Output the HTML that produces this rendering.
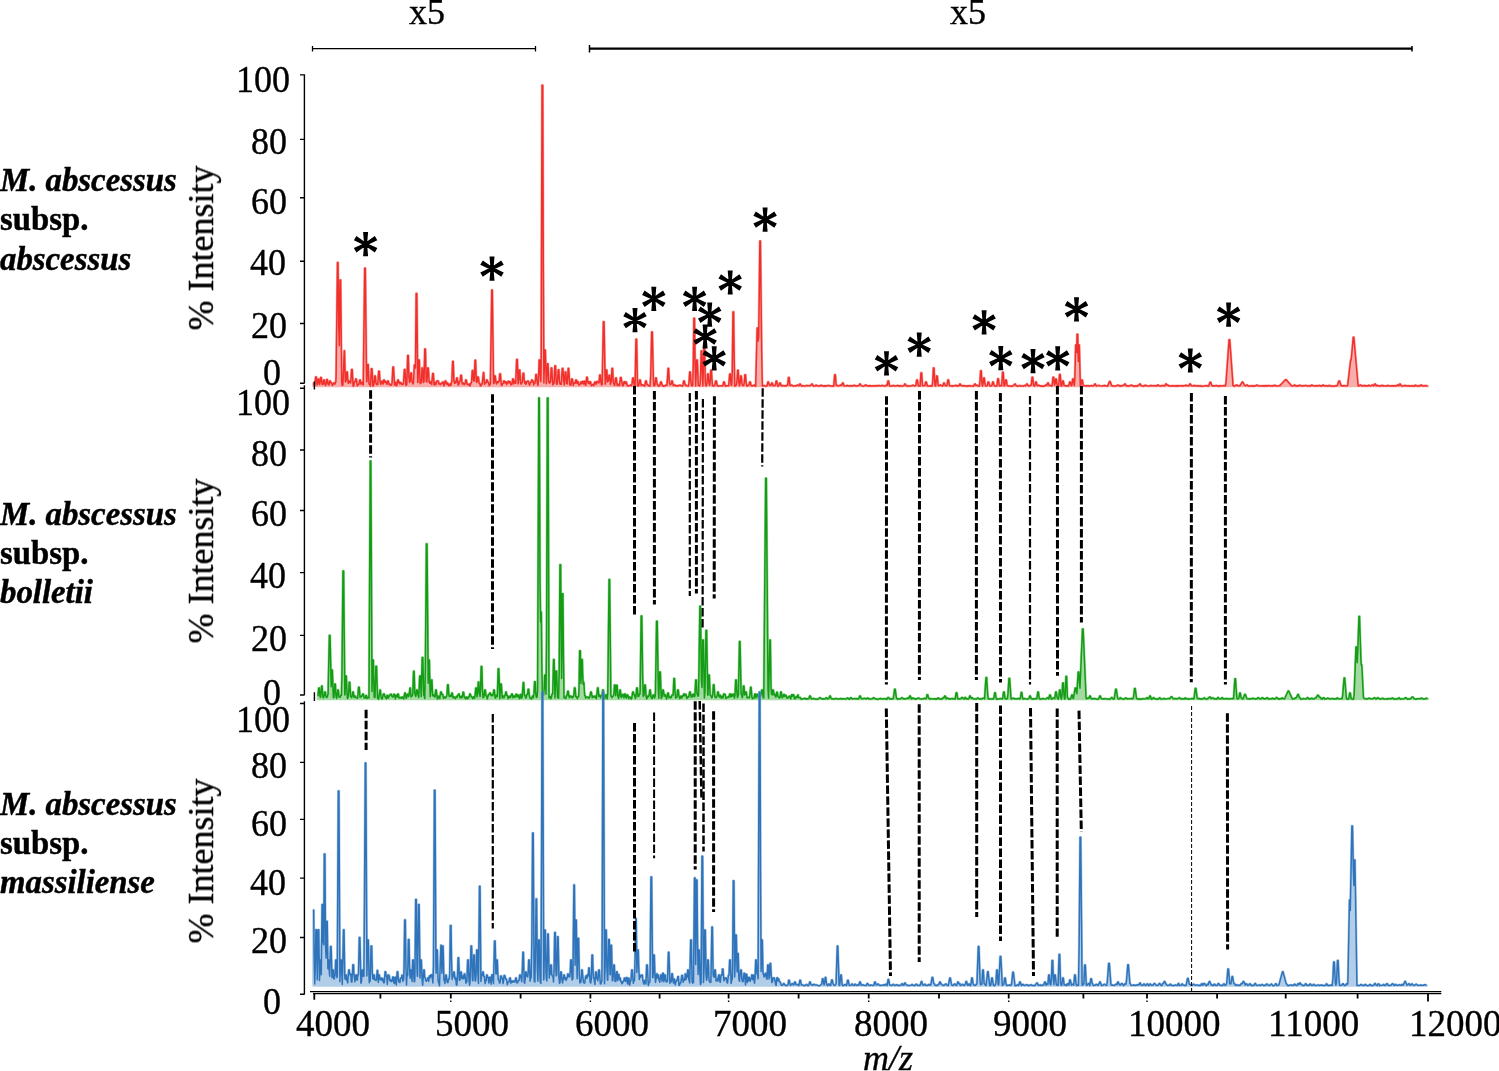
<!DOCTYPE html>
<html><head><meta charset="utf-8"><style>
html,body{margin:0;padding:0;background:#fff;width:1499px;height:1071px;overflow:hidden}
#c{position:relative;width:1499px;height:1071px;overflow:hidden}
.yl,.xl,.x5,.mz,.sp,.yt{position:absolute;will-change:transform;font-family:"Liberation Serif",serif;color:#000;white-space:nowrap;line-height:1}
.yl,.x5{font-size:36px}
.yl,.xl,.x5,.mz,.yt{-webkit-text-stroke:0.35px #000}
.yl{transform:scaleY(1.055);transform-origin:0 30px}
.xl{font-size:37px}
.mz{font-size:36px;font-style:italic}
.sp{left:0;font-size:32.8px;font-weight:bold;line-height:1;-webkit-text-stroke:0.45px #000}
.sp.bi{font-style:italic}
.yt{font-size:36px;transform:translate(-50%,-50%) rotate(-90deg);transform-origin:center}
</style></head><body><div id="c">
<svg width="1499" height="1071" viewBox="0 0 1499 1071" style="position:absolute;left:0;top:0"><g stroke="#000" fill="none"><path d="M312.5 48.7H535.5M312.5 46H312.5V51.6M535.5 46V51.6" stroke-width="1.3"/><path d="M589.5 48.7H1412.3" stroke-width="2.2"/><path d="M589.5 45V52.5M1412 46V51.5" stroke-width="1.5"/></g><path d="M313.5 383.2L313.8 383.2L314.7 385.9L315.7 377.0L316.3 377.0L317.1 385.1L317.7 383.0L318.3 379.0L318.8 379.0L319.5 384.6L320.2 381.8L320.7 377.5L321.3 377.5L321.9 383.5L322.2 384.6L322.5 384.6L323.1 384.1L323.7 380.0L324.3 380.0L324.9 384.1L325.5 385.4L326.1 384.0L326.7 379.5L327.3 379.5L327.9 383.6L328.5 384.9L329 384.9L329.7 381.0L330.3 381.1L331 383.1L331.6 383.1L332.1 385.0L332.7 385.4L333.5 382.9L334.1 382.9L334.5 384.1L335.1 384.1L335.5 382.4L335.8 382.4L336.1 377.1L337.5 262.5L338 262.5L338.7 324.7L339.3 345.7L340 280.0L340.6 280.0L341.7 383.2L342.3 385.5L342.9 385.1L344.3 350.7L344.5 350.7L345.3 382.0L345.5 381.2L346.1 381.2L346.7 372.0L347.3 372.0L347.7 378.4L348.3 383.3L348.7 381.1L349.3 381.1L349.5 382.5L350.6 382.5L350.7 382.9L351.6 369.5L352.2 369.5L353.1 386.1L353.7 386.0L354.4 382.0L354.9 382.0L355.5 380.6L355.7 379.0L356.3 379.0L357.3 385.9L358.5 384.3L359 384.3L359.7 380.0L360.3 380.0L360.9 384.2L361.5 383.9L361.8 382.4L362.4 382.4L362.7 384.5L363.3 385.0L364.7 268.2L365.3 268.2L366.4 368.2L366.7 381.8L366.9 381.8L367.6 364.6L368.2 364.6L369 384.0L369.6 384.2L370.5 386.1L371.4 368.7L372 368.7L372.9 386.2L373.5 385.9L374.1 382.9L374.7 376.0L375.3 376.0L375.9 382.9L376.5 384.6L376.8 383.7L377.4 383.7L377.7 384.7L378.7 371.2L379.3 371.2L380.1 382.6L380.3 382.6L380.7 384.4L381.3 382.8L381.6 381.2L382.2 381.2L382.5 382.8L383.1 384.1L383.7 380.0L384.3 380.0L384.9 382.5L385.2 381.4L385.8 381.4L386.8 384.2L387.1 384.2L387.7 381.0L388.3 381.0L389.1 384.7L389.5 384.2L390.1 384.2L390.9 385.4L391.5 385.0L392.1 382.6L392.9 367.1L393.5 367.1L394.5 385.1L395.1 382.2L395.6 382.2L396.3 385.8L396.9 385.5L397.7 380.0L398.3 380.0L398.7 382.8L399 382.1L399.6 382.1L399.9 384.0L400.6 382.8L401.2 382.8L401.7 384.1L402.3 384.7L402.9 383.9L403.4 383.9L403.5 384.1L404.4 369.5L405 369.5L405.9 385.4L406.2 384.8L406.8 384.8L407.7 355.6L408.3 355.6L408.9 376.6L409.5 382.5L409.8 381.4L410.1 381.4L410.7 373.0L411.3 373.0L412 382.3L412.6 382.2L413.1 384.0L413.5 382.6L414.3 365.0L414.8 365.0L414.9 367.4L415.5 367.9L416.2 293.5L416.8 293.5L417.7 382.5L417.9 382.5L418.7 360.0L419.3 360.0L420 381.8L420.3 383.7L420.9 383.2L421.4 381.4L422.1 367.9L422.6 367.9L423.3 382.5L424 382.1L424.8 349.1L425.4 349.1L426.2 381.3L426.8 381.4L426.9 382.2L427.7 368.0L428.3 368.0L429.1 381.4L429.3 382.3L429.9 383.3L430.3 381.8L430.9 381.8L431.7 384.6L432.7 373.6L433.3 373.6L434.1 385.0L434.6 382.6L435.2 382.6L435.3 383.4L435.9 384.7L436.8 381.0L438.3 381.0L438.9 384.1L439.2 383.4L439.8 383.5L440.1 384.2L440.7 384.6L441.3 383.2L441.9 383.3L442.5 382.9L442.6 382.0L443.2 382.0L443.7 385.7L444.3 385.1L445.2 381.0L445.8 381.0L446.1 382.7L446.7 384.2L447.1 383.0L447.7 383.0L448.5 385.4L449.1 385.8L449.8 384.0L450.4 384.0L450.9 385.4L451.5 382.3L451.8 382.3L452.7 361.4L453.2 361.4L453.9 381.2L454.5 383.4L454.8 381.5L455.4 381.4L455.7 383.0L456.3 381.7L456.7 378.0L457.3 378.0L458.1 385.1L458.7 384.8L459.6 381.3L460.2 381.3L460.8 375.2L461.4 375.2L462 382.6L462.3 384.0L462.9 383.0L463.4 383.0L464.1 384.7L464.7 384.2L465.4 382.2L465.7 380.0L466.3 380.0L467.1 384.3L467.6 384.3L468.3 385.0L468.7 384.2L469.3 384.1L470.1 386.0L470.9 383.0L471.5 383.0L472.3 370.5L472.9 370.5L473.4 379.6L473.7 381.1L474.3 381.0L475 360.3L475.6 360.3L476.3 380.7L476.7 382.6L477.3 381.1L477.7 377.0L478.3 377.0L479.1 383.2L479.7 383.2L480.3 385.8L480.9 385.9L481.6 384.1L482.2 384.1L483.5 372.5L483.7 372.5L484.5 384.3L485.1 382.4L485.7 382.4L486.3 382.8L486.7 380.0L487.3 380.0L487.5 381.4L487.9 382.3L488.4 382.3L489.3 385.7L489.9 384.3L490.4 384.3L491.8 290.0L492.3 290.0L493.5 381.4L493.7 383.6L494 383.6L494.7 376.0L495.3 376.0L495.9 382.5L496 382.5L496.5 384.0L497.3 381.8L497.9 381.8L498.3 382.6L498.6 381.3L499.2 381.3L499.8 373.9L500.4 373.9L501.3 385.1L501.9 385.5L502.7 383.5L503.3 383.5L503.7 381.0L504.3 381.0L504.9 383.1L505.3 381.8L505.9 381.8L506.7 384.6L507.3 382.4L507.8 382.4L507.9 382.9L508.2 381.3L508.8 381.3L509.1 382.9L509.7 381.7L510.2 381.7L510.9 384.8L511.5 384.8L512.1 383.8L512.7 379.0L513.3 379.0L513.9 383.8L514.7 381.1L515.3 381.1L515.7 383.3L516.7 359.6L517.3 359.6L518.1 383.9L518.7 379.2L519.3 370.0L519.8 370.0L520.5 382.9L521.1 384.3L521.7 382.8L522.2 382.8L523.1 373.2L523.7 373.2L524.2 380.7L524.7 383.2L524.9 381.8L525.5 381.8L525.9 384.4L526.5 382.8L526.6 381.8L527.2 381.9L527.7 381.0L528.3 381.0L529.5 385.3L530.7 382.2L531.2 382.3L531.7 380.0L532.3 380.0L532.5 381.4L533.2 381.2L533.7 384.9L534.2 382.9L534.8 382.9L534.9 383.4L535.5 379.8L535.9 374.5L536.5 374.5L537.3 383.1L537.9 385.4L538.5 380.9L539.2 360.0L539.8 360.0L540.3 374.9L540.9 381.6L541.2 355.9L542.1 85.2L542.7 85.2L543.3 265.7L543.9 383.1L544.8 350.0L545.3 350.0L546.3 383.7L546.5 383.0L547.5 363.7L548 363.7L548.7 381.6L549.3 383.2L549.6 381.8L550.2 381.8L550.5 382.5L551.2 368.0L551.8 368.0L552.3 378.3L552.9 384.9L553.7 383.3L554.1 383.3L554.9 365.7L555.5 365.7L556.3 383.9L556.9 383.9L557.1 384.3L557.7 378.4L558.3 369.8L558.8 369.8L559.5 382.8L560.1 384.2L560.4 383.1L561 383.1L561.3 384.2L562.3 368.4L562.9 368.4L563.7 381.9L563.9 381.9L564.3 385.0L565.2 372.0L565.8 372.0L566.5 383.6L567.1 383.6L567.3 384.0L568.2 368.4L568.7 368.4L569.7 384.6L569.9 384.0L570.5 384.0L570.9 385.2L571.7 379.0L572.3 379.0L573.3 385.4L573.9 382.9L574.4 382.9L574.5 383.3L575.1 383.3L575.8 380.0L576.4 380.0L576.9 383.4L577.5 381.6L578 381.6L578.7 384.8L579.3 385.2L580 384.1L580.3 384.0L580.7 382.0L581.3 382.0L581.7 383.8L582.3 382.3L582.5 381.4L583 381.4L583.5 384.1L584.2 381.3L584.8 381.3L585.3 385.1L585.9 385.3L586.7 377.2L587.3 377.2L587.7 381.2L588.3 383.4L588.5 382.1L589.1 382.1L589.5 383.7L589.9 381.7L590.5 381.7L591.3 385.8L591.9 385.3L592.7 384.5L593 384.5L593.7 385.7L594.7 382.0L595.3 382.0L596.1 384.4L597 381.4L597.5 381.4L597.9 382.6L598.9 383.0L599.1 382.6L599.7 375.0L600.3 375.0L600.9 382.3L601.5 385.0L601.6 384.6L602.2 384.6L603.4 321.7L604 321.7L605.2 384.3L605.5 383.4L606.3 370.0L606.8 370.0L607.5 381.9L607.7 381.0L608.3 381.0L608.7 378.9L609.1 375.2L609.6 375.2L610.5 384.6L611.1 381.9L611.3 381.9L612 368.4L612.6 368.4L613.2 381.5L614.1 384.9L614.7 385.4L615.7 378.0L616.3 378.0L617.1 385.4L617.7 384.3L618.3 384.4L618.9 385.6L619.5 385.6L620.5 377.5L621.1 377.5L621.9 382.9L622.1 383.0L622.5 385.3L623.1 385.8L624.1 381.8L624.7 381.8L625.3 383.8L625.7 382.0L626.3 382.0L627.3 385.8L627.9 385.7L628.5 386.0L630.7 385.1L631.5 385.7L632.1 383.5L632.7 378.0L633.3 378.0L633.9 383.5L634.5 386.0L635.1 386.0L636 339.2L636.6 339.2L637.5 385.7L638.1 386.0L638.7 385.8L639.7 380.0L640.3 380.0L641.1 385.5L641.7 385.4L642.3 384.8L642.9 384.8L643.5 385.4L644.7 386.2L645.7 381.0L646.3 381.0L646.9 384.6L647.5 384.6L648.9 386.0L650.1 386.1L650.7 377.2L651.7 332.0L652.3 332.0L653.3 377.2L653.7 385.2L654.3 385.9L654.9 385.4L655.7 378.0L656.3 378.0L656.7 381.7L657.3 384.8L657.9 384.8L658.5 386.2L659.1 385.7L659.7 385.9L660.7 382.0L661.3 382.0L662.1 385.1L662.3 385.1L662.7 385.8L663.3 386.2L663.9 385.7L664.5 385.7L665.1 386.1L666.1 384.9L666.7 384.9L666.9 385.1L667.5 378.5L668.1 368.4L668.6 368.4L669.3 382.6L669.9 384.8L671.1 384.4L671.7 381.0L672.3 381.0L672.9 384.4L673.5 385.8L674.4 384.9L675 384.9L675.9 385.9L676.5 385.8L677.1 386.0L677.7 385.8L678.3 386.0L679.5 385.2L680.1 385.2L681.3 385.9L681.9 385.7L682.5 386.1L683.1 384.4L683.7 381.0L684.3 381.0L685.1 384.9L685.7 384.9L686.7 385.9L687.3 386.1L687.9 385.9L688.5 386.1L689.1 381.7L689.7 372.0L690.3 372.0L690.9 381.7L691.5 385.8L692.7 385.7L693.3 365.0L693.9 318.3L694.5 318.3L695.1 365.0L695.7 385.9L696.7 360.0L697.3 360.0L698.3 385.4L699.3 385.9L699.9 385.8L700.5 379.2L701.2 351.1L701.8 351.1L702.3 371.2L702.9 386.0L703.9 345.6L704.5 345.6L705.3 382.7L705.9 385.8L706.5 385.8L707.1 382.3L707.7 374.0L708.3 374.0L708.9 382.3L709.5 385.3L709.8 385.1L710.1 382.9L710.8 370.2L711.4 370.2L711.9 379.3L712.5 385.8L713.1 385.8L713.7 386.1L714.3 385.6L715 384.5L715.7 381.0L716.3 381.0L717.3 385.8L717.9 386.0L722.1 385.7L722.7 385.9L723.7 382.0L724.3 382.0L725.1 385.7L725.7 386.2L726.3 385.8L728.1 385.7L728.7 385.8L729.7 374.0L730.3 374.0L731.1 385.0L731.7 385.3L732.3 371.5L733 311.9L733.6 311.9L734.1 354.5L734.7 386.2L735.3 385.8L735.9 385.0L736.5 385.0L737.1 379.3L737.7 370.2L738.2 370.2L738.9 382.9L739.5 385.9L740.1 382.9L740.7 376.0L741.3 376.0L741.9 382.9L742.5 385.4L743.3 385.2L743.7 385.5L744.3 382.5L744.9 374.7L745.5 374.7L746.1 382.5L746.7 385.8L747.3 386.1L748.1 385.3L748.7 385.3L749.1 384.8L749.7 382.0L750.3 382.0L750.9 384.8L751.5 386.0L752.1 385.7L752.7 386.0L754 385.0L754.3 385.0L755.1 386.1L755.7 386.2L757.2 328.0L757.8 328.0L758.1 341.1L758.7 337.7L759.9 241.0L760.4 241.0L761.7 355.2L762.3 386.0L762.9 386.1L763.6 385.6L764.2 385.6L765.9 386.2L767.1 385.7L767.9 382.0L768.5 382.0L768.9 383.8L769.6 385.2L770.2 385.2L770.7 385.6L771.3 384.4L771.7 383.0L772.3 383.0L773.1 385.8L774.9 385.7L775.6 384.0L776.2 381.0L776.7 381.0L777.3 384.4L777.9 386.2L779.1 385.1L779.7 383.0L780.3 383.0L780.9 385.1L781.5 385.9L783 385.6L783.9 385.9L785.1 385.8L785.7 386.0L787.1 385.1L787.7 385.1L788.5 377.5L789.1 377.5L789.9 385.3L790.5 385.5L791.7 385.1L792.9 386.0L793.5 386.1L794.1 385.9L795.3 386.0L797.5 385.1L798.9 385.8L799.7 384.0L800.3 384.0L801.3 385.9L801.9 386.2L802.5 385.8L803.7 385.8L804.3 386.1L805.5 385.9L806.9 385.4L807.3 385.8L809.7 385.8L810.5 385.4L810.9 385.5L811.7 384.0L812.3 384.0L813.3 386.1L813.9 385.9L814.5 386.0L815.1 385.9L815.9 385.3L816.5 385.3L817.5 386.0L818.1 385.8L818.7 386.1L819.9 386.0L820.7 385.3L821.3 385.3L822.3 386.0L822.9 385.8L824.1 386.2L824.7 385.8L825.3 386.2L825.9 385.7L826.5 386.0L828.7 385.4L829.5 385.8L830.7 386.1L831.9 386.0L832.5 386.2L833.1 385.8L833.7 386.1L834.7 374.7L835.3 374.7L836.1 385.1L836.8 385.2L837.9 386.1L839.7 385.6L840.4 385.1L841 385.1L841.5 385.5L842.1 384.4L842.5 383.0L843.1 383.0L843.9 385.8L845.7 386.0L847.6 385.5L848.1 385.9L850.5 385.7L851.1 386.1L852.3 385.8L852.9 385.9L854.5 385.3L855.3 385.9L855.9 385.9L856.5 386.1L857.1 385.8L858.9 385.8L859.7 384.0L860.3 384.0L860.8 385.2L861.9 385.9L863.7 386.2L865.6 385.0L867.3 385.9L867.9 385.8L868.5 386.1L869.1 385.7L869.7 386.0L870.3 385.7L870.9 386.1L875.7 385.7L876.3 386.0L878.7 385.5L879.3 385.8L881.7 385.8L882.4 385.4L884.1 386.1L885.3 385.9L886.1 385.3L886.7 385.3L887.1 385.5L888 381.0L888.6 381.0L889.5 386.0L891.3 386.1L893.4 385.5L894.9 386.1L898 385.5L899.1 386.2L899.7 386.1L900.3 385.7L900.9 385.8L901.5 386.2L903.9 385.8L904.7 384.0L905.3 384.0L906.3 386.0L906.9 385.8L908.1 386.2L908.7 385.9L909.3 386.1L911.7 385.8L912.5 385.3L913.1 385.3L914.1 385.9L914.7 386.0L915.9 385.5L916.7 380.0L917.3 380.0L918.3 385.8L918.9 386.0L919.5 385.8L920.1 386.1L921 372.9L921.6 372.9L922.5 385.8L924.9 385.5L925.7 382.0L926.3 382.0L927.3 386.0L927.9 385.9L928.5 386.1L929.1 385.8L929.7 386.1L930.3 385.8L931.5 386.2L932.1 385.8L932.7 382.5L933.4 368.1L934 368.1L934.5 378.4L935.1 386.0L935.7 386.0L936.7 376.0L937.3 376.0L938.1 385.2L938.7 385.7L939.3 385.7L940.1 385.1L940.7 385.1L941.7 385.8L942.3 386.0L942.9 385.8L943.7 383.0L944.3 383.0L945.3 385.8L946.5 385.8L947.1 385.5L947.9 379.9L948.5 379.9L949.5 385.7L950.7 385.7L951.3 386.1L951.9 386.0L952.5 386.2L953.1 385.7L954.9 385.8L955.7 385.3L956.1 385.4L956.7 386.0L957.9 385.8L958.5 386.0L959.1 385.4L959.7 384.0L960.3 384.0L960.9 385.4L961.5 385.8L963.3 385.7L963.9 386.0L964.5 385.8L965.7 386.1L966.3 385.9L967.5 386.2L968.1 385.7L971.1 385.9L971.7 386.1L972.3 386.1L972.9 385.8L973.5 386.2L974.1 385.4L974.7 384.0L975.3 384.0L975.9 385.4L977.2 385.2L978.3 386.2L978.9 385.8L979.5 385.9L980.1 379.5L980.7 370.7L981.2 370.7L981.9 383.0L982.5 386.0L983.1 383.5L983.7 378.0L984.3 378.0L984.9 383.5L985.5 385.9L987.3 385.7L988.1 382.0L988.7 382.0L989.7 385.8L990.9 386.1L991.5 385.9L992.1 384.8L992.7 382.0L993.3 382.0L993.9 384.8L994.5 385.8L995.7 386.2L996.3 385.8L996.9 386.0L997.8 378.8L998.4 378.8L999.3 386.0L1001.1 385.5L1001.7 385.7L1002.6 372.3L1003.2 372.3L1004.1 386.0L1004.7 385.7L1005.7 380.0L1006.3 380.0L1007.1 385.5L1008.3 386.0L1009.5 386.1L1010.7 386.0L1012.5 386.2L1013.1 385.8L1013.7 385.1L1014.3 384.9L1014.7 384.0L1015.3 384.0L1016.1 385.8L1017.9 386.2L1019.7 385.6L1020.3 385.9L1022.7 385.9L1023.3 386.2L1024.5 385.5L1025.1 385.5L1025.7 385.9L1026.7 384.0L1027.3 384.0L1028.1 385.8L1028.7 385.7L1029.3 386.1L1029.9 385.9L1030.8 385.2L1031.1 385.2L1031.4 384.0L1032.1 377.2L1032.7 377.2L1033.5 385.3L1034.7 386.1L1035.7 382.0L1036.3 382.0L1037.1 385.7L1037.7 385.7L1039 385.3L1039.5 385.8L1040.1 385.7L1040.7 386.2L1042.5 385.9L1043.7 386.2L1044.3 386.1L1045.7 385.1L1046.3 385.1L1046.7 385.6L1047.7 383.0L1048.3 383.0L1049.1 385.6L1050 385.4L1051.5 386.1L1052.1 385.9L1053.1 377.2L1053.7 377.2L1054.5 385.3L1055.1 383.8L1055.7 379.0L1056.3 379.0L1056.9 383.8L1057.5 386.0L1058.7 385.9L1059.6 374.5L1060.2 374.5L1061.1 386.1L1061.7 386.0L1062.7 381.0L1063.3 381.0L1064.1 385.6L1066.5 386.1L1067.1 385.7L1068.3 386.1L1068.9 385.7L1069.7 382.0L1070.3 382.0L1071.3 385.8L1071.9 385.4L1072.7 379.0L1073.3 379.0L1074.3 385.7L1074.9 377.8L1075.7 345.0L1076.3 345.0L1076.7 352.5L1077.1 334.2L1077.7 334.2L1078.3 361.4L1078.7 345.0L1079.3 345.0L1080.3 386.0L1080.9 385.5L1081.7 380.0L1082.3 380.0L1083.3 385.8L1085.1 385.7L1086.3 386.1L1086.9 385.7L1088.7 385.8L1089.3 386.2L1089.9 385.9L1090.5 385.9L1091.7 385.6L1092.9 386.1L1094.1 385.4L1094.7 384.0L1095.3 384.0L1095.9 385.4L1096.5 386.1L1098.9 385.4L1099.5 385.7L1102.5 386.0L1104.4 385.5L1107.3 386.2L1107.9 385.8L1109.5 381.5L1110.1 381.5L1111.5 385.3L1112.1 385.9L1115.7 386.1L1116.9 385.7L1117.7 385.2L1118.3 385.2L1119.9 386.2L1120.5 386.1L1121.1 385.7L1122.3 385.9L1123.6 385.1L1124.1 385.3L1124.7 384.0L1125.3 384.0L1125.9 385.4L1126.5 386.1L1127.1 386.1L1127.7 385.7L1129.5 386.1L1131 385.2L1131.6 385.2L1133.1 386.2L1133.7 386.0L1134.9 386.2L1135.5 385.8L1136.1 386.2L1136.7 385.8L1137.3 386.1L1138.8 385.0L1139.2 385.0L1139.7 384.0L1140.3 384.0L1140.9 385.4L1141.5 385.8L1142.7 385.9L1143.3 386.2L1145.6 385.2L1146.3 385.7L1149.3 386.0L1151.2 385.5L1151.7 385.8L1154.7 385.7L1155.3 385.9L1155.9 385.7L1156.5 386.1L1157.1 385.8L1157.7 385.0L1158.3 385.0L1158.9 385.7L1159.5 385.9L1160.1 385.9L1160.7 386.1L1162.8 385.6L1164.3 386.0L1164.9 385.8L1165.7 384.0L1166.3 384.0L1166.7 384.9L1167.8 385.0L1168.5 385.8L1169.1 386.0L1169.7 385.8L1170.3 386.1L1172.8 385.7L1173.9 386.1L1175.1 385.7L1175.7 386.1L1176.3 386.1L1176.9 385.7L1177.5 386.2L1178.7 385.7L1179.3 385.8L1180.2 385.7L1181.1 385.9L1181.7 385.8L1182.3 386.0L1182.9 385.8L1184.1 385.9L1186 385.3L1187.1 385.8L1188.9 385.8L1189.7 384.0L1190.3 384.0L1191.3 385.7L1193.1 385.9L1194.4 385.6L1196.7 386.1L1197.9 385.8L1199.1 386.0L1200.9 385.7L1201.5 386.2L1203.9 386.1L1205.8 385.7L1206.9 385.7L1207.5 386.1L1208.1 385.9L1208.7 386.1L1210.1 382.3L1210.7 382.3L1211.7 385.1L1212.3 385.9L1212.9 385.8L1214.1 386.0L1216.8 385.6L1218.3 386.2L1219.5 385.7L1220.1 386.1L1223.7 385.7L1224.9 385.6L1225.5 385.9L1226.1 382.1L1229.1 339.8L1229.7 339.8L1233 385.4L1233.9 386.1L1234.5 386.2L1236.5 385.0L1236.9 385.1L1237.5 385.6L1238.7 386.0L1239.3 385.7L1239.9 385.8L1242.4 382.0L1242.7 382.0L1244.7 385.5L1245.3 385.9L1246.6 385.0L1247.2 385.0L1248.3 386.1L1250.1 386.1L1251.9 385.8L1253.1 386.2L1254.3 385.8L1255.5 386.0L1256.7 385.2L1257.3 385.2L1257.9 385.6L1259.1 386.0L1260.9 385.9L1261.5 386.0L1262.7 385.9L1263.9 385.7L1264.5 386.1L1265.1 385.7L1265.7 386.0L1266.3 385.7L1267.5 385.9L1268.9 385.6L1270.5 386.1L1272.3 385.7L1272.9 386.0L1275 385.3L1276.5 386.1L1278.9 385.8L1279.9 385.4L1280.1 385.6L1285.5 379.7L1286.1 379.7L1291.5 385.8L1292.1 386.0L1293.9 385.7L1294.3 385.1L1294.9 385.1L1295.7 386.1L1297.5 385.8L1298.1 386.2L1298.7 385.8L1299.5 385.2L1299.8 385.2L1300.5 385.7L1301.1 385.8L1301.7 385.7L1302.3 386.1L1303.5 385.7L1304.1 385.9L1305.7 385.4L1307.7 386.1L1308.3 385.8L1308.9 386.1L1309.5 385.8L1310.7 386.1L1311.5 385.1L1312.1 385.1L1312.5 385.6L1314.3 385.9L1315.5 386.0L1316.1 385.7L1316.7 386.0L1319.5 385.5L1321.5 386.2L1322.9 385.1L1323.5 385.1L1323.9 385.7L1325.1 386.0L1325.7 385.8L1328.1 386.1L1329.4 385.4L1329.9 385.6L1330.5 386.1L1332.3 385.9L1332.9 386.2L1334.7 386.1L1335.3 385.8L1335.9 385.9L1337.3 385.6L1338.9 381.0L1339.5 381.0L1341 385.4L1341.9 385.9L1342.5 385.8L1343.1 386.0L1343.7 385.7L1344.3 385.9L1344.9 385.7L1346.1 386.1L1347.7 385.5L1350.7 360.0L1351 360.0L1351.3 359.0L1353.3 337.2L1353.8 337.2L1358.1 386.0L1359.3 385.7L1360 385.1L1360.7 385.1L1362.3 386.1L1364.3 385.5L1365.3 386.0L1365.9 385.8L1366.5 386.0L1367.7 385.9L1368.4 385.4L1369 385.3L1370.1 386.0L1371.3 385.7L1372.1 385.0L1372.7 385.0L1373.7 385.9L1374.7 384.0L1375.3 384.0L1376.1 385.8L1376.7 385.3L1377.3 385.3L1377.9 385.9L1379.1 386.0L1379.7 385.8L1380.9 386.1L1382.1 385.4L1382.7 385.4L1383.3 385.9L1386.3 386.0L1387.9 385.5L1389.3 386.0L1393.5 385.7L1394.1 386.0L1394.7 385.8L1395.3 386.0L1396.5 385.9L1397.3 385.0L1397.9 385.0L1398.9 385.8L1399.7 384.0L1400.3 384.0L1401.3 385.9L1403.1 386.1L1405 385.5L1406.7 385.7L1407.3 386.0L1407.9 386.0L1409.1 385.7L1409.7 386.0L1411.5 386.0L1412.1 385.7L1412.7 386.0L1413.9 385.9L1414.5 386.2L1415.3 385.2L1415.9 385.2L1416.3 385.7L1417.5 386.1L1418.1 385.8L1419.3 386.2L1420.8 385.1L1421.4 385.1L1422.3 385.9L1424.1 385.9L1425.5 385.6L1426.5 386.0L1427.1 385.9L1427.7 386.2L1427.7 386.0L313.5 386.0Z" fill="#f57a76" stroke="#f57a76" stroke-width="2.6" stroke-linejoin="round" opacity="0.6"/><path d="M313.5 383.2L313.8 383.2L314.7 385.9L315.7 377.0L316.3 377.0L317.1 385.1L317.7 383.0L318.3 379.0L318.8 379.0L319.5 384.6L320.2 381.8L320.7 377.5L321.3 377.5L321.9 383.5L322.2 384.6L322.5 384.6L323.1 384.1L323.7 380.0L324.3 380.0L324.9 384.1L325.5 385.4L326.1 384.0L326.7 379.5L327.3 379.5L327.9 383.6L328.5 384.9L329 384.9L329.7 381.0L330.3 381.1L331 383.1L331.6 383.1L332.1 385.0L332.7 385.4L333.5 382.9L334.1 382.9L334.5 384.1L335.1 384.1L335.5 382.4L335.8 382.4L336.1 377.1L337.5 262.5L338 262.5L338.7 324.7L339.3 345.7L340 280.0L340.6 280.0L341.7 383.2L342.3 385.5L342.9 385.1L344.3 350.7L344.5 350.7L345.3 382.0L345.5 381.2L346.1 381.2L346.7 372.0L347.3 372.0L347.7 378.4L348.3 383.3L348.7 381.1L349.3 381.1L349.5 382.5L350.6 382.5L350.7 382.9L351.6 369.5L352.2 369.5L353.1 386.1L353.7 386.0L354.4 382.0L354.9 382.0L355.5 380.6L355.7 379.0L356.3 379.0L357.3 385.9L358.5 384.3L359 384.3L359.7 380.0L360.3 380.0L360.9 384.2L361.5 383.9L361.8 382.4L362.4 382.4L362.7 384.5L363.3 385.0L364.7 268.2L365.3 268.2L366.4 368.2L366.7 381.8L366.9 381.8L367.6 364.6L368.2 364.6L369 384.0L369.6 384.2L370.5 386.1L371.4 368.7L372 368.7L372.9 386.2L373.5 385.9L374.1 382.9L374.7 376.0L375.3 376.0L375.9 382.9L376.5 384.6L376.8 383.7L377.4 383.7L377.7 384.7L378.7 371.2L379.3 371.2L380.1 382.6L380.3 382.6L380.7 384.4L381.3 382.8L381.6 381.2L382.2 381.2L382.5 382.8L383.1 384.1L383.7 380.0L384.3 380.0L384.9 382.5L385.2 381.4L385.8 381.4L386.8 384.2L387.1 384.2L387.7 381.0L388.3 381.0L389.1 384.7L389.5 384.2L390.1 384.2L390.9 385.4L391.5 385.0L392.1 382.6L392.9 367.1L393.5 367.1L394.5 385.1L395.1 382.2L395.6 382.2L396.3 385.8L396.9 385.5L397.7 380.0L398.3 380.0L398.7 382.8L399 382.1L399.6 382.1L399.9 384.0L400.6 382.8L401.2 382.8L401.7 384.1L402.3 384.7L402.9 383.9L403.4 383.9L403.5 384.1L404.4 369.5L405 369.5L405.9 385.4L406.2 384.8L406.8 384.8L407.7 355.6L408.3 355.6L408.9 376.6L409.5 382.5L409.8 381.4L410.1 381.4L410.7 373.0L411.3 373.0L412 382.3L412.6 382.2L413.1 384.0L413.5 382.6L414.3 365.0L414.8 365.0L414.9 367.4L415.5 367.9L416.2 293.5L416.8 293.5L417.7 382.5L417.9 382.5L418.7 360.0L419.3 360.0L420 381.8L420.3 383.7L420.9 383.2L421.4 381.4L422.1 367.9L422.6 367.9L423.3 382.5L424 382.1L424.8 349.1L425.4 349.1L426.2 381.3L426.8 381.4L426.9 382.2L427.7 368.0L428.3 368.0L429.1 381.4L429.3 382.3L429.9 383.3L430.3 381.8L430.9 381.8L431.7 384.6L432.7 373.6L433.3 373.6L434.1 385.0L434.6 382.6L435.2 382.6L435.3 383.4L435.9 384.7L436.8 381.0L438.3 381.0L438.9 384.1L439.2 383.4L439.8 383.5L440.1 384.2L440.7 384.6L441.3 383.2L441.9 383.3L442.5 382.9L442.6 382.0L443.2 382.0L443.7 385.7L444.3 385.1L445.2 381.0L445.8 381.0L446.1 382.7L446.7 384.2L447.1 383.0L447.7 383.0L448.5 385.4L449.1 385.8L449.8 384.0L450.4 384.0L450.9 385.4L451.5 382.3L451.8 382.3L452.7 361.4L453.2 361.4L453.9 381.2L454.5 383.4L454.8 381.5L455.4 381.4L455.7 383.0L456.3 381.7L456.7 378.0L457.3 378.0L458.1 385.1L458.7 384.8L459.6 381.3L460.2 381.3L460.8 375.2L461.4 375.2L462 382.6L462.3 384.0L462.9 383.0L463.4 383.0L464.1 384.7L464.7 384.2L465.4 382.2L465.7 380.0L466.3 380.0L467.1 384.3L467.6 384.3L468.3 385.0L468.7 384.2L469.3 384.1L470.1 386.0L470.9 383.0L471.5 383.0L472.3 370.5L472.9 370.5L473.4 379.6L473.7 381.1L474.3 381.0L475 360.3L475.6 360.3L476.3 380.7L476.7 382.6L477.3 381.1L477.7 377.0L478.3 377.0L479.1 383.2L479.7 383.2L480.3 385.8L480.9 385.9L481.6 384.1L482.2 384.1L483.5 372.5L483.7 372.5L484.5 384.3L485.1 382.4L485.7 382.4L486.3 382.8L486.7 380.0L487.3 380.0L487.5 381.4L487.9 382.3L488.4 382.3L489.3 385.7L489.9 384.3L490.4 384.3L491.8 290.0L492.3 290.0L493.5 381.4L493.7 383.6L494 383.6L494.7 376.0L495.3 376.0L495.9 382.5L496 382.5L496.5 384.0L497.3 381.8L497.9 381.8L498.3 382.6L498.6 381.3L499.2 381.3L499.8 373.9L500.4 373.9L501.3 385.1L501.9 385.5L502.7 383.5L503.3 383.5L503.7 381.0L504.3 381.0L504.9 383.1L505.3 381.8L505.9 381.8L506.7 384.6L507.3 382.4L507.8 382.4L507.9 382.9L508.2 381.3L508.8 381.3L509.1 382.9L509.7 381.7L510.2 381.7L510.9 384.8L511.5 384.8L512.1 383.8L512.7 379.0L513.3 379.0L513.9 383.8L514.7 381.1L515.3 381.1L515.7 383.3L516.7 359.6L517.3 359.6L518.1 383.9L518.7 379.2L519.3 370.0L519.8 370.0L520.5 382.9L521.1 384.3L521.7 382.8L522.2 382.8L523.1 373.2L523.7 373.2L524.2 380.7L524.7 383.2L524.9 381.8L525.5 381.8L525.9 384.4L526.5 382.8L526.6 381.8L527.2 381.9L527.7 381.0L528.3 381.0L529.5 385.3L530.7 382.2L531.2 382.3L531.7 380.0L532.3 380.0L532.5 381.4L533.2 381.2L533.7 384.9L534.2 382.9L534.8 382.9L534.9 383.4L535.5 379.8L535.9 374.5L536.5 374.5L537.3 383.1L537.9 385.4L538.5 380.9L539.2 360.0L539.8 360.0L540.3 374.9L540.9 381.6L541.2 355.9L542.1 85.2L542.7 85.2L543.3 265.7L543.9 383.1L544.8 350.0L545.3 350.0L546.3 383.7L546.5 383.0L547.5 363.7L548 363.7L548.7 381.6L549.3 383.2L549.6 381.8L550.2 381.8L550.5 382.5L551.2 368.0L551.8 368.0L552.3 378.3L552.9 384.9L553.7 383.3L554.1 383.3L554.9 365.7L555.5 365.7L556.3 383.9L556.9 383.9L557.1 384.3L557.7 378.4L558.3 369.8L558.8 369.8L559.5 382.8L560.1 384.2L560.4 383.1L561 383.1L561.3 384.2L562.3 368.4L562.9 368.4L563.7 381.9L563.9 381.9L564.3 385.0L565.2 372.0L565.8 372.0L566.5 383.6L567.1 383.6L567.3 384.0L568.2 368.4L568.7 368.4L569.7 384.6L569.9 384.0L570.5 384.0L570.9 385.2L571.7 379.0L572.3 379.0L573.3 385.4L573.9 382.9L574.4 382.9L574.5 383.3L575.1 383.3L575.8 380.0L576.4 380.0L576.9 383.4L577.5 381.6L578 381.6L578.7 384.8L579.3 385.2L580 384.1L580.3 384.0L580.7 382.0L581.3 382.0L581.7 383.8L582.3 382.3L582.5 381.4L583 381.4L583.5 384.1L584.2 381.3L584.8 381.3L585.3 385.1L585.9 385.3L586.7 377.2L587.3 377.2L587.7 381.2L588.3 383.4L588.5 382.1L589.1 382.1L589.5 383.7L589.9 381.7L590.5 381.7L591.3 385.8L591.9 385.3L592.7 384.5L593 384.5L593.7 385.7L594.7 382.0L595.3 382.0L596.1 384.4L597 381.4L597.5 381.4L597.9 382.6L598.9 383.0L599.1 382.6L599.7 375.0L600.3 375.0L600.9 382.3L601.5 385.0L601.6 384.6L602.2 384.6L603.4 321.7L604 321.7L605.2 384.3L605.5 383.4L606.3 370.0L606.8 370.0L607.5 381.9L607.7 381.0L608.3 381.0L608.7 378.9L609.1 375.2L609.6 375.2L610.5 384.6L611.1 381.9L611.3 381.9L612 368.4L612.6 368.4L613.2 381.5L614.1 384.9L614.7 385.4L615.7 378.0L616.3 378.0L617.1 385.4L617.7 384.3L618.3 384.4L618.9 385.6L619.5 385.6L620.5 377.5L621.1 377.5L621.9 382.9L622.1 383.0L622.5 385.3L623.1 385.8L624.1 381.8L624.7 381.8L625.3 383.8L625.7 382.0L626.3 382.0L627.3 385.8L627.9 385.7L628.5 386.0L630.7 385.1L631.5 385.7L632.1 383.5L632.7 378.0L633.3 378.0L633.9 383.5L634.5 386.0L635.1 386.0L636 339.2L636.6 339.2L637.5 385.7L638.1 386.0L638.7 385.8L639.7 380.0L640.3 380.0L641.1 385.5L641.7 385.4L642.3 384.8L642.9 384.8L643.5 385.4L644.7 386.2L645.7 381.0L646.3 381.0L646.9 384.6L647.5 384.6L648.9 386.0L650.1 386.1L650.7 377.2L651.7 332.0L652.3 332.0L653.3 377.2L653.7 385.2L654.3 385.9L654.9 385.4L655.7 378.0L656.3 378.0L656.7 381.7L657.3 384.8L657.9 384.8L658.5 386.2L659.1 385.7L659.7 385.9L660.7 382.0L661.3 382.0L662.1 385.1L662.3 385.1L662.7 385.8L663.3 386.2L663.9 385.7L664.5 385.7L665.1 386.1L666.1 384.9L666.7 384.9L666.9 385.1L667.5 378.5L668.1 368.4L668.6 368.4L669.3 382.6L669.9 384.8L671.1 384.4L671.7 381.0L672.3 381.0L672.9 384.4L673.5 385.8L674.4 384.9L675 384.9L675.9 385.9L676.5 385.8L677.1 386.0L677.7 385.8L678.3 386.0L679.5 385.2L680.1 385.2L681.3 385.9L681.9 385.7L682.5 386.1L683.1 384.4L683.7 381.0L684.3 381.0L685.1 384.9L685.7 384.9L686.7 385.9L687.3 386.1L687.9 385.9L688.5 386.1L689.1 381.7L689.7 372.0L690.3 372.0L690.9 381.7L691.5 385.8L692.7 385.7L693.3 365.0L693.9 318.3L694.5 318.3L695.1 365.0L695.7 385.9L696.7 360.0L697.3 360.0L698.3 385.4L699.3 385.9L699.9 385.8L700.5 379.2L701.2 351.1L701.8 351.1L702.3 371.2L702.9 386.0L703.9 345.6L704.5 345.6L705.3 382.7L705.9 385.8L706.5 385.8L707.1 382.3L707.7 374.0L708.3 374.0L708.9 382.3L709.5 385.3L709.8 385.1L710.1 382.9L710.8 370.2L711.4 370.2L711.9 379.3L712.5 385.8L713.1 385.8L713.7 386.1L714.3 385.6L715 384.5L715.7 381.0L716.3 381.0L717.3 385.8L717.9 386.0L722.1 385.7L722.7 385.9L723.7 382.0L724.3 382.0L725.1 385.7L725.7 386.2L726.3 385.8L728.1 385.7L728.7 385.8L729.7 374.0L730.3 374.0L731.1 385.0L731.7 385.3L732.3 371.5L733 311.9L733.6 311.9L734.1 354.5L734.7 386.2L735.3 385.8L735.9 385.0L736.5 385.0L737.1 379.3L737.7 370.2L738.2 370.2L738.9 382.9L739.5 385.9L740.1 382.9L740.7 376.0L741.3 376.0L741.9 382.9L742.5 385.4L743.3 385.2L743.7 385.5L744.3 382.5L744.9 374.7L745.5 374.7L746.1 382.5L746.7 385.8L747.3 386.1L748.1 385.3L748.7 385.3L749.1 384.8L749.7 382.0L750.3 382.0L750.9 384.8L751.5 386.0L752.1 385.7L752.7 386.0L754 385.0L754.3 385.0L755.1 386.1L755.7 386.2L757.2 328.0L757.8 328.0L758.1 341.1L758.7 337.7L759.9 241.0L760.4 241.0L761.7 355.2L762.3 386.0L762.9 386.1L763.6 385.6L764.2 385.6L765.9 386.2L767.1 385.7L767.9 382.0L768.5 382.0L768.9 383.8L769.6 385.2L770.2 385.2L770.7 385.6L771.3 384.4L771.7 383.0L772.3 383.0L773.1 385.8L774.9 385.7L775.6 384.0L776.2 381.0L776.7 381.0L777.3 384.4L777.9 386.2L779.1 385.1L779.7 383.0L780.3 383.0L780.9 385.1L781.5 385.9L783 385.6L783.9 385.9L785.1 385.8L785.7 386.0L787.1 385.1L787.7 385.1L788.5 377.5L789.1 377.5L789.9 385.3L790.5 385.5L791.7 385.1L792.9 386.0L793.5 386.1L794.1 385.9L795.3 386.0L797.5 385.1L798.9 385.8L799.7 384.0L800.3 384.0L801.3 385.9L801.9 386.2L802.5 385.8L803.7 385.8L804.3 386.1L805.5 385.9L806.9 385.4L807.3 385.8L809.7 385.8L810.5 385.4L810.9 385.5L811.7 384.0L812.3 384.0L813.3 386.1L813.9 385.9L814.5 386.0L815.1 385.9L815.9 385.3L816.5 385.3L817.5 386.0L818.1 385.8L818.7 386.1L819.9 386.0L820.7 385.3L821.3 385.3L822.3 386.0L822.9 385.8L824.1 386.2L824.7 385.8L825.3 386.2L825.9 385.7L826.5 386.0L828.7 385.4L829.5 385.8L830.7 386.1L831.9 386.0L832.5 386.2L833.1 385.8L833.7 386.1L834.7 374.7L835.3 374.7L836.1 385.1L836.8 385.2L837.9 386.1L839.7 385.6L840.4 385.1L841 385.1L841.5 385.5L842.1 384.4L842.5 383.0L843.1 383.0L843.9 385.8L845.7 386.0L847.6 385.5L848.1 385.9L850.5 385.7L851.1 386.1L852.3 385.8L852.9 385.9L854.5 385.3L855.3 385.9L855.9 385.9L856.5 386.1L857.1 385.8L858.9 385.8L859.7 384.0L860.3 384.0L860.8 385.2L861.9 385.9L863.7 386.2L865.6 385.0L867.3 385.9L867.9 385.8L868.5 386.1L869.1 385.7L869.7 386.0L870.3 385.7L870.9 386.1L875.7 385.7L876.3 386.0L878.7 385.5L879.3 385.8L881.7 385.8L882.4 385.4L884.1 386.1L885.3 385.9L886.1 385.3L886.7 385.3L887.1 385.5L888 381.0L888.6 381.0L889.5 386.0L891.3 386.1L893.4 385.5L894.9 386.1L898 385.5L899.1 386.2L899.7 386.1L900.3 385.7L900.9 385.8L901.5 386.2L903.9 385.8L904.7 384.0L905.3 384.0L906.3 386.0L906.9 385.8L908.1 386.2L908.7 385.9L909.3 386.1L911.7 385.8L912.5 385.3L913.1 385.3L914.1 385.9L914.7 386.0L915.9 385.5L916.7 380.0L917.3 380.0L918.3 385.8L918.9 386.0L919.5 385.8L920.1 386.1L921 372.9L921.6 372.9L922.5 385.8L924.9 385.5L925.7 382.0L926.3 382.0L927.3 386.0L927.9 385.9L928.5 386.1L929.1 385.8L929.7 386.1L930.3 385.8L931.5 386.2L932.1 385.8L932.7 382.5L933.4 368.1L934 368.1L934.5 378.4L935.1 386.0L935.7 386.0L936.7 376.0L937.3 376.0L938.1 385.2L938.7 385.7L939.3 385.7L940.1 385.1L940.7 385.1L941.7 385.8L942.3 386.0L942.9 385.8L943.7 383.0L944.3 383.0L945.3 385.8L946.5 385.8L947.1 385.5L947.9 379.9L948.5 379.9L949.5 385.7L950.7 385.7L951.3 386.1L951.9 386.0L952.5 386.2L953.1 385.7L954.9 385.8L955.7 385.3L956.1 385.4L956.7 386.0L957.9 385.8L958.5 386.0L959.1 385.4L959.7 384.0L960.3 384.0L960.9 385.4L961.5 385.8L963.3 385.7L963.9 386.0L964.5 385.8L965.7 386.1L966.3 385.9L967.5 386.2L968.1 385.7L971.1 385.9L971.7 386.1L972.3 386.1L972.9 385.8L973.5 386.2L974.1 385.4L974.7 384.0L975.3 384.0L975.9 385.4L977.2 385.2L978.3 386.2L978.9 385.8L979.5 385.9L980.1 379.5L980.7 370.7L981.2 370.7L981.9 383.0L982.5 386.0L983.1 383.5L983.7 378.0L984.3 378.0L984.9 383.5L985.5 385.9L987.3 385.7L988.1 382.0L988.7 382.0L989.7 385.8L990.9 386.1L991.5 385.9L992.1 384.8L992.7 382.0L993.3 382.0L993.9 384.8L994.5 385.8L995.7 386.2L996.3 385.8L996.9 386.0L997.8 378.8L998.4 378.8L999.3 386.0L1001.1 385.5L1001.7 385.7L1002.6 372.3L1003.2 372.3L1004.1 386.0L1004.7 385.7L1005.7 380.0L1006.3 380.0L1007.1 385.5L1008.3 386.0L1009.5 386.1L1010.7 386.0L1012.5 386.2L1013.1 385.8L1013.7 385.1L1014.3 384.9L1014.7 384.0L1015.3 384.0L1016.1 385.8L1017.9 386.2L1019.7 385.6L1020.3 385.9L1022.7 385.9L1023.3 386.2L1024.5 385.5L1025.1 385.5L1025.7 385.9L1026.7 384.0L1027.3 384.0L1028.1 385.8L1028.7 385.7L1029.3 386.1L1029.9 385.9L1030.8 385.2L1031.1 385.2L1031.4 384.0L1032.1 377.2L1032.7 377.2L1033.5 385.3L1034.7 386.1L1035.7 382.0L1036.3 382.0L1037.1 385.7L1037.7 385.7L1039 385.3L1039.5 385.8L1040.1 385.7L1040.7 386.2L1042.5 385.9L1043.7 386.2L1044.3 386.1L1045.7 385.1L1046.3 385.1L1046.7 385.6L1047.7 383.0L1048.3 383.0L1049.1 385.6L1050 385.4L1051.5 386.1L1052.1 385.9L1053.1 377.2L1053.7 377.2L1054.5 385.3L1055.1 383.8L1055.7 379.0L1056.3 379.0L1056.9 383.8L1057.5 386.0L1058.7 385.9L1059.6 374.5L1060.2 374.5L1061.1 386.1L1061.7 386.0L1062.7 381.0L1063.3 381.0L1064.1 385.6L1066.5 386.1L1067.1 385.7L1068.3 386.1L1068.9 385.7L1069.7 382.0L1070.3 382.0L1071.3 385.8L1071.9 385.4L1072.7 379.0L1073.3 379.0L1074.3 385.7L1074.9 377.8L1075.7 345.0L1076.3 345.0L1076.7 352.5L1077.1 334.2L1077.7 334.2L1078.3 361.4L1078.7 345.0L1079.3 345.0L1080.3 386.0L1080.9 385.5L1081.7 380.0L1082.3 380.0L1083.3 385.8L1085.1 385.7L1086.3 386.1L1086.9 385.7L1088.7 385.8L1089.3 386.2L1089.9 385.9L1090.5 385.9L1091.7 385.6L1092.9 386.1L1094.1 385.4L1094.7 384.0L1095.3 384.0L1095.9 385.4L1096.5 386.1L1098.9 385.4L1099.5 385.7L1102.5 386.0L1104.4 385.5L1107.3 386.2L1107.9 385.8L1109.5 381.5L1110.1 381.5L1111.5 385.3L1112.1 385.9L1115.7 386.1L1116.9 385.7L1117.7 385.2L1118.3 385.2L1119.9 386.2L1120.5 386.1L1121.1 385.7L1122.3 385.9L1123.6 385.1L1124.1 385.3L1124.7 384.0L1125.3 384.0L1125.9 385.4L1126.5 386.1L1127.1 386.1L1127.7 385.7L1129.5 386.1L1131 385.2L1131.6 385.2L1133.1 386.2L1133.7 386.0L1134.9 386.2L1135.5 385.8L1136.1 386.2L1136.7 385.8L1137.3 386.1L1138.8 385.0L1139.2 385.0L1139.7 384.0L1140.3 384.0L1140.9 385.4L1141.5 385.8L1142.7 385.9L1143.3 386.2L1145.6 385.2L1146.3 385.7L1149.3 386.0L1151.2 385.5L1151.7 385.8L1154.7 385.7L1155.3 385.9L1155.9 385.7L1156.5 386.1L1157.1 385.8L1157.7 385.0L1158.3 385.0L1158.9 385.7L1159.5 385.9L1160.1 385.9L1160.7 386.1L1162.8 385.6L1164.3 386.0L1164.9 385.8L1165.7 384.0L1166.3 384.0L1166.7 384.9L1167.8 385.0L1168.5 385.8L1169.1 386.0L1169.7 385.8L1170.3 386.1L1172.8 385.7L1173.9 386.1L1175.1 385.7L1175.7 386.1L1176.3 386.1L1176.9 385.7L1177.5 386.2L1178.7 385.7L1179.3 385.8L1180.2 385.7L1181.1 385.9L1181.7 385.8L1182.3 386.0L1182.9 385.8L1184.1 385.9L1186 385.3L1187.1 385.8L1188.9 385.8L1189.7 384.0L1190.3 384.0L1191.3 385.7L1193.1 385.9L1194.4 385.6L1196.7 386.1L1197.9 385.8L1199.1 386.0L1200.9 385.7L1201.5 386.2L1203.9 386.1L1205.8 385.7L1206.9 385.7L1207.5 386.1L1208.1 385.9L1208.7 386.1L1210.1 382.3L1210.7 382.3L1211.7 385.1L1212.3 385.9L1212.9 385.8L1214.1 386.0L1216.8 385.6L1218.3 386.2L1219.5 385.7L1220.1 386.1L1223.7 385.7L1224.9 385.6L1225.5 385.9L1226.1 382.1L1229.1 339.8L1229.7 339.8L1233 385.4L1233.9 386.1L1234.5 386.2L1236.5 385.0L1236.9 385.1L1237.5 385.6L1238.7 386.0L1239.3 385.7L1239.9 385.8L1242.4 382.0L1242.7 382.0L1244.7 385.5L1245.3 385.9L1246.6 385.0L1247.2 385.0L1248.3 386.1L1250.1 386.1L1251.9 385.8L1253.1 386.2L1254.3 385.8L1255.5 386.0L1256.7 385.2L1257.3 385.2L1257.9 385.6L1259.1 386.0L1260.9 385.9L1261.5 386.0L1262.7 385.9L1263.9 385.7L1264.5 386.1L1265.1 385.7L1265.7 386.0L1266.3 385.7L1267.5 385.9L1268.9 385.6L1270.5 386.1L1272.3 385.7L1272.9 386.0L1275 385.3L1276.5 386.1L1278.9 385.8L1279.9 385.4L1280.1 385.6L1285.5 379.7L1286.1 379.7L1291.5 385.8L1292.1 386.0L1293.9 385.7L1294.3 385.1L1294.9 385.1L1295.7 386.1L1297.5 385.8L1298.1 386.2L1298.7 385.8L1299.5 385.2L1299.8 385.2L1300.5 385.7L1301.1 385.8L1301.7 385.7L1302.3 386.1L1303.5 385.7L1304.1 385.9L1305.7 385.4L1307.7 386.1L1308.3 385.8L1308.9 386.1L1309.5 385.8L1310.7 386.1L1311.5 385.1L1312.1 385.1L1312.5 385.6L1314.3 385.9L1315.5 386.0L1316.1 385.7L1316.7 386.0L1319.5 385.5L1321.5 386.2L1322.9 385.1L1323.5 385.1L1323.9 385.7L1325.1 386.0L1325.7 385.8L1328.1 386.1L1329.4 385.4L1329.9 385.6L1330.5 386.1L1332.3 385.9L1332.9 386.2L1334.7 386.1L1335.3 385.8L1335.9 385.9L1337.3 385.6L1338.9 381.0L1339.5 381.0L1341 385.4L1341.9 385.9L1342.5 385.8L1343.1 386.0L1343.7 385.7L1344.3 385.9L1344.9 385.7L1346.1 386.1L1347.7 385.5L1350.7 360.0L1351 360.0L1351.3 359.0L1353.3 337.2L1353.8 337.2L1358.1 386.0L1359.3 385.7L1360 385.1L1360.7 385.1L1362.3 386.1L1364.3 385.5L1365.3 386.0L1365.9 385.8L1366.5 386.0L1367.7 385.9L1368.4 385.4L1369 385.3L1370.1 386.0L1371.3 385.7L1372.1 385.0L1372.7 385.0L1373.7 385.9L1374.7 384.0L1375.3 384.0L1376.1 385.8L1376.7 385.3L1377.3 385.3L1377.9 385.9L1379.1 386.0L1379.7 385.8L1380.9 386.1L1382.1 385.4L1382.7 385.4L1383.3 385.9L1386.3 386.0L1387.9 385.5L1389.3 386.0L1393.5 385.7L1394.1 386.0L1394.7 385.8L1395.3 386.0L1396.5 385.9L1397.3 385.0L1397.9 385.0L1398.9 385.8L1399.7 384.0L1400.3 384.0L1401.3 385.9L1403.1 386.1L1405 385.5L1406.7 385.7L1407.3 386.0L1407.9 386.0L1409.1 385.7L1409.7 386.0L1411.5 386.0L1412.1 385.7L1412.7 386.0L1413.9 385.9L1414.5 386.2L1415.3 385.2L1415.9 385.2L1416.3 385.7L1417.5 386.1L1418.1 385.8L1419.3 386.2L1420.8 385.1L1421.4 385.1L1422.3 385.9L1424.1 385.9L1425.5 385.6L1426.5 386.0L1427.1 385.9L1427.7 386.2" fill="none" stroke="#f2302b" stroke-width="1.5" stroke-linejoin="round"/><path d="M318 696.1L318.7 688.0L319.3 688.0L320 696.5L320.4 697.4L320.6 697.4L321.6 686.0L322.1 686.0L322.8 696.5L323.4 698.0L324.4 694.7L324.7 692.0L325.3 692.0L325.8 696.0L326.4 697.4L327 697.6L327.6 696.0L327.8 694.4L328.1 694.4L329.4 635.4L330 635.4L331.2 686.7L331.8 670.0L332.3 670.0L333.3 697.8L333.9 697.8L334.8 684.0L335.3 684.0L336 696.1L336.6 698.4L337.2 695.2L337.8 690.0L338.3 690.0L339 697.2L339.7 696.7L340 696.7L340.2 697.2L340.9 695.2L341.5 695.2L342 672.6L343 571.1L343.6 571.1L344.8 694.9L345 694.5L345.7 676.0L346.3 676.0L346.8 689.2L347.4 698.7L348 697.8L348.6 693.8L349.2 682.3L349.8 682.3L350.6 696.6L351.1 696.5L351.6 697.6L352.2 696.0L352.8 692.0L353.3 692.0L354 697.6L354.6 696.0L355.2 696.0L355.8 697.5L356.4 698.1L357.2 697.9L357.6 698.3L358.6 687.3L359.2 687.3L360 697.3L360.4 696.5L361 696.4L361.2 696.9L361.8 695.8L362.4 695.7L362.7 694.0L363.3 694.0L364.1 697.9L364.7 697.9L364.8 698.1L365.4 698.1L365.8 695.5L366.4 695.5L366.6 696.7L367.2 698.5L367.8 697.2L368.4 697.3L369 698.0L370.3 461.0L370.8 461.0L372 691.4L372.7 660.0L373.3 660.0L374.2 697.2L374.8 697.2L375 697.5L375.9 666.3L376.5 666.3L377.5 698.0L378 698.7L378.6 699.2L380 690.0L380.3 690.0L381.1 697.8L382.2 699.1L383.4 694.0L384.3 694.0L384.8 696.7L385.2 696.8L386.4 698.9L387.1 695.4L387.7 695.4L388.2 698.2L389.1 696.1L389.4 696.1L389.7 695.0L390.3 695.0L390.6 694.7L390.7 694.2L391.3 694.2L391.8 696.0L392.2 696.8L392.8 696.8L393 697.2L393.8 694.2L394.4 694.2L395.4 698.9L396.1 695.2L396.8 695.2L397.2 696.9L397.8 694.0L398.3 694.0L399 698.0L399.6 698.1L400.2 697.5L400.8 697.6L401.4 698.3L402 697.0L402.6 697.1L403.2 698.4L403.8 698.9L404.8 693.0L405.3 693.0L406.2 698.5L406.8 696.9L407.4 694.2L408 694.2L408.6 696.6L409.2 694.3L410 688.0L410.3 688.0L411 696.9L411.6 696.4L411.8 695.7L412.4 695.7L412.8 693.6L413.6 671.2L414.1 671.2L414.8 692.9L415.2 695.2L415.4 695.2L415.8 696.5L416.4 693.1L416.7 690.0L417.3 690.0L417.9 694.4L418.8 697.5L419.7 676.0L420.3 676.0L421.3 696.6L422.2 657.6L422.8 657.6L423.7 695.2L424 695.2L424.8 698.6L425.4 667.0L426.4 543.9L427 543.9L428.2 683.3L428.7 660.0L429.3 660.0L430.2 696.7L430.3 696.7L431.5 679.9L431.9 679.9L432.6 695.3L433.2 696.0L433.5 695.0L434.1 695.0L434.4 696.3L435 697.2L435.7 690.0L436.3 690.0L436.8 695.2L437.4 699.1L438.1 696.2L438.8 696.2L439.2 698.2L439.8 698.7L440.7 692.0L441.3 692.0L441.6 694.4L442.7 694.2L443.4 698.5L444 696.9L444.5 696.9L445.2 698.0L445.8 697.1L446.4 697.1L447 694.6L447.6 684.8L448.2 684.8L448.8 694.6L449.4 696.6L449.8 695.6L450.4 695.6L450.6 696.3L451.2 696.4L451.8 693.0L452.3 693.0L453 697.8L453.6 697.7L453.9 697.1L454.5 697.1L455.4 698.7L456.3 696.4L456.9 696.4L457.2 697.2L457.8 695.0L458.4 694.9L458.6 694.1L459.2 694.1L459.6 696.4L460.2 698.0L460.9 696.6L461.4 696.6L462 697.8L462.6 695.3L463 692.2L463.6 692.2L464.3 697.4L464.9 697.5L465.6 698.9L466.3 697.0L466.9 697.0L467.4 698.8L468 698.3L468.8 696.9L469.2 696.9L469.8 694.0L470.3 694.0L471 696.4L471.6 696.5L472.8 698.8L473.6 696.7L474.2 696.7L474.6 698.2L475.2 694.3L475.8 688.0L476.3 688.0L477 696.9L477.6 693.7L478.3 682.0L478.8 682.0L479.4 693.7L480 696.4L480.2 696.4L480.6 688.9L481.2 666.5L481.8 666.5L482.4 688.9L483 697.7L483.2 697.2L483.8 697.2L484.2 695.2L484.8 690.0L485.3 690.0L486 695.9L486.6 695.9L487.2 699.1L488.5 694.5L489.1 694.5L489.6 693.7L489.7 693.0L490.3 693.0L490.6 694.8L491.4 695.6L491.7 694.5L492.3 694.5L492.6 695.8L493.2 694.5L493.8 690.0L494.3 690.0L495 697.2L495.2 697.9L495.6 698.1L496.4 695.2L497 695.1L497.4 696.6L498.2 668.8L498.8 668.8L499.8 698.8L500.8 684.0L501.3 684.0L502.2 697.9L502.8 695.9L503.4 695.9L504 697.9L504.8 695.4L505.2 695.4L505.8 692.0L506.3 692.0L506.8 695.5L507.4 695.5L508.2 698.7L509 696.4L509.6 696.4L510 697.6L510.6 697.5L511.1 695.1L511.4 695.1L511.8 694.0L512.3 694.0L513 697.9L513.7 696.0L514.3 696.0L514.8 697.2L515.4 697.1L516 694.2L516.6 694.2L517.2 696.8L518 695.0L518.3 695.0L519 697.7L519.6 698.8L520.3 694.6L520.9 694.6L521.4 698.1L521.6 697.6L522.2 697.6L523.2 682.5L523.7 682.5L524.4 695.3L524.9 695.3L525.6 697.9L526.2 697.8L527 694.2L527.6 694.2L528.1 689.2L528.7 689.2L529.2 694.8L529.8 697.9L530.4 698.0L531 698.9L531.6 699.1L532.4 696.1L533 696.1L533.4 697.7L534 693.7L534.6 681.8L535.2 681.8L535.8 693.7L536.4 697.6L536.5 697.0L537.1 697.0L537.6 691.0L538.8 398.0L539.3 398.0L540 584.5L540.6 622.1L540.7 612.1L541.3 612.1L541.8 662.0L542.4 696.3L542.8 694.3L543.4 694.3L543.6 695.1L544.2 688.8L544.8 675.0L545.3 675.0L546 694.3L546.6 638.8L547.4 398.0L548 398.0L549 698.0L549.6 696.6L550.1 696.6L550.8 698.8L551.4 697.7L552.1 694.0L552.7 694.0L553.6 659.5L554.1 659.5L555 697.9L556 671.0L556.6 671.0L557.5 697.5L558.1 697.5L558.6 698.3L559.2 672.1L560 564.7L560.6 564.7L561.6 678.4L562.4 593.8L562.9 593.8L563.4 654.3L564 697.9L564.3 697.3L564.9 697.3L565.8 698.5L566.5 695.7L567.1 695.7L567.7 691.3L568.3 691.3L568.8 695.7L569.4 697.7L570 696.0L570.5 696.0L571.2 697.1L571.4 696.4L572 696.4L572.4 698.0L573.1 696.5L573.7 696.5L574.5 687.9L575.1 687.9L575.8 696.8L576.4 696.8L577.2 698.8L578.1 696.4L578.7 696.4L579 689.6L579.7 650.7L580.3 650.7L580.9 683.5L581.4 673.1L581.7 659.5L582.3 659.5L582.6 673.1L583.2 684.4L583.3 682.5L583.9 682.5L584.4 692.7L584.7 695.3L585 695.3L585.6 698.2L586.3 696.9L586.9 696.9L587.4 697.7L588.2 697.2L588.6 697.4L589.2 698.4L590.4 694.2L590.7 692.0L591.3 692.0L592.2 697.7L592.9 696.2L593.5 696.2L594 697.4L594.7 696.2L595.3 696.1L595.8 698.0L596.4 698.7L597.6 687.9L598.1 687.9L598.8 696.3L599.1 695.1L599.7 695.1L600 696.5L600.6 697.9L601.3 695.5L601.9 695.5L602.4 693.1L602.7 690.0L603.3 690.0L604.2 698.7L604.8 698.8L605.7 694.9L606.3 694.8L607.2 698.9L607.8 693.3L609.1 579.6L609.6 579.6L610.8 693.3L611 696.3L611.6 696.3L612 697.7L612.6 696.4L613.2 696.3L613.8 694.7L614.5 685.0L615 685.0L615.7 695.8L616.5 685.2L617.1 685.2L617.8 695.8L618.6 698.5L619.2 695.2L619.9 690.0L620.3 690.0L621 697.2L621.6 697.5L622.4 694.4L623 694.4L624 697.9L624.8 694.0L625.3 694.0L625.8 696.9L626.4 698.2L627.1 694.9L627.8 695.0L628.8 698.7L629.6 697.0L630.2 697.0L631.2 699.1L631.8 698.2L632.7 692.0L633.3 692.0L633.8 694.6L634.4 694.6L635.4 698.5L636 696.3L636.7 688.0L637.3 688.0L638 696.6L638.6 696.6L639 695.9L639.3 694.3L639.9 694.3L640.2 689.5L641.2 616.1L641.8 616.1L642.6 674.8L643.2 696.6L643.5 695.8L643.8 695.8L644.1 695.0L644.7 685.0L645.3 685.0L646.2 697.2L646.8 698.9L647.8 695.9L648.4 695.9L648.6 696.7L649.2 695.2L649.8 690.0L650.3 690.0L651 697.1L651.6 698.2L652.2 698.6L653 695.0L653.6 695.0L654 696.7L654.6 698.0L655.2 696.1L655.5 691.6L656.6 621.3L657.2 621.3L658.3 689.1L658.8 698.2L659.7 672.0L660.3 672.0L661.2 698.4L661.8 697.4L662.1 696.3L662.7 690.0L663.3 690.0L664.2 696.2L664.8 694.7L665.3 694.7L666.6 699.1L667.8 693.0L668.3 693.0L669 697.8L669.7 696.9L670.3 696.9L670.8 698.0L671.4 697.2L672 695.0L673.2 695.0L673.9 678.6L674.5 678.6L675 691.3L675.6 698.0L676.2 697.7L676.3 697.3L676.9 697.3L677.7 690.0L678.3 690.0L678.8 695.5L679.8 698.8L680.5 696.3L681.1 696.3L681.6 698.1L682.2 697.3L682.6 695.8L683.4 695.7L683.7 694.0L684.3 694.0L684.6 695.7L685.2 695.6L685.4 694.4L686 694.4L686.4 696.9L687 698.5L688 696.7L688.6 696.7L688.8 697.1L689.7 692.0L690.3 692.0L690.6 694.4L691.2 697.1L691.5 695.2L692.1 695.2L692.4 696.7L693 694.2L693.5 694.2L694.2 696.8L694.4 696.3L694.8 696.3L695 694.9L695.7 680.0L696.3 680.0L697 694.0L697.3 694.0L697.8 696.2L698.4 695.6L698.6 694.4L699.9 606.2L700.4 606.2L701.4 679.9L702 687.5L702.7 640.0L703.3 640.0L704.4 698.0L705 691.1L706 630.4L706.6 630.4L707.7 695.3L708 694.9L708.7 675.0L709.3 675.0L710.1 695.2L710.7 695.2L711.6 697.8L712.2 697.1L712.8 694.6L713.4 684.8L714 684.8L714.8 696.1L715.2 697.6L715.9 697.2L716.2 697.2L716.4 697.6L717.4 694.7L717.7 692.0L718.3 692.0L718.8 696.0L719.4 697.1L719.9 695.3L720.5 695.3L721.2 698.3L721.8 696.4L722.4 696.4L723 698.0L723.7 694.0L724.3 694.0L724.5 694.3L725.1 694.3L726 698.5L726.7 697.4L727.3 697.4L727.8 697.6L728.2 696.7L728.8 696.7L729 697.2L729.7 694.0L730.3 694.0L730.8 696.9L731.4 696.2L731.6 694.4L732.2 694.5L732.6 696.1L733 694.2L733.6 694.3L734.4 698.2L735 695.3L735.7 680.0L736.3 680.0L736.8 690.9L737.4 697.6L738.1 696.0L738.4 694.4L739.5 641.5L740 641.5L741.1 694.6L741.7 694.6L742.2 697.7L742.7 696.2L743.4 686.0L744 686.0L744.6 695.0L745.4 694.2L745.8 692.0L746.3 692.0L747 697.8L748.2 697.7L748.4 697.2L749 697.2L749.4 698.0L750 694.0L750.6 687.3L751.1 687.3L751.8 696.7L752.4 698.7L753 698.6L753.6 698.0L754 698.0L754.8 694.0L755.3 694.0L756 697.9L757 694.3L757.6 694.3L758.4 697.6L759.6 697.6L760.2 696.5L760.8 694.8L761 694.8L761.4 693.1L761.7 690.0L762.3 690.0L763.2 697.9L763.8 697.7L765.7 478.3L766.3 478.3L768 689.1L768.6 698.2L769.9 640.0L770.3 640.0L771 687.5L771.5 694.1L772 694.1L772.2 694.9L772.8 690.0L773.3 690.0L774 695.0L774.2 694.3L774.8 694.3L775.5 696.9L775.8 696.9L776.1 696.6L776.7 692.2L777.3 692.2L777.6 694.5L778.2 697.0L778.8 697.1L779.4 698.1L780 697.6L780.7 692.0L781.3 692.0L781.9 697.1L782.4 697.8L783 696.8L783.6 694.5L784.2 694.6L784.8 696.6L785.5 695.2L786 695.2L786.6 697.3L787.2 698.3L787.8 697.6L788.4 697.7L789.2 696.2L789.8 696.2L790.8 698.9L791.6 694.7L792.2 694.7L792.6 696.2L792.9 694.7L793.5 694.7L793.6 695.0L793.9 695.1L794.4 698.8L795 698.9L795.9 696.7L796.5 696.7L796.8 697.7L797.4 696.2L797.6 695.2L798.2 695.1L798.6 697.7L799.6 697.7L800.3 697.5L801 699.1L801.6 699.0L802.2 699.2L802.8 698.8L804 698.8L804.6 698.3L805.2 698.3L805.8 698.9L806.4 698.8L807 699.2L807.6 698.7L808.2 698.9L808.9 698.6L809.7 696.0L810.3 696.0L811.2 698.8L811.8 699.0L813.6 698.6L816 699.2L817.8 699.2L819.7 697.8L820.3 697.8L821.4 698.8L822 699.0L823.2 698.7L823.8 699.1L825 699.0L826 697.8L826.6 697.8L827.4 699.1L828.6 698.6L829.2 697.7L829.8 696.0L830.3 696.0L831 698.4L832.2 699.0L833.4 698.8L834 699.1L835.9 698.5L837.6 699.1L838.2 698.9L838.8 699.1L841 698.6L841.8 699.1L843 698.8L844.8 698.9L845.4 699.1L846 698.8L846.6 698.8L847.3 698.0L847.9 698.0L848.4 698.9L849.6 699.2L850.6 697.8L851.2 697.8L852 698.7L852.6 699.0L853.2 698.7L855 698.7L856.2 698.6L856.8 698.9L857.4 698.8L858 699.1L858.6 698.8L859.2 697.7L859.8 696.0L860.3 696.0L861.1 698.2L861.6 698.8L862.2 699.0L863.4 698.7L864.1 698.2L864.7 698.2L865.2 698.8L865.8 698.7L866.4 699.0L867 698.7L867.4 698.1L868 698.1L868.8 699.0L870 698.9L871.2 699.1L872.4 698.7L873.3 697.8L873.9 697.8L874.8 698.8L876 698.8L876.6 699.2L878.4 699.2L879 698.8L879.6 698.8L880.8 698.6L881.4 698.8L882 698.8L882.6 699.1L883.2 699.1L883.8 698.7L885.6 698.7L886.8 699.2L888 697.5L888.6 697.6L889.8 699.1L890.4 698.7L891.6 698.9L892.2 698.8L892.8 699.0L893.4 698.1L894.6 689.3L895.2 689.3L896.4 698.1L897.6 699.2L898.8 698.8L899.4 699.1L900.6 698.8L901.2 698.4L901.8 697.8L902.4 697.9L903 698.6L903.6 699.0L904.2 698.8L905.4 698.9L906.6 698.7L907.3 698.1L907.9 698.1L908.4 698.5L909 698.4L909.7 696.0L910.3 696.0L911.4 699.1L912 698.8L912.6 698.0L913.2 698.0L913.8 698.7L914.4 698.9L915 698.7L915.6 699.2L916.2 698.8L916.8 699.0L918.1 698.0L918.8 698.0L919.8 698.8L920.4 699.1L922.8 699.0L924.8 698.3L925.8 698.9L926.4 698.2L927.1 694.7L927.7 694.7L928.5 698.1L928.8 698.1L930 699.2L930.6 698.8L931.2 698.7L933 699.1L934.8 698.7L936 699.2L936.6 698.7L937.2 699.0L937.8 698.0L938.4 698.0L939 698.9L939.6 698.7L940.8 699.2L941.4 698.8L942 699.1L943.4 697.6L943.6 697.6L943.8 697.9L944.4 697.0L944.7 696.0L945.3 696.0L946.2 698.9L947 698.0L947.5 698.0L948.6 699.0L949.2 698.7L949.8 699.1L952.3 698.5L953.4 699.0L954.6 698.8L955.2 699.0L956.2 692.7L956.8 692.7L957.6 698.5L958.2 699.1L959.4 698.8L960 699.1L960.6 698.9L961.8 697.6L962.4 697.6L963.6 698.9L964.2 699.1L964.9 697.6L965.5 697.6L966 698.8L966.6 698.9L967.2 698.7L967.8 699.1L968.4 699.1L969 698.4L969.7 696.0L970.3 696.0L970.8 697.7L971.4 698.3L971.7 697.8L972.3 697.8L973.2 698.9L975.6 698.9L976.2 699.2L976.8 698.9L977.5 698.0L978.1 698.0L979.2 699.0L979.8 698.7L980.4 699.1L981 698.9L981.6 699.1L983 698.2L983.6 698.2L984.6 698.9L986 677.5L986.6 677.5L987.6 693.7L988.2 698.9L989.4 698.7L990.6 699.1L991.2 698.9L992.4 699.0L993 698.7L993.6 699.0L994.2 696.3L994.8 692.7L995.3 692.7L996 697.8L996.6 699.1L997.2 698.8L997.8 699.2L1000.4 698.5L1000.8 698.8L1001.4 698.8L1002.6 699.0L1003.6 692.0L1004.2 692.0L1005 698.4L1005.6 698.9L1007 698.6L1007.4 698.7L1008 693.9L1009 678.4L1009.6 678.4L1011 698.6L1011.6 699.1L1013 698.2L1013.6 698.2L1014.6 698.9L1015.2 698.9L1015.8 698.7L1016.4 698.9L1018.2 698.5L1020 699.0L1020.6 697.0L1021.2 692.4L1021.8 692.4L1022.4 697.0L1023 699.0L1024.9 698.6L1026.6 699.1L1027.2 698.9L1027.8 699.1L1029 698.4L1029.7 696.0L1030.3 696.0L1030.8 697.7L1031.4 698.8L1032 698.7L1032.6 699.1L1033.8 698.8L1034.4 699.1L1035 699.0L1035.6 698.5L1036.2 698.5L1036.8 698.9L1037.8 692.0L1038.4 692.0L1039.2 698.4L1039.8 699.1L1040.4 698.9L1041 699.2L1042.9 698.5L1043.4 698.7L1045.2 699.1L1046.4 698.6L1047.2 697.8L1047.8 697.8L1048.8 698.9L1049.7 695.0L1050.3 695.0L1051.2 698.9L1051.8 699.0L1052.4 698.9L1053.2 697.9L1053.8 698.0L1054.8 698.7L1055.7 692.0L1056.3 692.0L1057.2 698.0L1057.8 698.7L1058.4 699.1L1059 695.2L1059.6 690.0L1060.1 690.0L1060.8 697.2L1061.4 699.2L1062 695.9L1062.7 683.0L1063.3 683.0L1063.8 692.2L1064.4 699.0L1065 699.0L1066 676.4L1066.6 676.4L1067.4 697.7L1067.7 697.7L1068.6 699.0L1069.2 699.2L1069.8 698.8L1070.4 699.2L1071 698.2L1071.7 695.0L1072.3 695.0L1073.1 698.6L1073.4 698.6L1075.2 688.0L1075.8 688.0L1076.4 692.0L1076.9 693.8L1078.2 672.0L1078.8 672.0L1079.4 681.8L1080 688.3L1082.5 629.0L1083.1 629.0L1086 697.8L1086.6 698.9L1087.9 698.1L1089 698.4L1089.7 696.0L1090.3 696.0L1090.8 697.7L1091.4 698.8L1092 699.0L1092.6 698.8L1094.5 698.6L1096.8 699.2L1098.6 698.9L1099.2 697.7L1099.8 696.0L1100.3 696.0L1101 698.2L1101.6 698.7L1102.2 698.9L1103.4 698.7L1104 699.0L1105.2 698.6L1105.8 699.0L1108.2 699.1L1108.8 698.8L1109.4 699.2L1110 699.2L1110.6 698.8L1111.4 697.6L1112 697.6L1113 699.1L1114.2 699.0L1115.7 689.3L1116.3 689.3L1117.4 697.1L1117.8 698.5L1118.4 699.0L1119 699.1L1119.6 698.8L1120.2 697.8L1120.8 697.9L1121.4 698.8L1123.2 699.0L1123.8 699.2L1125.8 698.0L1126.2 698.0L1127.4 699.1L1128.6 698.8L1130.4 698.7L1131.6 698.5L1132.8 698.9L1133.4 698.0L1134.6 688.6L1135.2 688.6L1136.4 698.0L1137 698.8L1138.2 699.2L1138.8 699.1L1139.4 698.7L1140.6 699.2L1141.2 699.2L1143 698.6L1143.6 698.9L1146 698.7L1146.7 697.7L1147.2 697.7L1147.8 698.6L1148.4 698.8L1149 698.4L1149.7 696.0L1150.3 696.0L1151.4 699.2L1152.6 698.8L1153.3 697.7L1153.9 697.8L1154.4 698.5L1155 699.0L1155.6 699.0L1156.2 698.8L1156.8 699.2L1157.4 699.0L1158 699.1L1158.6 699.0L1159.3 697.9L1160 697.9L1160.4 698.7L1161 699.1L1161.6 699.0L1162.2 699.1L1164.1 698.5L1165.2 699.0L1167 698.9L1168.8 698.4L1169.4 698.8L1170 698.4L1171.2 696.7L1171.8 696.7L1173 698.4L1173.6 698.8L1174.2 698.9L1175.7 698.5L1176.6 698.9L1177.8 698.8L1178.4 698.4L1179 697.8L1179.6 697.8L1180.8 698.9L1182.6 698.8L1184.4 699.0L1185 698.0L1185.7 698.0L1186.2 698.9L1186.8 699.1L1188 698.7L1189.2 699.2L1189.8 698.9L1191 698.8L1192.2 698.6L1193.4 698.9L1194 698.8L1195.3 688.4L1195.9 688.4L1197 697.2L1197.6 698.7L1198.9 698.4L1200.6 699.2L1201.2 698.8L1201.8 698.8L1202.4 699.1L1203 699.1L1204 697.9L1204.6 697.9L1205.4 699.1L1206 699.1L1206.6 699.0L1207.2 699.1L1207.8 698.7L1208.7 697.6L1209.3 697.6L1209.7 697.0L1210.3 697.0L1210.8 698.1L1211.4 698.8L1212.4 697.9L1213 697.9L1213.8 698.7L1214.4 699.0L1215 698.8L1216.2 698.9L1216.8 699.2L1217.8 697.6L1218.4 697.6L1219.2 698.8L1221 699.0L1221.9 697.7L1222.5 697.7L1223.4 698.9L1224.6 698.9L1226 698.5L1227.6 698.9L1228.2 698.7L1228.8 699.1L1229.4 698.8L1231.2 698.7L1232.4 698.5L1233 698.8L1233.6 698.6L1234.9 678.8L1235.5 678.8L1236.6 695.6L1237.2 699.1L1237.8 698.7L1238.4 698.7L1239 697.8L1239.7 693.0L1240.3 693.0L1241.1 697.8L1241.4 697.8L1242.6 699.1L1243.2 698.6L1244.7 694.4L1245.3 694.4L1246.8 698.6L1248 699.0L1249.8 698.8L1250.4 699.0L1251.6 698.8L1252.5 698.3L1253.1 698.3L1254 698.8L1255.2 698.9L1255.8 699.1L1256.4 698.7L1257 698.7L1257.9 697.7L1258.5 697.7L1260 699.1L1261.2 698.7L1262.1 697.7L1262.7 697.7L1263.6 698.7L1264.2 699.1L1264.8 698.8L1266 698.8L1266.8 697.8L1267.4 697.8L1268.4 699.1L1269.6 698.8L1270.2 699.1L1271.4 698.8L1272.1 698.3L1272.7 698.3L1273.8 699.0L1274.4 698.8L1275 699.0L1275.6 698.6L1276.3 697.6L1276.9 697.6L1278 698.8L1278.6 698.7L1279.2 699.2L1280.4 698.7L1281 698.9L1281.8 698.1L1282.4 698.1L1282.8 698.5L1284 699.0L1284.6 698.8L1288.2 691.0L1288.7 691.0L1292.4 699.1L1293 698.8L1294.8 698.8L1295.5 697.8L1296 697.8L1296.6 697.5L1297.8 694.4L1298.3 694.4L1299.4 697.4L1299.7 697.5L1300.8 699.2L1304 698.6L1305 698.9L1306.2 699.0L1307.5 697.6L1308 697.8L1309.2 699.2L1309.8 698.9L1311 698.7L1311.3 698.2L1312 698.2L1312.2 698.6L1313.4 699.0L1314 699.0L1315.2 698.0L1315.8 698.0L1317.7 695.3L1318.3 695.3L1319.4 697.1L1320 697.5L1320.6 697.6L1321.2 698.9L1321.8 698.8L1322.4 699.2L1323.4 697.7L1324 697.7L1324.8 699.1L1325.4 699.1L1326 698.8L1326.6 698.8L1327.5 698.2L1328.1 698.2L1329.6 699.1L1332 698.6L1332.6 698.8L1333.2 698.8L1333.8 699.0L1334.4 698.7L1335 699.0L1335.6 698.9L1336.2 699.1L1337 698.0L1337.6 698.0L1338 698.6L1338.6 699.0L1339.8 699.0L1340.4 698.7L1342.2 698.8L1342.8 694.5L1344.1 678.0L1344.7 678.0L1346.4 698.8L1347 699.1L1347.6 698.8L1348.2 699.2L1348.8 698.8L1349.7 693.0L1350.3 693.0L1351.2 698.9L1351.8 698.7L1352.4 699.1L1353.6 699.2L1354.2 694.4L1356 647.0L1356.6 647.0L1357.2 662.8L1357.8 651.0L1359 616.4L1359.5 616.4L1360.8 657.3L1361.2 665.0L1361.8 665.0L1363.4 697.6L1364.4 698.7L1366.8 698.8L1367.4 699.1L1368.8 698.2L1369.3 698.2L1370.4 698.8L1372.8 699.0L1374 697.8L1374.7 697.8L1375.8 698.9L1376.4 698.9L1377.6 697.8L1378.2 697.9L1379.4 699.0L1380 698.8L1380.6 699.0L1381.8 698.8L1382.2 698.3L1382.8 698.3L1383.6 699.0L1384.8 699.1L1385.4 698.9L1386 699.1L1387.2 698.8L1387.8 699.1L1388.7 698.5L1389.3 698.5L1389.6 698.7L1390.2 698.7L1390.8 699.0L1392.1 698.1L1392.7 698.1L1393.8 699.1L1394.4 699.2L1395 698.9L1395.6 699.2L1396.2 698.9L1397.4 699.1L1398 698.8L1398.7 697.9L1399.3 697.9L1399.8 698.8L1401 699.2L1401.6 698.9L1404 698.8L1404.6 698.6L1405.4 697.7L1406 697.7L1407 698.8L1407.6 699.2L1408.8 698.8L1409.4 699.1L1410.6 698.8L1412.1 697.0L1412.7 697.0L1414.2 698.8L1416 699.2L1417.2 698.7L1420.2 698.8L1421.1 698.2L1421.7 698.2L1422.6 698.9L1423.2 699.1L1423.8 698.8L1424.4 699.0L1425.6 698.7L1426.2 698.3L1426.8 698.3L1427.4 698.8L1427.7 699.0L318 699.0Z" fill="#66c266" stroke="#66c266" stroke-width="2.6" stroke-linejoin="round" opacity="0.6"/><path d="M318 696.1L318.7 688.0L319.3 688.0L320 696.5L320.4 697.4L320.6 697.4L321.6 686.0L322.1 686.0L322.8 696.5L323.4 698.0L324.4 694.7L324.7 692.0L325.3 692.0L325.8 696.0L326.4 697.4L327 697.6L327.6 696.0L327.8 694.4L328.1 694.4L329.4 635.4L330 635.4L331.2 686.7L331.8 670.0L332.3 670.0L333.3 697.8L333.9 697.8L334.8 684.0L335.3 684.0L336 696.1L336.6 698.4L337.2 695.2L337.8 690.0L338.3 690.0L339 697.2L339.7 696.7L340 696.7L340.2 697.2L340.9 695.2L341.5 695.2L342 672.6L343 571.1L343.6 571.1L344.8 694.9L345 694.5L345.7 676.0L346.3 676.0L346.8 689.2L347.4 698.7L348 697.8L348.6 693.8L349.2 682.3L349.8 682.3L350.6 696.6L351.1 696.5L351.6 697.6L352.2 696.0L352.8 692.0L353.3 692.0L354 697.6L354.6 696.0L355.2 696.0L355.8 697.5L356.4 698.1L357.2 697.9L357.6 698.3L358.6 687.3L359.2 687.3L360 697.3L360.4 696.5L361 696.4L361.2 696.9L361.8 695.8L362.4 695.7L362.7 694.0L363.3 694.0L364.1 697.9L364.7 697.9L364.8 698.1L365.4 698.1L365.8 695.5L366.4 695.5L366.6 696.7L367.2 698.5L367.8 697.2L368.4 697.3L369 698.0L370.3 461.0L370.8 461.0L372 691.4L372.7 660.0L373.3 660.0L374.2 697.2L374.8 697.2L375 697.5L375.9 666.3L376.5 666.3L377.5 698.0L378 698.7L378.6 699.2L380 690.0L380.3 690.0L381.1 697.8L382.2 699.1L383.4 694.0L384.3 694.0L384.8 696.7L385.2 696.8L386.4 698.9L387.1 695.4L387.7 695.4L388.2 698.2L389.1 696.1L389.4 696.1L389.7 695.0L390.3 695.0L390.6 694.7L390.7 694.2L391.3 694.2L391.8 696.0L392.2 696.8L392.8 696.8L393 697.2L393.8 694.2L394.4 694.2L395.4 698.9L396.1 695.2L396.8 695.2L397.2 696.9L397.8 694.0L398.3 694.0L399 698.0L399.6 698.1L400.2 697.5L400.8 697.6L401.4 698.3L402 697.0L402.6 697.1L403.2 698.4L403.8 698.9L404.8 693.0L405.3 693.0L406.2 698.5L406.8 696.9L407.4 694.2L408 694.2L408.6 696.6L409.2 694.3L410 688.0L410.3 688.0L411 696.9L411.6 696.4L411.8 695.7L412.4 695.7L412.8 693.6L413.6 671.2L414.1 671.2L414.8 692.9L415.2 695.2L415.4 695.2L415.8 696.5L416.4 693.1L416.7 690.0L417.3 690.0L417.9 694.4L418.8 697.5L419.7 676.0L420.3 676.0L421.3 696.6L422.2 657.6L422.8 657.6L423.7 695.2L424 695.2L424.8 698.6L425.4 667.0L426.4 543.9L427 543.9L428.2 683.3L428.7 660.0L429.3 660.0L430.2 696.7L430.3 696.7L431.5 679.9L431.9 679.9L432.6 695.3L433.2 696.0L433.5 695.0L434.1 695.0L434.4 696.3L435 697.2L435.7 690.0L436.3 690.0L436.8 695.2L437.4 699.1L438.1 696.2L438.8 696.2L439.2 698.2L439.8 698.7L440.7 692.0L441.3 692.0L441.6 694.4L442.7 694.2L443.4 698.5L444 696.9L444.5 696.9L445.2 698.0L445.8 697.1L446.4 697.1L447 694.6L447.6 684.8L448.2 684.8L448.8 694.6L449.4 696.6L449.8 695.6L450.4 695.6L450.6 696.3L451.2 696.4L451.8 693.0L452.3 693.0L453 697.8L453.6 697.7L453.9 697.1L454.5 697.1L455.4 698.7L456.3 696.4L456.9 696.4L457.2 697.2L457.8 695.0L458.4 694.9L458.6 694.1L459.2 694.1L459.6 696.4L460.2 698.0L460.9 696.6L461.4 696.6L462 697.8L462.6 695.3L463 692.2L463.6 692.2L464.3 697.4L464.9 697.5L465.6 698.9L466.3 697.0L466.9 697.0L467.4 698.8L468 698.3L468.8 696.9L469.2 696.9L469.8 694.0L470.3 694.0L471 696.4L471.6 696.5L472.8 698.8L473.6 696.7L474.2 696.7L474.6 698.2L475.2 694.3L475.8 688.0L476.3 688.0L477 696.9L477.6 693.7L478.3 682.0L478.8 682.0L479.4 693.7L480 696.4L480.2 696.4L480.6 688.9L481.2 666.5L481.8 666.5L482.4 688.9L483 697.7L483.2 697.2L483.8 697.2L484.2 695.2L484.8 690.0L485.3 690.0L486 695.9L486.6 695.9L487.2 699.1L488.5 694.5L489.1 694.5L489.6 693.7L489.7 693.0L490.3 693.0L490.6 694.8L491.4 695.6L491.7 694.5L492.3 694.5L492.6 695.8L493.2 694.5L493.8 690.0L494.3 690.0L495 697.2L495.2 697.9L495.6 698.1L496.4 695.2L497 695.1L497.4 696.6L498.2 668.8L498.8 668.8L499.8 698.8L500.8 684.0L501.3 684.0L502.2 697.9L502.8 695.9L503.4 695.9L504 697.9L504.8 695.4L505.2 695.4L505.8 692.0L506.3 692.0L506.8 695.5L507.4 695.5L508.2 698.7L509 696.4L509.6 696.4L510 697.6L510.6 697.5L511.1 695.1L511.4 695.1L511.8 694.0L512.3 694.0L513 697.9L513.7 696.0L514.3 696.0L514.8 697.2L515.4 697.1L516 694.2L516.6 694.2L517.2 696.8L518 695.0L518.3 695.0L519 697.7L519.6 698.8L520.3 694.6L520.9 694.6L521.4 698.1L521.6 697.6L522.2 697.6L523.2 682.5L523.7 682.5L524.4 695.3L524.9 695.3L525.6 697.9L526.2 697.8L527 694.2L527.6 694.2L528.1 689.2L528.7 689.2L529.2 694.8L529.8 697.9L530.4 698.0L531 698.9L531.6 699.1L532.4 696.1L533 696.1L533.4 697.7L534 693.7L534.6 681.8L535.2 681.8L535.8 693.7L536.4 697.6L536.5 697.0L537.1 697.0L537.6 691.0L538.8 398.0L539.3 398.0L540 584.5L540.6 622.1L540.7 612.1L541.3 612.1L541.8 662.0L542.4 696.3L542.8 694.3L543.4 694.3L543.6 695.1L544.2 688.8L544.8 675.0L545.3 675.0L546 694.3L546.6 638.8L547.4 398.0L548 398.0L549 698.0L549.6 696.6L550.1 696.6L550.8 698.8L551.4 697.7L552.1 694.0L552.7 694.0L553.6 659.5L554.1 659.5L555 697.9L556 671.0L556.6 671.0L557.5 697.5L558.1 697.5L558.6 698.3L559.2 672.1L560 564.7L560.6 564.7L561.6 678.4L562.4 593.8L562.9 593.8L563.4 654.3L564 697.9L564.3 697.3L564.9 697.3L565.8 698.5L566.5 695.7L567.1 695.7L567.7 691.3L568.3 691.3L568.8 695.7L569.4 697.7L570 696.0L570.5 696.0L571.2 697.1L571.4 696.4L572 696.4L572.4 698.0L573.1 696.5L573.7 696.5L574.5 687.9L575.1 687.9L575.8 696.8L576.4 696.8L577.2 698.8L578.1 696.4L578.7 696.4L579 689.6L579.7 650.7L580.3 650.7L580.9 683.5L581.4 673.1L581.7 659.5L582.3 659.5L582.6 673.1L583.2 684.4L583.3 682.5L583.9 682.5L584.4 692.7L584.7 695.3L585 695.3L585.6 698.2L586.3 696.9L586.9 696.9L587.4 697.7L588.2 697.2L588.6 697.4L589.2 698.4L590.4 694.2L590.7 692.0L591.3 692.0L592.2 697.7L592.9 696.2L593.5 696.2L594 697.4L594.7 696.2L595.3 696.1L595.8 698.0L596.4 698.7L597.6 687.9L598.1 687.9L598.8 696.3L599.1 695.1L599.7 695.1L600 696.5L600.6 697.9L601.3 695.5L601.9 695.5L602.4 693.1L602.7 690.0L603.3 690.0L604.2 698.7L604.8 698.8L605.7 694.9L606.3 694.8L607.2 698.9L607.8 693.3L609.1 579.6L609.6 579.6L610.8 693.3L611 696.3L611.6 696.3L612 697.7L612.6 696.4L613.2 696.3L613.8 694.7L614.5 685.0L615 685.0L615.7 695.8L616.5 685.2L617.1 685.2L617.8 695.8L618.6 698.5L619.2 695.2L619.9 690.0L620.3 690.0L621 697.2L621.6 697.5L622.4 694.4L623 694.4L624 697.9L624.8 694.0L625.3 694.0L625.8 696.9L626.4 698.2L627.1 694.9L627.8 695.0L628.8 698.7L629.6 697.0L630.2 697.0L631.2 699.1L631.8 698.2L632.7 692.0L633.3 692.0L633.8 694.6L634.4 694.6L635.4 698.5L636 696.3L636.7 688.0L637.3 688.0L638 696.6L638.6 696.6L639 695.9L639.3 694.3L639.9 694.3L640.2 689.5L641.2 616.1L641.8 616.1L642.6 674.8L643.2 696.6L643.5 695.8L643.8 695.8L644.1 695.0L644.7 685.0L645.3 685.0L646.2 697.2L646.8 698.9L647.8 695.9L648.4 695.9L648.6 696.7L649.2 695.2L649.8 690.0L650.3 690.0L651 697.1L651.6 698.2L652.2 698.6L653 695.0L653.6 695.0L654 696.7L654.6 698.0L655.2 696.1L655.5 691.6L656.6 621.3L657.2 621.3L658.3 689.1L658.8 698.2L659.7 672.0L660.3 672.0L661.2 698.4L661.8 697.4L662.1 696.3L662.7 690.0L663.3 690.0L664.2 696.2L664.8 694.7L665.3 694.7L666.6 699.1L667.8 693.0L668.3 693.0L669 697.8L669.7 696.9L670.3 696.9L670.8 698.0L671.4 697.2L672 695.0L673.2 695.0L673.9 678.6L674.5 678.6L675 691.3L675.6 698.0L676.2 697.7L676.3 697.3L676.9 697.3L677.7 690.0L678.3 690.0L678.8 695.5L679.8 698.8L680.5 696.3L681.1 696.3L681.6 698.1L682.2 697.3L682.6 695.8L683.4 695.7L683.7 694.0L684.3 694.0L684.6 695.7L685.2 695.6L685.4 694.4L686 694.4L686.4 696.9L687 698.5L688 696.7L688.6 696.7L688.8 697.1L689.7 692.0L690.3 692.0L690.6 694.4L691.2 697.1L691.5 695.2L692.1 695.2L692.4 696.7L693 694.2L693.5 694.2L694.2 696.8L694.4 696.3L694.8 696.3L695 694.9L695.7 680.0L696.3 680.0L697 694.0L697.3 694.0L697.8 696.2L698.4 695.6L698.6 694.4L699.9 606.2L700.4 606.2L701.4 679.9L702 687.5L702.7 640.0L703.3 640.0L704.4 698.0L705 691.1L706 630.4L706.6 630.4L707.7 695.3L708 694.9L708.7 675.0L709.3 675.0L710.1 695.2L710.7 695.2L711.6 697.8L712.2 697.1L712.8 694.6L713.4 684.8L714 684.8L714.8 696.1L715.2 697.6L715.9 697.2L716.2 697.2L716.4 697.6L717.4 694.7L717.7 692.0L718.3 692.0L718.8 696.0L719.4 697.1L719.9 695.3L720.5 695.3L721.2 698.3L721.8 696.4L722.4 696.4L723 698.0L723.7 694.0L724.3 694.0L724.5 694.3L725.1 694.3L726 698.5L726.7 697.4L727.3 697.4L727.8 697.6L728.2 696.7L728.8 696.7L729 697.2L729.7 694.0L730.3 694.0L730.8 696.9L731.4 696.2L731.6 694.4L732.2 694.5L732.6 696.1L733 694.2L733.6 694.3L734.4 698.2L735 695.3L735.7 680.0L736.3 680.0L736.8 690.9L737.4 697.6L738.1 696.0L738.4 694.4L739.5 641.5L740 641.5L741.1 694.6L741.7 694.6L742.2 697.7L742.7 696.2L743.4 686.0L744 686.0L744.6 695.0L745.4 694.2L745.8 692.0L746.3 692.0L747 697.8L748.2 697.7L748.4 697.2L749 697.2L749.4 698.0L750 694.0L750.6 687.3L751.1 687.3L751.8 696.7L752.4 698.7L753 698.6L753.6 698.0L754 698.0L754.8 694.0L755.3 694.0L756 697.9L757 694.3L757.6 694.3L758.4 697.6L759.6 697.6L760.2 696.5L760.8 694.8L761 694.8L761.4 693.1L761.7 690.0L762.3 690.0L763.2 697.9L763.8 697.7L765.7 478.3L766.3 478.3L768 689.1L768.6 698.2L769.9 640.0L770.3 640.0L771 687.5L771.5 694.1L772 694.1L772.2 694.9L772.8 690.0L773.3 690.0L774 695.0L774.2 694.3L774.8 694.3L775.5 696.9L775.8 696.9L776.1 696.6L776.7 692.2L777.3 692.2L777.6 694.5L778.2 697.0L778.8 697.1L779.4 698.1L780 697.6L780.7 692.0L781.3 692.0L781.9 697.1L782.4 697.8L783 696.8L783.6 694.5L784.2 694.6L784.8 696.6L785.5 695.2L786 695.2L786.6 697.3L787.2 698.3L787.8 697.6L788.4 697.7L789.2 696.2L789.8 696.2L790.8 698.9L791.6 694.7L792.2 694.7L792.6 696.2L792.9 694.7L793.5 694.7L793.6 695.0L793.9 695.1L794.4 698.8L795 698.9L795.9 696.7L796.5 696.7L796.8 697.7L797.4 696.2L797.6 695.2L798.2 695.1L798.6 697.7L799.6 697.7L800.3 697.5L801 699.1L801.6 699.0L802.2 699.2L802.8 698.8L804 698.8L804.6 698.3L805.2 698.3L805.8 698.9L806.4 698.8L807 699.2L807.6 698.7L808.2 698.9L808.9 698.6L809.7 696.0L810.3 696.0L811.2 698.8L811.8 699.0L813.6 698.6L816 699.2L817.8 699.2L819.7 697.8L820.3 697.8L821.4 698.8L822 699.0L823.2 698.7L823.8 699.1L825 699.0L826 697.8L826.6 697.8L827.4 699.1L828.6 698.6L829.2 697.7L829.8 696.0L830.3 696.0L831 698.4L832.2 699.0L833.4 698.8L834 699.1L835.9 698.5L837.6 699.1L838.2 698.9L838.8 699.1L841 698.6L841.8 699.1L843 698.8L844.8 698.9L845.4 699.1L846 698.8L846.6 698.8L847.3 698.0L847.9 698.0L848.4 698.9L849.6 699.2L850.6 697.8L851.2 697.8L852 698.7L852.6 699.0L853.2 698.7L855 698.7L856.2 698.6L856.8 698.9L857.4 698.8L858 699.1L858.6 698.8L859.2 697.7L859.8 696.0L860.3 696.0L861.1 698.2L861.6 698.8L862.2 699.0L863.4 698.7L864.1 698.2L864.7 698.2L865.2 698.8L865.8 698.7L866.4 699.0L867 698.7L867.4 698.1L868 698.1L868.8 699.0L870 698.9L871.2 699.1L872.4 698.7L873.3 697.8L873.9 697.8L874.8 698.8L876 698.8L876.6 699.2L878.4 699.2L879 698.8L879.6 698.8L880.8 698.6L881.4 698.8L882 698.8L882.6 699.1L883.2 699.1L883.8 698.7L885.6 698.7L886.8 699.2L888 697.5L888.6 697.6L889.8 699.1L890.4 698.7L891.6 698.9L892.2 698.8L892.8 699.0L893.4 698.1L894.6 689.3L895.2 689.3L896.4 698.1L897.6 699.2L898.8 698.8L899.4 699.1L900.6 698.8L901.2 698.4L901.8 697.8L902.4 697.9L903 698.6L903.6 699.0L904.2 698.8L905.4 698.9L906.6 698.7L907.3 698.1L907.9 698.1L908.4 698.5L909 698.4L909.7 696.0L910.3 696.0L911.4 699.1L912 698.8L912.6 698.0L913.2 698.0L913.8 698.7L914.4 698.9L915 698.7L915.6 699.2L916.2 698.8L916.8 699.0L918.1 698.0L918.8 698.0L919.8 698.8L920.4 699.1L922.8 699.0L924.8 698.3L925.8 698.9L926.4 698.2L927.1 694.7L927.7 694.7L928.5 698.1L928.8 698.1L930 699.2L930.6 698.8L931.2 698.7L933 699.1L934.8 698.7L936 699.2L936.6 698.7L937.2 699.0L937.8 698.0L938.4 698.0L939 698.9L939.6 698.7L940.8 699.2L941.4 698.8L942 699.1L943.4 697.6L943.6 697.6L943.8 697.9L944.4 697.0L944.7 696.0L945.3 696.0L946.2 698.9L947 698.0L947.5 698.0L948.6 699.0L949.2 698.7L949.8 699.1L952.3 698.5L953.4 699.0L954.6 698.8L955.2 699.0L956.2 692.7L956.8 692.7L957.6 698.5L958.2 699.1L959.4 698.8L960 699.1L960.6 698.9L961.8 697.6L962.4 697.6L963.6 698.9L964.2 699.1L964.9 697.6L965.5 697.6L966 698.8L966.6 698.9L967.2 698.7L967.8 699.1L968.4 699.1L969 698.4L969.7 696.0L970.3 696.0L970.8 697.7L971.4 698.3L971.7 697.8L972.3 697.8L973.2 698.9L975.6 698.9L976.2 699.2L976.8 698.9L977.5 698.0L978.1 698.0L979.2 699.0L979.8 698.7L980.4 699.1L981 698.9L981.6 699.1L983 698.2L983.6 698.2L984.6 698.9L986 677.5L986.6 677.5L987.6 693.7L988.2 698.9L989.4 698.7L990.6 699.1L991.2 698.9L992.4 699.0L993 698.7L993.6 699.0L994.2 696.3L994.8 692.7L995.3 692.7L996 697.8L996.6 699.1L997.2 698.8L997.8 699.2L1000.4 698.5L1000.8 698.8L1001.4 698.8L1002.6 699.0L1003.6 692.0L1004.2 692.0L1005 698.4L1005.6 698.9L1007 698.6L1007.4 698.7L1008 693.9L1009 678.4L1009.6 678.4L1011 698.6L1011.6 699.1L1013 698.2L1013.6 698.2L1014.6 698.9L1015.2 698.9L1015.8 698.7L1016.4 698.9L1018.2 698.5L1020 699.0L1020.6 697.0L1021.2 692.4L1021.8 692.4L1022.4 697.0L1023 699.0L1024.9 698.6L1026.6 699.1L1027.2 698.9L1027.8 699.1L1029 698.4L1029.7 696.0L1030.3 696.0L1030.8 697.7L1031.4 698.8L1032 698.7L1032.6 699.1L1033.8 698.8L1034.4 699.1L1035 699.0L1035.6 698.5L1036.2 698.5L1036.8 698.9L1037.8 692.0L1038.4 692.0L1039.2 698.4L1039.8 699.1L1040.4 698.9L1041 699.2L1042.9 698.5L1043.4 698.7L1045.2 699.1L1046.4 698.6L1047.2 697.8L1047.8 697.8L1048.8 698.9L1049.7 695.0L1050.3 695.0L1051.2 698.9L1051.8 699.0L1052.4 698.9L1053.2 697.9L1053.8 698.0L1054.8 698.7L1055.7 692.0L1056.3 692.0L1057.2 698.0L1057.8 698.7L1058.4 699.1L1059 695.2L1059.6 690.0L1060.1 690.0L1060.8 697.2L1061.4 699.2L1062 695.9L1062.7 683.0L1063.3 683.0L1063.8 692.2L1064.4 699.0L1065 699.0L1066 676.4L1066.6 676.4L1067.4 697.7L1067.7 697.7L1068.6 699.0L1069.2 699.2L1069.8 698.8L1070.4 699.2L1071 698.2L1071.7 695.0L1072.3 695.0L1073.1 698.6L1073.4 698.6L1075.2 688.0L1075.8 688.0L1076.4 692.0L1076.9 693.8L1078.2 672.0L1078.8 672.0L1079.4 681.8L1080 688.3L1082.5 629.0L1083.1 629.0L1086 697.8L1086.6 698.9L1087.9 698.1L1089 698.4L1089.7 696.0L1090.3 696.0L1090.8 697.7L1091.4 698.8L1092 699.0L1092.6 698.8L1094.5 698.6L1096.8 699.2L1098.6 698.9L1099.2 697.7L1099.8 696.0L1100.3 696.0L1101 698.2L1101.6 698.7L1102.2 698.9L1103.4 698.7L1104 699.0L1105.2 698.6L1105.8 699.0L1108.2 699.1L1108.8 698.8L1109.4 699.2L1110 699.2L1110.6 698.8L1111.4 697.6L1112 697.6L1113 699.1L1114.2 699.0L1115.7 689.3L1116.3 689.3L1117.4 697.1L1117.8 698.5L1118.4 699.0L1119 699.1L1119.6 698.8L1120.2 697.8L1120.8 697.9L1121.4 698.8L1123.2 699.0L1123.8 699.2L1125.8 698.0L1126.2 698.0L1127.4 699.1L1128.6 698.8L1130.4 698.7L1131.6 698.5L1132.8 698.9L1133.4 698.0L1134.6 688.6L1135.2 688.6L1136.4 698.0L1137 698.8L1138.2 699.2L1138.8 699.1L1139.4 698.7L1140.6 699.2L1141.2 699.2L1143 698.6L1143.6 698.9L1146 698.7L1146.7 697.7L1147.2 697.7L1147.8 698.6L1148.4 698.8L1149 698.4L1149.7 696.0L1150.3 696.0L1151.4 699.2L1152.6 698.8L1153.3 697.7L1153.9 697.8L1154.4 698.5L1155 699.0L1155.6 699.0L1156.2 698.8L1156.8 699.2L1157.4 699.0L1158 699.1L1158.6 699.0L1159.3 697.9L1160 697.9L1160.4 698.7L1161 699.1L1161.6 699.0L1162.2 699.1L1164.1 698.5L1165.2 699.0L1167 698.9L1168.8 698.4L1169.4 698.8L1170 698.4L1171.2 696.7L1171.8 696.7L1173 698.4L1173.6 698.8L1174.2 698.9L1175.7 698.5L1176.6 698.9L1177.8 698.8L1178.4 698.4L1179 697.8L1179.6 697.8L1180.8 698.9L1182.6 698.8L1184.4 699.0L1185 698.0L1185.7 698.0L1186.2 698.9L1186.8 699.1L1188 698.7L1189.2 699.2L1189.8 698.9L1191 698.8L1192.2 698.6L1193.4 698.9L1194 698.8L1195.3 688.4L1195.9 688.4L1197 697.2L1197.6 698.7L1198.9 698.4L1200.6 699.2L1201.2 698.8L1201.8 698.8L1202.4 699.1L1203 699.1L1204 697.9L1204.6 697.9L1205.4 699.1L1206 699.1L1206.6 699.0L1207.2 699.1L1207.8 698.7L1208.7 697.6L1209.3 697.6L1209.7 697.0L1210.3 697.0L1210.8 698.1L1211.4 698.8L1212.4 697.9L1213 697.9L1213.8 698.7L1214.4 699.0L1215 698.8L1216.2 698.9L1216.8 699.2L1217.8 697.6L1218.4 697.6L1219.2 698.8L1221 699.0L1221.9 697.7L1222.5 697.7L1223.4 698.9L1224.6 698.9L1226 698.5L1227.6 698.9L1228.2 698.7L1228.8 699.1L1229.4 698.8L1231.2 698.7L1232.4 698.5L1233 698.8L1233.6 698.6L1234.9 678.8L1235.5 678.8L1236.6 695.6L1237.2 699.1L1237.8 698.7L1238.4 698.7L1239 697.8L1239.7 693.0L1240.3 693.0L1241.1 697.8L1241.4 697.8L1242.6 699.1L1243.2 698.6L1244.7 694.4L1245.3 694.4L1246.8 698.6L1248 699.0L1249.8 698.8L1250.4 699.0L1251.6 698.8L1252.5 698.3L1253.1 698.3L1254 698.8L1255.2 698.9L1255.8 699.1L1256.4 698.7L1257 698.7L1257.9 697.7L1258.5 697.7L1260 699.1L1261.2 698.7L1262.1 697.7L1262.7 697.7L1263.6 698.7L1264.2 699.1L1264.8 698.8L1266 698.8L1266.8 697.8L1267.4 697.8L1268.4 699.1L1269.6 698.8L1270.2 699.1L1271.4 698.8L1272.1 698.3L1272.7 698.3L1273.8 699.0L1274.4 698.8L1275 699.0L1275.6 698.6L1276.3 697.6L1276.9 697.6L1278 698.8L1278.6 698.7L1279.2 699.2L1280.4 698.7L1281 698.9L1281.8 698.1L1282.4 698.1L1282.8 698.5L1284 699.0L1284.6 698.8L1288.2 691.0L1288.7 691.0L1292.4 699.1L1293 698.8L1294.8 698.8L1295.5 697.8L1296 697.8L1296.6 697.5L1297.8 694.4L1298.3 694.4L1299.4 697.4L1299.7 697.5L1300.8 699.2L1304 698.6L1305 698.9L1306.2 699.0L1307.5 697.6L1308 697.8L1309.2 699.2L1309.8 698.9L1311 698.7L1311.3 698.2L1312 698.2L1312.2 698.6L1313.4 699.0L1314 699.0L1315.2 698.0L1315.8 698.0L1317.7 695.3L1318.3 695.3L1319.4 697.1L1320 697.5L1320.6 697.6L1321.2 698.9L1321.8 698.8L1322.4 699.2L1323.4 697.7L1324 697.7L1324.8 699.1L1325.4 699.1L1326 698.8L1326.6 698.8L1327.5 698.2L1328.1 698.2L1329.6 699.1L1332 698.6L1332.6 698.8L1333.2 698.8L1333.8 699.0L1334.4 698.7L1335 699.0L1335.6 698.9L1336.2 699.1L1337 698.0L1337.6 698.0L1338 698.6L1338.6 699.0L1339.8 699.0L1340.4 698.7L1342.2 698.8L1342.8 694.5L1344.1 678.0L1344.7 678.0L1346.4 698.8L1347 699.1L1347.6 698.8L1348.2 699.2L1348.8 698.8L1349.7 693.0L1350.3 693.0L1351.2 698.9L1351.8 698.7L1352.4 699.1L1353.6 699.2L1354.2 694.4L1356 647.0L1356.6 647.0L1357.2 662.8L1357.8 651.0L1359 616.4L1359.5 616.4L1360.8 657.3L1361.2 665.0L1361.8 665.0L1363.4 697.6L1364.4 698.7L1366.8 698.8L1367.4 699.1L1368.8 698.2L1369.3 698.2L1370.4 698.8L1372.8 699.0L1374 697.8L1374.7 697.8L1375.8 698.9L1376.4 698.9L1377.6 697.8L1378.2 697.9L1379.4 699.0L1380 698.8L1380.6 699.0L1381.8 698.8L1382.2 698.3L1382.8 698.3L1383.6 699.0L1384.8 699.1L1385.4 698.9L1386 699.1L1387.2 698.8L1387.8 699.1L1388.7 698.5L1389.3 698.5L1389.6 698.7L1390.2 698.7L1390.8 699.0L1392.1 698.1L1392.7 698.1L1393.8 699.1L1394.4 699.2L1395 698.9L1395.6 699.2L1396.2 698.9L1397.4 699.1L1398 698.8L1398.7 697.9L1399.3 697.9L1399.8 698.8L1401 699.2L1401.6 698.9L1404 698.8L1404.6 698.6L1405.4 697.7L1406 697.7L1407 698.8L1407.6 699.2L1408.8 698.8L1409.4 699.1L1410.6 698.8L1412.1 697.0L1412.7 697.0L1414.2 698.8L1416 699.2L1417.2 698.7L1420.2 698.8L1421.1 698.2L1421.7 698.2L1422.6 698.9L1423.2 699.1L1423.8 698.8L1424.4 699.0L1425.6 698.7L1426.2 698.3L1426.8 698.3L1427.4 698.8" fill="none" stroke="#149c14" stroke-width="1.5" stroke-linejoin="round"/><path d="M313.5 910.1L313.7 910.1L314.1 954.8L314.7 984.1L315.3 968.2L315.9 929.8L316.5 929.8L317.3 979.7L318.1 929.8L318.7 929.8L319.5 980.5L320.2 960.0L320.8 960.0L321.3 974.7L322.1 904.5L322.7 904.5L323.1 941.7L323.7 944.7L324.3 854.1L324.9 854.1L325.5 944.7L326.1 958.2L326.9 921.3L327.2 921.3L327.9 968.8L328.2 960.0L328.8 960.0L329.1 968.8L329.7 976.3L330.5 946.6L331.1 946.6L332 977.7L332.3 977.5L332.7 970.0L333.3 970.0L333.9 979.0L334.2 979.0L334.5 978.2L334.8 975.3L335.1 975.2L335.7 960.0L336.3 960.0L336.9 977.6L337.3 976.5L338.3 791.1L338.9 791.1L339.9 981.8L340.7 960.0L341.3 960.0L342.3 984.4L343.5 929.8L344 929.8L344.7 974.6L345 979.3L345.3 979.3L345.7 975.0L346.3 975.0L346.8 980.8L347.4 980.8L347.7 983.0L348.7 970.0L349.3 970.0L349.5 973.6L350.1 974.8L350.2 973.9L350.8 974.0L351.3 981.6L351.9 982.1L352.3 974.2L352.5 974.1L352.9 964.8L353.5 964.8L353.9 973.4L354.9 981.8L355.7 975.0L356.3 975.0L356.7 979.8L357.3 980.2L357.9 974.6L358.5 974.7L359.3 937.6L359.9 937.6L360.9 983.2L361.5 981.8L362.2 970.0L362.8 970.0L363.3 976.2L363.9 976.2L364.5 900.8L365.3 763.0L365.8 763.0L366.9 976.1L367.7 940.0L368.3 940.0L369 976.1L369.3 982.7L369.6 980.9L370.2 981.0L371.1 946.0L371.7 946.0L372.3 973.2L372.9 978.9L373.4 978.9L373.7 975.0L374.3 975.0L374.7 979.8L375.9 980.2L375.9 980.6L376.5 979.1L377.3 970.4L377.6 970.4L378.3 982.5L378.9 975.1L379.4 975.1L379.5 977.3L380.1 979.8L380.4 978.3L380.7 978.3L380.7 978.0L381.3 978.0L381.9 980.4L382.2 978.6L382.8 978.5L383.1 980.7L383.7 982.8L384.3 982.8L385.1 971.8L385.7 971.8L386.1 976.0L386.7 976.0L387.3 984.4L388.1 975.0L388.7 974.9L389.1 976.0L389.3 976.0L389.7 980.4L390.1 979.7L390.7 979.7L390.9 981.6L391.5 981.5L391.6 981.2L392.2 981.1L392.7 977.0L393.3 977.0L393.9 982.9L394.5 983.4L394.9 977.4L395.5 977.3L395.7 981.1L396.3 984.9L397.2 971.8L397.8 971.8L398.1 976.5L398.7 981.8L398.9 979.9L399.5 979.9L399.9 982.6L400.7 978.0L401.7 978.1L401.9 975.2L402.5 975.2L402.9 981.4L403.5 979.4L403.7 979.4L404.1 965.1L404.7 919.9L405.3 919.9L405.9 965.1L406.5 985.1L407.1 973.6L407.6 973.6L407.7 975.5L408.4 939.6L409 939.6L409.5 966.0L410.1 978.2L410.7 970.0L411.3 970.0L412 981.4L412.7 960.0L413.3 960.0L414 980.5L414.3 981.7L414.6 981.7L414.9 978.6L415.7 899.5L416.3 899.5L417 968.7L417.3 976.2L417.6 976.2L418.5 904.5L419.1 904.5L420 978.1L420.7 960.0L421.3 960.0L422.1 980.4L422.7 985.2L423.7 970.0L424.3 970.0L424.7 977.3L425.1 978.0L425.3 978.0L425.7 980.5L426.3 981.3L426.6 980.2L427.2 980.2L427.5 979.7L427.7 978.0L428.3 978.0L428.7 981.4L429.3 976.1L429.8 976.1L429.9 977.8L430.5 977.4L430.7 975.0L431.9 974.8L432.9 983.0L433.5 966.0L434.4 790.2L435 790.2L435.9 966.0L436.1 973.3L436.7 950.0L437.3 950.0L438 979.0L438.3 982.0L438.6 982.1L439.5 985.7L440.9 945.2L441.2 945.2L441.9 973.2L442.5 946.0L443.1 946.0L443.9 980.1L444.4 980.6L444.9 983.5L445.7 975.0L446.3 975.0L446.9 980.7L447.3 982.4L447.9 982.5L448.6 979.1L449.2 979.1L449.7 973.8L450.4 925.5L451 925.5L451.5 960.0L452.1 979.4L452.5 974.5L453.1 974.4L453.3 976.7L453.7 972.0L454.3 972.0L454.5 975.1L455.1 979.5L455.2 977.6L455.8 977.7L456.3 984.7L456.9 985.3L457.5 976.9L458.1 957.8L458.7 957.8L459.4 980.2L460 980.2L460.7 972.0L461.3 972.0L461.8 978.1L462.3 978.8L462.6 976.0L463.2 975.9L463.5 978.7L464.1 978.3L464.3 973.9L464.9 973.9L465.9 983.2L466.6 981.7L466.9 981.7L467.7 960.0L468.3 960.0L468.9 977.6L469.5 985.2L470.1 981.9L471 946.0L471.6 946.0L472.3 977.3L472.6 980.8L472.9 980.8L473.7 955.0L474.3 955.0L474.9 977.8L475.2 981.0L475.6 981.0L476.1 974.5L476.7 950.0L477.3 950.0L477.9 974.5L478.5 983.5L479.5 886.3L480 886.3L480.9 981.5L481.6 975.3L482.2 975.3L482.7 972.0L483.3 972.0L483.7 976.2L484.3 976.2L485.1 983.6L485.7 980.6L486.2 980.6L486.7 975.0L487.3 975.0L487.5 977.4L488.3 977.4L488.7 982.9L489.3 981.2L489.7 977.3L490.3 977.2L491.1 984.2L491.9 974.7L492.5 974.7L492.9 979.7L493.5 983.4L494.5 941.0L495.1 941.0L495.9 974.1L496.2 974.1L496.7 960.0L497.3 960.0L497.7 971.7L498.3 979.9L498.9 979.9L499.5 983.1L500.1 982.6L500.7 976.0L501.3 976.0L501.9 978.5L502.5 978.6L503.1 983.6L504.1 975.6L504.8 975.6L505 977.0L505.3 977.0L505.5 979.0L506.5 979.2L507.3 984.7L508 982.3L508.6 982.3L509.1 981.6L509.7 978.0L510.3 978.0L510.9 983.2L511.5 982.1L511.8 981.1L512.4 981.1L512.7 982.2L513.3 981.1L513.9 981.1L514.5 982.0L515.1 982.0L515.7 978.0L516.3 978.0L517 983.0L517.6 982.9L518.1 980.9L518.7 980.9L519.3 979.8L519.7 975.0L520.3 975.0L520.5 976.8L521.1 976.8L521.7 981.7L522.3 971.3L522.9 952.2L523.4 952.2L524.2 982.4L524.5 982.6L524.7 983.2L525.3 978.2L525.7 972.0L526.3 972.0L526.5 975.1L527.1 976.3L527.6 976.4L527.7 976.9L528.3 971.7L528.7 960.0L529.3 960.0L530.1 981.2L530.7 977.8L531.2 977.8L531.9 939.8L532.6 833.1L533.2 833.1L534.1 977.9L534.3 981.6L534.8 981.6L534.9 982.1L535.5 948.7L536.1 898.9L536.6 898.9L537.3 968.6L537.9 981.2L538.7 940.0L539.3 940.0L540 978.2L540.3 982.1L540.9 983.5L541.6 847.2L542.1 692.0L542.7 692.0L543.7 979.9L543.9 979.2L544.7 930.0L545.3 930.0L546 972.7L546.3 978.4L546.9 981.1L547.7 934.0L548.3 934.0L548.8 961.8L549.3 978.0L549.5 974.4L550.1 974.4L550.7 965.0L551.3 965.0L551.7 974.4L552.3 976.0L552.9 976.0L553.5 981.9L554.1 969.1L554.7 932.6L555.3 932.6L555.9 969.1L556.2 975.8L556.5 975.7L556.8 974.3L557.5 936.8L558.1 936.8L558.9 977.2L559.5 983.4L560 982.4L560.7 972.0L561.3 972.0L561.9 979.0L562.5 982.9L563.5 977.7L563.8 975.0L564.3 975.0L564.9 979.2L565.1 977.7L565.7 977.8L566.1 980.4L566.7 978.8L566.8 978.0L567.3 978.0L567.7 974.0L568.3 974.0L568.5 976.6L569.2 976.0L569.5 976.0L569.7 977.1L570.3 971.7L570.7 960.0L571.3 960.0L572.1 980.1L572.3 978.9L572.9 978.9L573.9 884.9L574.4 884.9L575.1 965.2L575.7 920.0L576.3 920.0L577.1 978.7L578.1 938.2L578.6 938.2L579.3 976.3L579.9 982.9L580 982.6L580.6 982.6L581.1 980.7L581.7 970.0L582.3 970.0L582.5 974.1L583.5 982.7L584.5 982.7L584.7 983.2L585.7 976.0L586.3 976.0L586.5 978.2L587.1 978.2L587.3 974.7L587.9 974.8L588.3 976.0L588.7 968.0L589.3 968.0L590.1 982.3L590.4 982.3L590.7 983.1L591.3 979.5L592 955.0L592.6 955.0L593.1 972.5L593.5 978.2L594.1 978.2L594.3 980.9L594.9 984.4L595.7 972.0L596.3 972.0L596.7 978.2L597 979.1L597.6 979.1L597.9 980.8L598.7 970.0L599.3 970.0L600.3 983.7L600.9 983.9L601.6 981.2L601.9 981.2L602.2 934.9L602.9 692.0L603.5 692.0L604.5 983.7L605.1 968.3L605.7 930.0L606.3 930.0L606.9 968.3L607.5 980.3L607.8 980.3L608.7 939.6L609.3 939.6L610 974.4L610.3 974.8L610.9 945.2L611.5 945.2L612.3 980.7L612.9 980.5L613.8 965.0L614.3 965.0L615 981.4L615.9 981.2L616.5 971.8L617.1 971.8L617.7 980.6L618.3 974.6L618.9 974.6L619.5 979.7L619.7 978.0L620.3 978.0L620.8 981.7L621.4 981.7L621.9 983.7L622.5 983.3L622.8 981.4L623.7 981.4L624.3 978.1L624.8 978.1L625.5 981.3L625.7 980.0L626.1 980.0L626.3 977.7L626.9 977.6L627.3 983.0L627.9 984.3L628.5 978.2L629 978.2L629.7 985.2L630.4 980.8L631 980.7L631.7 970.0L632.3 970.0L633.3 983.3L633.9 980.8L634.5 980.8L635.1 957.0L635.7 918.5L636.2 918.5L636.9 972.4L637.7 950.0L638.3 950.0L638.7 966.3L639.3 979.6L639.7 975.4L640.3 975.4L640.5 977.3L640.8 975.6L641.4 975.6L641.7 975.0L642.3 975.0L642.9 980.8L643.1 980.8L643.5 983.1L644.1 984.2L644.5 980.5L645.1 980.5L645.9 983.9L646.7 965.0L647.3 965.0L648.3 985.5L649.3 982.1L649.9 982.0L650.1 974.7L651 877.1L651.6 877.1L652.6 977.6L652.9 977.6L653.2 973.6L653.7 955.0L654.3 955.0L654.9 976.2L655.5 982.4L656.1 978.9L656.4 973.9L657 973.9L657.3 977.9L657.7 975.0L658.3 975.0L658.9 979.8L659.2 979.8L659.7 982.3L660.8 974.9L661.4 974.9L662.1 981.5L662.7 973.2L663.3 973.2L663.9 981.7L664.7 975.0L665.3 975.0L665.7 979.8L666.3 982.0L666.7 980.4L667.3 980.4L667.5 981.4L668.4 952.2L668.9 952.2L669.9 983.5L670.3 979.4L670.9 979.4L671.1 982.1L671.8 973.8L672.4 973.7L672.9 980.7L673.5 983.0L673.8 979.1L674.4 979.0L674.7 982.0L675.3 984.8L675.9 981.1L676.5 981.3L676.7 980.0L677.3 980.0L677.8 976.7L678.4 976.6L678.9 985.3L679.5 985.2L680.2 982.9L680.8 982.9L681.8 975.4L682.4 975.4L683.1 982.2L683.9 979.0L684.5 979.0L684.9 980.2L685.2 973.9L685.8 973.9L686.1 979.3L686.5 975.9L687.1 975.9L687.3 977.1L687.7 970.0L688.3 970.0L688.8 979.6L689.7 982.9L690.7 940.0L691.3 940.0L692.1 981.8L692.7 983.3L692.9 982.6L693.5 982.6L694.5 877.9L695 877.9L695.7 964.5L696.4 880.0L697 880.0L697.5 940.6L698.1 974.5L698.7 950.0L699.3 950.0L699.9 974.5L700.5 984.6L701.1 983.2L702 856.3L702.6 856.3L703.5 982.4L704.1 968.3L704.8 930.0L705.3 930.0L706 974.0L706.5 980.3L707.1 977.6L707.7 960.0L708.3 960.0L708.9 977.6L709.2 981.1L709.9 981.1L710.1 982.6L710.9 982.2L711.9 927.0L712.4 927.0L713.1 974.1L713.5 976.6L714.1 976.6L714.3 977.1L714.7 970.0L715.3 970.0L716.1 981.1L716.7 980.6L716.9 979.1L717.5 979.2L717.9 981.1L718.4 976.5L718.5 976.5L718.7 975.0L719.3 975.0L719.8 981.4L720.3 982.3L721.1 975.1L721.7 975.2L722.1 974.7L722.4 969.0L723 969.0L723.9 980.9L724.5 979.8L724.8 978.1L726.3 978.1L726.9 982.1L727.5 983.2L728.4 975.3L729 975.3L729.7 960.0L730.3 960.0L731.1 983.4L732 979.3L732.3 979.3L732.6 969.8L733.3 880.7L733.9 880.7L734.7 977.1L735.3 958.2L735.7 935.0L736.3 935.0L737.1 971.9L737.7 953.6L738.2 953.6L738.9 979.3L739.5 981.2L740.1 973.8L740.3 973.8L740.7 970.0L741.3 970.0L741.9 979.9L742.1 979.9L742.5 981.8L743.2 981.3L744 973.2L744.6 973.2L745.5 985.0L746.2 974.2L746.8 974.3L747.3 982.5L747.7 977.5L748.3 977.5L748.5 980.9L748.9 977.6L749.5 977.6L749.7 979.5L750.3 981.2L750.5 979.1L751.1 979.1L751.5 977.4L751.7 975.0L752.3 975.0L752.7 979.8L753.1 975.3L753.7 975.3L753.9 979.1L754.5 983.2L755.1 977.6L755.7 960.0L756.3 960.0L757 973.9L757.6 973.9L758.1 978.8L759.3 692.0L759.9 692.0L760.5 868.1L761.1 971.4L761.7 940.0L762.3 940.0L762.9 971.4L763.2 974.5L763.5 974.5L764.1 977.1L764.3 974.5L764.9 974.4L765.3 976.0L765.5 973.2L766.1 973.2L766.6 978.6L766.9 978.6L767.1 979.1L767.7 965.0L768.3 965.0L769 978.9L769.5 976.1L770.1 963.4L770.6 963.4L771.3 976.3L771.9 982.6L772.5 981.8L772.9 978.1L774.3 978.0L774.8 980.5L775.1 980.5L775.5 984.0L776.1 985.5L776.9 977.8L777.5 977.8L777.9 981.0L778.2 979.0L778.9 979.0L779.1 980.4L779.7 982.0L780.3 982.0L780.9 984.4L781.5 985.3L782.7 985.2L783.5 983.6L784.1 983.6L784.5 984.6L785.1 985.3L785.7 985.2L786.3 985.7L787.5 985.3L788 984.8L788.7 980.2L789.3 980.2L789.9 983.9L790.5 985.5L792 983.6L792.6 983.7L793.5 985.0L794.1 984.4L794.7 982.0L795.3 982.0L795.9 984.4L796.5 984.8L797.4 984.6L798.9 985.6L799.9 980.2L800.5 980.2L801.3 985.1L802.7 985.0L804.3 985.7L804.9 985.6L806.3 984.6L806.9 984.6L807.9 985.7L808.5 985.5L809.1 984.4L809.7 982.0L810.3 982.0L810.9 984.4L811.2 984.8L811.8 984.8L812.7 985.2L813.6 984.4L814.2 984.4L815.1 985.1L816.6 984.9L818.1 985.7L820.5 985.4L821.4 984.3L821.7 984.2L822.4 978.8L823 978.8L823.5 982.7L824.1 985.0L824.7 981.8L825.3 977.4L825.8 977.4L826.5 983.9L827.1 985.3L827.7 985.7L828.6 984.0L829.2 984.0L829.5 984.9L830.1 985.3L830.7 985.5L831.7 980.0L832.3 980.0L833.1 984.1L834.3 985.5L834.9 985.4L836.1 983.9L837.3 946.0L837.8 946.0L839.1 985.3L839.7 985.4L840.7 975.0L841.3 975.0L842.1 984.7L842.7 985.6L843.3 985.7L844.8 984.6L845.4 984.6L846.3 985.5L846.9 984.5L847.6 980.2L848.2 980.2L848.7 983.2L849.3 985.4L851.1 985.2L851.7 984.1L852.3 984.1L852.9 985.1L853.5 985.5L854.1 985.4L854.8 984.2L855.4 984.2L855.9 985.0L856.5 985.5L857.1 985.2L857.5 984.8L858.1 984.8L858.3 985.1L858.9 985.2L859.7 982.0L860.3 982.0L861.3 985.2L861.9 985.3L863.3 984.8L864.9 985.6L865.5 985.4L866.1 985.6L867.1 983.6L867.7 983.6L868.5 985.3L869.1 985.5L870.9 985.0L871.5 985.3L872.7 985.6L873.9 985.2L874.7 982.0L875.3 982.0L875.7 983.6L876.3 984.9L876.9 985.1L877.7 984.1L878.3 984.1L879.3 985.3L880.5 985.5L881.1 985.3L881.7 985.4L883.7 984.7L884.7 985.4L885.6 984.2L886.2 984.2L887.1 985.7L888.1 979.6L888.7 979.6L889.5 984.9L890.2 984.8L891.3 985.6L891.9 985.2L892.5 985.2L893.1 984.4L893.7 984.4L894.3 985.1L894.9 985.6L895.5 985.4L896.2 984.8L896.8 984.8L897.9 985.5L898.5 985.2L900.3 985.4L900.9 985.2L901.5 984.6L901.8 983.7L902.4 983.7L902.7 984.6L903.3 985.2L903.9 985.3L904.7 983.0L905.3 983.0L905.7 984.1L906.3 984.9L906.9 984.9L907.5 985.4L909.3 985.6L911.1 985.3L911.8 984.6L912.4 984.6L912.9 985.2L914.1 985.4L914.7 985.7L915.3 985.2L916 984.2L916.6 984.2L917.7 985.4L918.9 985.5L919.5 985.3L920.1 985.4L920.7 983.8L921.3 981.6L921.8 981.6L922.5 984.7L923.1 985.3L923.7 985.2L924.5 984.2L925.1 984.2L926.1 985.4L927.9 985.4L928.5 984.5L929.1 984.5L929.7 985.3L930.3 985.3L930.9 984.7L932.1 977.4L932.7 977.4L933.6 983.1L933.9 983.5L934.2 983.5L935.1 985.3L935.7 985.5L936.3 985.3L936.9 985.7L938.3 984.6L938.9 984.6L939.7 982.0L940.3 982.0L940.9 984.1L941.5 984.1L942.9 985.6L943.5 985.3L944.1 985.5L945.5 984.0L946.1 984.0L947.1 985.3L947.7 985.6L948.3 985.6L949.8 978.0L950.3 978.0L951.3 983.7L951.9 985.2L953.1 985.6L954.3 984.0L954.9 984.0L955.5 985.0L956.7 985.5L957.7 982.0L958.3 982.0L958.5 982.8L959.1 983.9L959.2 983.7L959.8 983.6L960.3 985.5L961.5 985.2L962.3 984.4L962.9 984.4L963.9 985.4L964.5 985.4L965.5 984.1L966 981.6L966.6 981.6L967.5 985.3L968.1 985.3L968.8 984.0L969.4 984.0L969.9 985.2L970.5 985.7L971.1 983.2L971.7 978.0L972.3 978.0L973.1 984.1L974.1 985.3L974.7 985.5L975.9 985.0L976.5 984.0L976.9 984.0L977.1 980.4L978.3 946.6L978.9 946.6L980.1 981.8L980.7 984.9L981 984.4L981.9 984.3L982.7 970.0L983.3 970.0L984.1 983.7L984.4 983.7L985.5 985.4L986.1 985.4L987.6 971.8L988.2 971.8L989.1 981.1L989.7 985.3L990.3 985.7L990.9 984.8L991.7 978.0L992.3 978.0L993.3 985.2L994.5 985.7L995.1 985.1L995.8 983.7L996 981.6L996.7 970.0L997.3 970.0L998.1 984.3L998.7 984.8L1000.2 956.4L1000.8 956.4L1002.3 985.5L1003.6 984.2L1003.9 984.1L1004.7 978.0L1005.3 978.0L1005.9 983.2L1006.5 985.4L1007.1 985.3L1007.7 985.5L1009.5 985.0L1010.7 985.5L1011.6 984.2L1012.8 972.3L1013.4 972.3L1014.9 985.5L1015.5 985.7L1016.7 985.4L1017.4 984.7L1017.7 984.7L1018.5 985.6L1019.1 984.4L1019.7 982.0L1020.3 982.0L1020.9 984.4L1021.5 985.6L1022.7 984.4L1023.3 984.5L1023.9 985.3L1025.1 985.4L1026.4 984.7L1027 984.7L1027.5 985.4L1028.1 985.2L1028.7 985.7L1029.3 985.6L1030.6 984.8L1031.2 984.8L1032.3 985.6L1034.1 985.6L1034.7 985.3L1035.3 985.5L1036.2 983.5L1036.5 983.5L1036.8 983.0L1037.3 983.0L1038.3 985.5L1040.2 984.9L1041.3 985.7L1042.6 984.9L1043.2 984.9L1043.7 985.1L1044.7 982.0L1045.3 982.0L1046.1 985.2L1046.8 983.7L1047.4 983.7L1047.9 984.7L1048.7 975.0L1049.3 975.0L1050 983.9L1050.9 984.9L1051.5 977.8L1052.1 960.6L1052.7 960.6L1053.3 978.1L1053.9 984.7L1054.7 975.0L1055.3 975.0L1056.3 985.0L1057.3 984.6L1058.1 985.4L1059.1 954.4L1059.7 954.4L1060.5 983.0L1061.1 985.3L1061.7 985.4L1062.7 978.0L1063.3 978.0L1064.1 984.9L1065.1 984.7L1066.5 985.6L1067.3 983.7L1067.9 983.7L1068.3 985.1L1068.9 985.1L1069.7 980.0L1070.3 980.0L1071.3 985.2L1072.3 984.2L1072.9 984.3L1073.7 985.1L1074.7 975.0L1075.3 975.0L1076.1 984.7L1076.7 985.6L1077.5 985.1L1078.5 985.3L1079.1 949.1L1080.1 837.3L1080.7 837.3L1082.1 985.3L1082.7 985.1L1083.6 984.0L1083.9 984.0L1084.7 965.0L1085.3 965.0L1086.3 985.2L1086.9 985.3L1087.5 984.9L1088.2 983.5L1088.8 983.5L1089.9 985.6L1090.8 978.8L1091.4 978.8L1092.2 983.5L1092.5 983.5L1092.9 984.8L1093.5 985.6L1094.1 985.3L1095.3 985.3L1096 984.4L1096.7 984.4L1097.7 985.4L1098.3 985.2L1099.5 982.8L1099.7 982.0L1100.3 982.0L1101.3 985.4L1101.9 985.7L1102.5 985.3L1103.1 985.2L1104 984.3L1104.6 984.3L1105.5 985.1L1106.1 985.4L1106.7 985.3L1107.3 982.2L1108.7 963.4L1109.3 963.4L1110.9 984.8L1111.5 985.2L1112.8 985.0L1113.3 985.3L1114.5 985.4L1115.8 984.3L1116.4 984.3L1116.9 984.8L1117.7 982.0L1118.3 982.0L1118.7 983.6L1119 984.1L1119.3 984.1L1119.9 985.1L1120.5 985.1L1121.5 983.5L1122.1 983.5L1123.5 985.6L1124.1 985.2L1125 983.7L1125.6 983.7L1125.9 984.4L1126.5 981.1L1127.8 964.8L1128.4 964.8L1129.8 982.9L1130.7 984.7L1131.3 985.4L1132.5 985.3L1133.7 985.0L1134.9 985.5L1135.5 985.2L1136.1 985.4L1136.7 985.2L1137.3 984.7L1138 984.7L1138.5 985.1L1139.1 984.7L1139.8 983.0L1140.3 983.0L1140.9 984.7L1141.5 985.3L1142.1 985.2L1142.7 985.5L1143.3 985.0L1143.7 984.0L1144.3 984.0L1145.1 985.4L1145.7 985.6L1146.3 985.2L1147 983.9L1147.6 983.9L1148.7 985.7L1149.3 985.2L1149.9 984.1L1150.5 984.1L1151.1 985.1L1151.7 985.5L1152.3 985.2L1152.9 985.4L1154.2 983.5L1154.8 983.6L1155.9 985.2L1157.1 985.5L1158.3 985.0L1159.1 983.5L1159.7 983.5L1160.7 985.2L1161.3 985.6L1161.9 985.6L1162.7 983.6L1163.3 983.6L1164.3 981.6L1164.8 981.6L1166.1 984.3L1166.4 984.3L1166.7 985.0L1167.3 985.5L1169.1 985.3L1169.7 985.0L1170.1 984.2L1170.7 984.2L1171.5 985.6L1172.1 985.4L1172.7 985.6L1173.3 985.5L1173.9 985.6L1175.5 985.0L1177.5 985.6L1178.2 983.6L1178.8 983.6L1179.3 985.3L1179.9 985.6L1181.1 985.3L1181.8 984.0L1182.4 984.0L1182.9 985.1L1184.1 985.2L1184.7 985.6L1185.9 985.6L1186.5 983.8L1187.5 978.4L1188.1 978.4L1189.3 984.2L1189.9 984.2L1190.7 985.4L1191.3 985.2L1191.9 985.6L1193.4 984.3L1194 984.3L1194.9 985.2L1196.1 985.2L1197.1 984.9L1198.5 985.6L1199.7 985.3L1200.9 985.4L1201.5 983.8L1202.1 983.8L1202.7 985.2L1203.9 983.5L1204.5 983.5L1205.7 985.3L1206.3 985.7L1206.9 985.0L1207.2 984.3L1207.8 984.2L1208.1 984.8L1209.3 981.5L1209.8 981.5L1211.1 984.9L1211.8 984.8L1212.9 985.7L1213.5 985.3L1214.1 984.2L1214.7 984.2L1215.3 985.2L1215.9 985.6L1217.1 985.5L1218.1 983.6L1218.7 983.6L1219.5 985.3L1220.7 985.2L1221.3 985.6L1221.9 985.4L1222.5 985.6L1223.1 985.1L1223.7 983.9L1224.2 983.9L1224.9 985.2L1225.5 985.5L1226.7 983.9L1227.9 969.0L1228.5 969.0L1229.7 983.8L1230.9 984.0L1232.1 976.5L1232.6 976.5L1233.3 981.3L1233.9 983.7L1234.5 983.7L1235.7 985.5L1236.3 985.3L1236.9 984.9L1237.5 984.9L1238.1 985.4L1239.3 985.2L1239.9 985.5L1240.5 984.9L1241.2 983.6L1242.3 983.7L1243.2 981.5L1243.8 981.5L1245.3 985.1L1246 983.8L1246.6 983.8L1247.1 984.7L1247.7 985.4L1248.9 985.0L1249.6 983.8L1250.2 983.8L1251.3 985.7L1251.9 985.3L1253.1 985.6L1253.7 985.6L1254.3 984.8L1254.9 983.5L1255.5 983.6L1256.1 985.0L1257.3 985.6L1259 984.9L1259.7 985.4L1260.3 985.5L1261.8 984.6L1262.4 984.6L1263.3 985.5L1263.9 985.6L1264.5 985.2L1265.7 985.4L1266.5 984.0L1267.1 984.0L1267.5 984.7L1268.1 985.2L1269.3 985.6L1271.3 984.1L1271.7 984.2L1272.9 985.7L1274.7 985.5L1275.6 983.7L1276.2 983.7L1277.1 985.6L1278.9 985.1L1282.5 971.8L1283 971.8L1286.1 983.6L1286.4 983.9L1286.7 984.0L1287.3 985.2L1287.9 985.7L1288.5 985.5L1289.1 985.5L1289.7 985.2L1290.3 985.2L1291.2 985.0L1292.7 985.5L1293.3 985.5L1294.3 984.2L1294.9 984.2L1295.7 985.2L1296.9 985.6L1297.5 984.9L1297.8 983.7L1298.5 983.7L1298.7 984.6L1299.3 984.1L1299.7 983.0L1300.3 983.0L1300.9 984.5L1301.5 984.5L1302.3 985.3L1302.9 985.7L1303.5 985.3L1304.1 985.6L1304.7 985.2L1305.4 983.7L1306 983.7L1306.5 984.9L1307.1 985.5L1307.7 985.2L1308.3 985.5L1308.9 985.3L1309.5 984.8L1309.8 984.0L1310.4 984.0L1311.3 985.4L1312.5 985.4L1313.4 984.4L1314 984.4L1314.9 985.4L1316.1 985.6L1318.1 984.9L1319.1 985.6L1321.5 985.0L1322.7 985.5L1323.9 985.5L1324.5 985.7L1325.7 985.1L1326.3 983.9L1326.8 983.9L1327.5 985.4L1328.1 985.7L1329.3 985.3L1329.9 985.4L1331.1 985.1L1331.7 985.5L1332.3 985.5L1332.9 978.6L1333.7 962.0L1334.3 962.0L1335.3 982.8L1335.9 985.3L1336.5 982.6L1337.5 960.6L1338.1 960.6L1338.9 978.2L1339.5 985.2L1340.7 985.5L1341.3 985.3L1341.9 985.3L1342.6 983.7L1343.2 983.7L1344.3 985.6L1344.9 985.6L1346.1 984.9L1346.5 983.7L1347.1 983.7L1347.3 984.5L1347.9 982.9L1349.5 900.0L1350.1 900.0L1350.3 910.4L1351.9 826.1L1352.5 826.1L1353.3 869.3L1353.9 885.4L1354.3 860.0L1354.9 860.0L1356.9 985.5L1359.3 985.6L1359.9 985.4L1360.8 984.6L1361.4 984.6L1362.3 985.5L1362.9 985.5L1363.5 985.3L1364.1 985.6L1365 984.5L1365.6 984.5L1365.9 985.0L1367.1 985.7L1368.9 985.4L1369.7 984.6L1370.3 984.6L1371.3 985.7L1371.9 985.4L1373.1 985.6L1373.7 985.3L1374.3 984.6L1374.7 983.6L1375.3 983.6L1376.1 985.2L1376.7 985.2L1377.3 985.7L1378.2 983.9L1378.8 983.9L1379.7 985.7L1380.3 985.3L1380.9 985.5L1382.7 985.2L1383.4 984.5L1384 984.5L1384.5 985.4L1385.1 985.7L1386.3 984.5L1386.7 983.7L1387.3 983.7L1388.1 985.1L1388.7 985.6L1389.3 985.6L1390.5 985.2L1391.1 985.4L1392.3 983.8L1392.9 983.9L1394.1 985.5L1394.7 985.5L1395.3 984.4L1395.8 984.4L1396.5 985.3L1397.7 985.4L1399.3 984.8L1400.7 985.4L1401.3 985.1L1401.6 984.5L1402.2 984.5L1402.5 985.1L1403.1 985.3L1405.1 981.2L1405.3 981.2L1406.7 984.8L1407.3 985.2L1407.9 984.8L1408.5 983.8L1409.1 983.8L1410.3 985.4L1410.9 985.0L1411.6 983.9L1412.2 983.9L1413.3 985.4L1413.9 985.5L1415.1 985.0L1415.9 984.3L1416.5 984.3L1417.5 985.3L1419.3 985.4L1420.8 985.0L1421.7 985.4L1422.9 985.2L1423.5 985.4L1424.7 984.7L1425.3 984.7L1426.5 985.6L1426.5 985.5L313.5 985.5Z" fill="#80acd9" stroke="#80acd9" stroke-width="2.6" stroke-linejoin="round" opacity="0.6"/><path d="M313.5 910.1L313.7 910.1L314.1 954.8L314.7 984.1L315.3 968.2L315.9 929.8L316.5 929.8L317.3 979.7L318.1 929.8L318.7 929.8L319.5 980.5L320.2 960.0L320.8 960.0L321.3 974.7L322.1 904.5L322.7 904.5L323.1 941.7L323.7 944.7L324.3 854.1L324.9 854.1L325.5 944.7L326.1 958.2L326.9 921.3L327.2 921.3L327.9 968.8L328.2 960.0L328.8 960.0L329.1 968.8L329.7 976.3L330.5 946.6L331.1 946.6L332 977.7L332.3 977.5L332.7 970.0L333.3 970.0L333.9 979.0L334.2 979.0L334.5 978.2L334.8 975.3L335.1 975.2L335.7 960.0L336.3 960.0L336.9 977.6L337.3 976.5L338.3 791.1L338.9 791.1L339.9 981.8L340.7 960.0L341.3 960.0L342.3 984.4L343.5 929.8L344 929.8L344.7 974.6L345 979.3L345.3 979.3L345.7 975.0L346.3 975.0L346.8 980.8L347.4 980.8L347.7 983.0L348.7 970.0L349.3 970.0L349.5 973.6L350.1 974.8L350.2 973.9L350.8 974.0L351.3 981.6L351.9 982.1L352.3 974.2L352.5 974.1L352.9 964.8L353.5 964.8L353.9 973.4L354.9 981.8L355.7 975.0L356.3 975.0L356.7 979.8L357.3 980.2L357.9 974.6L358.5 974.7L359.3 937.6L359.9 937.6L360.9 983.2L361.5 981.8L362.2 970.0L362.8 970.0L363.3 976.2L363.9 976.2L364.5 900.8L365.3 763.0L365.8 763.0L366.9 976.1L367.7 940.0L368.3 940.0L369 976.1L369.3 982.7L369.6 980.9L370.2 981.0L371.1 946.0L371.7 946.0L372.3 973.2L372.9 978.9L373.4 978.9L373.7 975.0L374.3 975.0L374.7 979.8L375.9 980.2L375.9 980.6L376.5 979.1L377.3 970.4L377.6 970.4L378.3 982.5L378.9 975.1L379.4 975.1L379.5 977.3L380.1 979.8L380.4 978.3L380.7 978.3L380.7 978.0L381.3 978.0L381.9 980.4L382.2 978.6L382.8 978.5L383.1 980.7L383.7 982.8L384.3 982.8L385.1 971.8L385.7 971.8L386.1 976.0L386.7 976.0L387.3 984.4L388.1 975.0L388.7 974.9L389.1 976.0L389.3 976.0L389.7 980.4L390.1 979.7L390.7 979.7L390.9 981.6L391.5 981.5L391.6 981.2L392.2 981.1L392.7 977.0L393.3 977.0L393.9 982.9L394.5 983.4L394.9 977.4L395.5 977.3L395.7 981.1L396.3 984.9L397.2 971.8L397.8 971.8L398.1 976.5L398.7 981.8L398.9 979.9L399.5 979.9L399.9 982.6L400.7 978.0L401.7 978.1L401.9 975.2L402.5 975.2L402.9 981.4L403.5 979.4L403.7 979.4L404.1 965.1L404.7 919.9L405.3 919.9L405.9 965.1L406.5 985.1L407.1 973.6L407.6 973.6L407.7 975.5L408.4 939.6L409 939.6L409.5 966.0L410.1 978.2L410.7 970.0L411.3 970.0L412 981.4L412.7 960.0L413.3 960.0L414 980.5L414.3 981.7L414.6 981.7L414.9 978.6L415.7 899.5L416.3 899.5L417 968.7L417.3 976.2L417.6 976.2L418.5 904.5L419.1 904.5L420 978.1L420.7 960.0L421.3 960.0L422.1 980.4L422.7 985.2L423.7 970.0L424.3 970.0L424.7 977.3L425.1 978.0L425.3 978.0L425.7 980.5L426.3 981.3L426.6 980.2L427.2 980.2L427.5 979.7L427.7 978.0L428.3 978.0L428.7 981.4L429.3 976.1L429.8 976.1L429.9 977.8L430.5 977.4L430.7 975.0L431.9 974.8L432.9 983.0L433.5 966.0L434.4 790.2L435 790.2L435.9 966.0L436.1 973.3L436.7 950.0L437.3 950.0L438 979.0L438.3 982.0L438.6 982.1L439.5 985.7L440.9 945.2L441.2 945.2L441.9 973.2L442.5 946.0L443.1 946.0L443.9 980.1L444.4 980.6L444.9 983.5L445.7 975.0L446.3 975.0L446.9 980.7L447.3 982.4L447.9 982.5L448.6 979.1L449.2 979.1L449.7 973.8L450.4 925.5L451 925.5L451.5 960.0L452.1 979.4L452.5 974.5L453.1 974.4L453.3 976.7L453.7 972.0L454.3 972.0L454.5 975.1L455.1 979.5L455.2 977.6L455.8 977.7L456.3 984.7L456.9 985.3L457.5 976.9L458.1 957.8L458.7 957.8L459.4 980.2L460 980.2L460.7 972.0L461.3 972.0L461.8 978.1L462.3 978.8L462.6 976.0L463.2 975.9L463.5 978.7L464.1 978.3L464.3 973.9L464.9 973.9L465.9 983.2L466.6 981.7L466.9 981.7L467.7 960.0L468.3 960.0L468.9 977.6L469.5 985.2L470.1 981.9L471 946.0L471.6 946.0L472.3 977.3L472.6 980.8L472.9 980.8L473.7 955.0L474.3 955.0L474.9 977.8L475.2 981.0L475.6 981.0L476.1 974.5L476.7 950.0L477.3 950.0L477.9 974.5L478.5 983.5L479.5 886.3L480 886.3L480.9 981.5L481.6 975.3L482.2 975.3L482.7 972.0L483.3 972.0L483.7 976.2L484.3 976.2L485.1 983.6L485.7 980.6L486.2 980.6L486.7 975.0L487.3 975.0L487.5 977.4L488.3 977.4L488.7 982.9L489.3 981.2L489.7 977.3L490.3 977.2L491.1 984.2L491.9 974.7L492.5 974.7L492.9 979.7L493.5 983.4L494.5 941.0L495.1 941.0L495.9 974.1L496.2 974.1L496.7 960.0L497.3 960.0L497.7 971.7L498.3 979.9L498.9 979.9L499.5 983.1L500.1 982.6L500.7 976.0L501.3 976.0L501.9 978.5L502.5 978.6L503.1 983.6L504.1 975.6L504.8 975.6L505 977.0L505.3 977.0L505.5 979.0L506.5 979.2L507.3 984.7L508 982.3L508.6 982.3L509.1 981.6L509.7 978.0L510.3 978.0L510.9 983.2L511.5 982.1L511.8 981.1L512.4 981.1L512.7 982.2L513.3 981.1L513.9 981.1L514.5 982.0L515.1 982.0L515.7 978.0L516.3 978.0L517 983.0L517.6 982.9L518.1 980.9L518.7 980.9L519.3 979.8L519.7 975.0L520.3 975.0L520.5 976.8L521.1 976.8L521.7 981.7L522.3 971.3L522.9 952.2L523.4 952.2L524.2 982.4L524.5 982.6L524.7 983.2L525.3 978.2L525.7 972.0L526.3 972.0L526.5 975.1L527.1 976.3L527.6 976.4L527.7 976.9L528.3 971.7L528.7 960.0L529.3 960.0L530.1 981.2L530.7 977.8L531.2 977.8L531.9 939.8L532.6 833.1L533.2 833.1L534.1 977.9L534.3 981.6L534.8 981.6L534.9 982.1L535.5 948.7L536.1 898.9L536.6 898.9L537.3 968.6L537.9 981.2L538.7 940.0L539.3 940.0L540 978.2L540.3 982.1L540.9 983.5L541.6 847.2L542.1 692.0L542.7 692.0L543.7 979.9L543.9 979.2L544.7 930.0L545.3 930.0L546 972.7L546.3 978.4L546.9 981.1L547.7 934.0L548.3 934.0L548.8 961.8L549.3 978.0L549.5 974.4L550.1 974.4L550.7 965.0L551.3 965.0L551.7 974.4L552.3 976.0L552.9 976.0L553.5 981.9L554.1 969.1L554.7 932.6L555.3 932.6L555.9 969.1L556.2 975.8L556.5 975.7L556.8 974.3L557.5 936.8L558.1 936.8L558.9 977.2L559.5 983.4L560 982.4L560.7 972.0L561.3 972.0L561.9 979.0L562.5 982.9L563.5 977.7L563.8 975.0L564.3 975.0L564.9 979.2L565.1 977.7L565.7 977.8L566.1 980.4L566.7 978.8L566.8 978.0L567.3 978.0L567.7 974.0L568.3 974.0L568.5 976.6L569.2 976.0L569.5 976.0L569.7 977.1L570.3 971.7L570.7 960.0L571.3 960.0L572.1 980.1L572.3 978.9L572.9 978.9L573.9 884.9L574.4 884.9L575.1 965.2L575.7 920.0L576.3 920.0L577.1 978.7L578.1 938.2L578.6 938.2L579.3 976.3L579.9 982.9L580 982.6L580.6 982.6L581.1 980.7L581.7 970.0L582.3 970.0L582.5 974.1L583.5 982.7L584.5 982.7L584.7 983.2L585.7 976.0L586.3 976.0L586.5 978.2L587.1 978.2L587.3 974.7L587.9 974.8L588.3 976.0L588.7 968.0L589.3 968.0L590.1 982.3L590.4 982.3L590.7 983.1L591.3 979.5L592 955.0L592.6 955.0L593.1 972.5L593.5 978.2L594.1 978.2L594.3 980.9L594.9 984.4L595.7 972.0L596.3 972.0L596.7 978.2L597 979.1L597.6 979.1L597.9 980.8L598.7 970.0L599.3 970.0L600.3 983.7L600.9 983.9L601.6 981.2L601.9 981.2L602.2 934.9L602.9 692.0L603.5 692.0L604.5 983.7L605.1 968.3L605.7 930.0L606.3 930.0L606.9 968.3L607.5 980.3L607.8 980.3L608.7 939.6L609.3 939.6L610 974.4L610.3 974.8L610.9 945.2L611.5 945.2L612.3 980.7L612.9 980.5L613.8 965.0L614.3 965.0L615 981.4L615.9 981.2L616.5 971.8L617.1 971.8L617.7 980.6L618.3 974.6L618.9 974.6L619.5 979.7L619.7 978.0L620.3 978.0L620.8 981.7L621.4 981.7L621.9 983.7L622.5 983.3L622.8 981.4L623.7 981.4L624.3 978.1L624.8 978.1L625.5 981.3L625.7 980.0L626.1 980.0L626.3 977.7L626.9 977.6L627.3 983.0L627.9 984.3L628.5 978.2L629 978.2L629.7 985.2L630.4 980.8L631 980.7L631.7 970.0L632.3 970.0L633.3 983.3L633.9 980.8L634.5 980.8L635.1 957.0L635.7 918.5L636.2 918.5L636.9 972.4L637.7 950.0L638.3 950.0L638.7 966.3L639.3 979.6L639.7 975.4L640.3 975.4L640.5 977.3L640.8 975.6L641.4 975.6L641.7 975.0L642.3 975.0L642.9 980.8L643.1 980.8L643.5 983.1L644.1 984.2L644.5 980.5L645.1 980.5L645.9 983.9L646.7 965.0L647.3 965.0L648.3 985.5L649.3 982.1L649.9 982.0L650.1 974.7L651 877.1L651.6 877.1L652.6 977.6L652.9 977.6L653.2 973.6L653.7 955.0L654.3 955.0L654.9 976.2L655.5 982.4L656.1 978.9L656.4 973.9L657 973.9L657.3 977.9L657.7 975.0L658.3 975.0L658.9 979.8L659.2 979.8L659.7 982.3L660.8 974.9L661.4 974.9L662.1 981.5L662.7 973.2L663.3 973.2L663.9 981.7L664.7 975.0L665.3 975.0L665.7 979.8L666.3 982.0L666.7 980.4L667.3 980.4L667.5 981.4L668.4 952.2L668.9 952.2L669.9 983.5L670.3 979.4L670.9 979.4L671.1 982.1L671.8 973.8L672.4 973.7L672.9 980.7L673.5 983.0L673.8 979.1L674.4 979.0L674.7 982.0L675.3 984.8L675.9 981.1L676.5 981.3L676.7 980.0L677.3 980.0L677.8 976.7L678.4 976.6L678.9 985.3L679.5 985.2L680.2 982.9L680.8 982.9L681.8 975.4L682.4 975.4L683.1 982.2L683.9 979.0L684.5 979.0L684.9 980.2L685.2 973.9L685.8 973.9L686.1 979.3L686.5 975.9L687.1 975.9L687.3 977.1L687.7 970.0L688.3 970.0L688.8 979.6L689.7 982.9L690.7 940.0L691.3 940.0L692.1 981.8L692.7 983.3L692.9 982.6L693.5 982.6L694.5 877.9L695 877.9L695.7 964.5L696.4 880.0L697 880.0L697.5 940.6L698.1 974.5L698.7 950.0L699.3 950.0L699.9 974.5L700.5 984.6L701.1 983.2L702 856.3L702.6 856.3L703.5 982.4L704.1 968.3L704.8 930.0L705.3 930.0L706 974.0L706.5 980.3L707.1 977.6L707.7 960.0L708.3 960.0L708.9 977.6L709.2 981.1L709.9 981.1L710.1 982.6L710.9 982.2L711.9 927.0L712.4 927.0L713.1 974.1L713.5 976.6L714.1 976.6L714.3 977.1L714.7 970.0L715.3 970.0L716.1 981.1L716.7 980.6L716.9 979.1L717.5 979.2L717.9 981.1L718.4 976.5L718.5 976.5L718.7 975.0L719.3 975.0L719.8 981.4L720.3 982.3L721.1 975.1L721.7 975.2L722.1 974.7L722.4 969.0L723 969.0L723.9 980.9L724.5 979.8L724.8 978.1L726.3 978.1L726.9 982.1L727.5 983.2L728.4 975.3L729 975.3L729.7 960.0L730.3 960.0L731.1 983.4L732 979.3L732.3 979.3L732.6 969.8L733.3 880.7L733.9 880.7L734.7 977.1L735.3 958.2L735.7 935.0L736.3 935.0L737.1 971.9L737.7 953.6L738.2 953.6L738.9 979.3L739.5 981.2L740.1 973.8L740.3 973.8L740.7 970.0L741.3 970.0L741.9 979.9L742.1 979.9L742.5 981.8L743.2 981.3L744 973.2L744.6 973.2L745.5 985.0L746.2 974.2L746.8 974.3L747.3 982.5L747.7 977.5L748.3 977.5L748.5 980.9L748.9 977.6L749.5 977.6L749.7 979.5L750.3 981.2L750.5 979.1L751.1 979.1L751.5 977.4L751.7 975.0L752.3 975.0L752.7 979.8L753.1 975.3L753.7 975.3L753.9 979.1L754.5 983.2L755.1 977.6L755.7 960.0L756.3 960.0L757 973.9L757.6 973.9L758.1 978.8L759.3 692.0L759.9 692.0L760.5 868.1L761.1 971.4L761.7 940.0L762.3 940.0L762.9 971.4L763.2 974.5L763.5 974.5L764.1 977.1L764.3 974.5L764.9 974.4L765.3 976.0L765.5 973.2L766.1 973.2L766.6 978.6L766.9 978.6L767.1 979.1L767.7 965.0L768.3 965.0L769 978.9L769.5 976.1L770.1 963.4L770.6 963.4L771.3 976.3L771.9 982.6L772.5 981.8L772.9 978.1L774.3 978.0L774.8 980.5L775.1 980.5L775.5 984.0L776.1 985.5L776.9 977.8L777.5 977.8L777.9 981.0L778.2 979.0L778.9 979.0L779.1 980.4L779.7 982.0L780.3 982.0L780.9 984.4L781.5 985.3L782.7 985.2L783.5 983.6L784.1 983.6L784.5 984.6L785.1 985.3L785.7 985.2L786.3 985.7L787.5 985.3L788 984.8L788.7 980.2L789.3 980.2L789.9 983.9L790.5 985.5L792 983.6L792.6 983.7L793.5 985.0L794.1 984.4L794.7 982.0L795.3 982.0L795.9 984.4L796.5 984.8L797.4 984.6L798.9 985.6L799.9 980.2L800.5 980.2L801.3 985.1L802.7 985.0L804.3 985.7L804.9 985.6L806.3 984.6L806.9 984.6L807.9 985.7L808.5 985.5L809.1 984.4L809.7 982.0L810.3 982.0L810.9 984.4L811.2 984.8L811.8 984.8L812.7 985.2L813.6 984.4L814.2 984.4L815.1 985.1L816.6 984.9L818.1 985.7L820.5 985.4L821.4 984.3L821.7 984.2L822.4 978.8L823 978.8L823.5 982.7L824.1 985.0L824.7 981.8L825.3 977.4L825.8 977.4L826.5 983.9L827.1 985.3L827.7 985.7L828.6 984.0L829.2 984.0L829.5 984.9L830.1 985.3L830.7 985.5L831.7 980.0L832.3 980.0L833.1 984.1L834.3 985.5L834.9 985.4L836.1 983.9L837.3 946.0L837.8 946.0L839.1 985.3L839.7 985.4L840.7 975.0L841.3 975.0L842.1 984.7L842.7 985.6L843.3 985.7L844.8 984.6L845.4 984.6L846.3 985.5L846.9 984.5L847.6 980.2L848.2 980.2L848.7 983.2L849.3 985.4L851.1 985.2L851.7 984.1L852.3 984.1L852.9 985.1L853.5 985.5L854.1 985.4L854.8 984.2L855.4 984.2L855.9 985.0L856.5 985.5L857.1 985.2L857.5 984.8L858.1 984.8L858.3 985.1L858.9 985.2L859.7 982.0L860.3 982.0L861.3 985.2L861.9 985.3L863.3 984.8L864.9 985.6L865.5 985.4L866.1 985.6L867.1 983.6L867.7 983.6L868.5 985.3L869.1 985.5L870.9 985.0L871.5 985.3L872.7 985.6L873.9 985.2L874.7 982.0L875.3 982.0L875.7 983.6L876.3 984.9L876.9 985.1L877.7 984.1L878.3 984.1L879.3 985.3L880.5 985.5L881.1 985.3L881.7 985.4L883.7 984.7L884.7 985.4L885.6 984.2L886.2 984.2L887.1 985.7L888.1 979.6L888.7 979.6L889.5 984.9L890.2 984.8L891.3 985.6L891.9 985.2L892.5 985.2L893.1 984.4L893.7 984.4L894.3 985.1L894.9 985.6L895.5 985.4L896.2 984.8L896.8 984.8L897.9 985.5L898.5 985.2L900.3 985.4L900.9 985.2L901.5 984.6L901.8 983.7L902.4 983.7L902.7 984.6L903.3 985.2L903.9 985.3L904.7 983.0L905.3 983.0L905.7 984.1L906.3 984.9L906.9 984.9L907.5 985.4L909.3 985.6L911.1 985.3L911.8 984.6L912.4 984.6L912.9 985.2L914.1 985.4L914.7 985.7L915.3 985.2L916 984.2L916.6 984.2L917.7 985.4L918.9 985.5L919.5 985.3L920.1 985.4L920.7 983.8L921.3 981.6L921.8 981.6L922.5 984.7L923.1 985.3L923.7 985.2L924.5 984.2L925.1 984.2L926.1 985.4L927.9 985.4L928.5 984.5L929.1 984.5L929.7 985.3L930.3 985.3L930.9 984.7L932.1 977.4L932.7 977.4L933.6 983.1L933.9 983.5L934.2 983.5L935.1 985.3L935.7 985.5L936.3 985.3L936.9 985.7L938.3 984.6L938.9 984.6L939.7 982.0L940.3 982.0L940.9 984.1L941.5 984.1L942.9 985.6L943.5 985.3L944.1 985.5L945.5 984.0L946.1 984.0L947.1 985.3L947.7 985.6L948.3 985.6L949.8 978.0L950.3 978.0L951.3 983.7L951.9 985.2L953.1 985.6L954.3 984.0L954.9 984.0L955.5 985.0L956.7 985.5L957.7 982.0L958.3 982.0L958.5 982.8L959.1 983.9L959.2 983.7L959.8 983.6L960.3 985.5L961.5 985.2L962.3 984.4L962.9 984.4L963.9 985.4L964.5 985.4L965.5 984.1L966 981.6L966.6 981.6L967.5 985.3L968.1 985.3L968.8 984.0L969.4 984.0L969.9 985.2L970.5 985.7L971.1 983.2L971.7 978.0L972.3 978.0L973.1 984.1L974.1 985.3L974.7 985.5L975.9 985.0L976.5 984.0L976.9 984.0L977.1 980.4L978.3 946.6L978.9 946.6L980.1 981.8L980.7 984.9L981 984.4L981.9 984.3L982.7 970.0L983.3 970.0L984.1 983.7L984.4 983.7L985.5 985.4L986.1 985.4L987.6 971.8L988.2 971.8L989.1 981.1L989.7 985.3L990.3 985.7L990.9 984.8L991.7 978.0L992.3 978.0L993.3 985.2L994.5 985.7L995.1 985.1L995.8 983.7L996 981.6L996.7 970.0L997.3 970.0L998.1 984.3L998.7 984.8L1000.2 956.4L1000.8 956.4L1002.3 985.5L1003.6 984.2L1003.9 984.1L1004.7 978.0L1005.3 978.0L1005.9 983.2L1006.5 985.4L1007.1 985.3L1007.7 985.5L1009.5 985.0L1010.7 985.5L1011.6 984.2L1012.8 972.3L1013.4 972.3L1014.9 985.5L1015.5 985.7L1016.7 985.4L1017.4 984.7L1017.7 984.7L1018.5 985.6L1019.1 984.4L1019.7 982.0L1020.3 982.0L1020.9 984.4L1021.5 985.6L1022.7 984.4L1023.3 984.5L1023.9 985.3L1025.1 985.4L1026.4 984.7L1027 984.7L1027.5 985.4L1028.1 985.2L1028.7 985.7L1029.3 985.6L1030.6 984.8L1031.2 984.8L1032.3 985.6L1034.1 985.6L1034.7 985.3L1035.3 985.5L1036.2 983.5L1036.5 983.5L1036.8 983.0L1037.3 983.0L1038.3 985.5L1040.2 984.9L1041.3 985.7L1042.6 984.9L1043.2 984.9L1043.7 985.1L1044.7 982.0L1045.3 982.0L1046.1 985.2L1046.8 983.7L1047.4 983.7L1047.9 984.7L1048.7 975.0L1049.3 975.0L1050 983.9L1050.9 984.9L1051.5 977.8L1052.1 960.6L1052.7 960.6L1053.3 978.1L1053.9 984.7L1054.7 975.0L1055.3 975.0L1056.3 985.0L1057.3 984.6L1058.1 985.4L1059.1 954.4L1059.7 954.4L1060.5 983.0L1061.1 985.3L1061.7 985.4L1062.7 978.0L1063.3 978.0L1064.1 984.9L1065.1 984.7L1066.5 985.6L1067.3 983.7L1067.9 983.7L1068.3 985.1L1068.9 985.1L1069.7 980.0L1070.3 980.0L1071.3 985.2L1072.3 984.2L1072.9 984.3L1073.7 985.1L1074.7 975.0L1075.3 975.0L1076.1 984.7L1076.7 985.6L1077.5 985.1L1078.5 985.3L1079.1 949.1L1080.1 837.3L1080.7 837.3L1082.1 985.3L1082.7 985.1L1083.6 984.0L1083.9 984.0L1084.7 965.0L1085.3 965.0L1086.3 985.2L1086.9 985.3L1087.5 984.9L1088.2 983.5L1088.8 983.5L1089.9 985.6L1090.8 978.8L1091.4 978.8L1092.2 983.5L1092.5 983.5L1092.9 984.8L1093.5 985.6L1094.1 985.3L1095.3 985.3L1096 984.4L1096.7 984.4L1097.7 985.4L1098.3 985.2L1099.5 982.8L1099.7 982.0L1100.3 982.0L1101.3 985.4L1101.9 985.7L1102.5 985.3L1103.1 985.2L1104 984.3L1104.6 984.3L1105.5 985.1L1106.1 985.4L1106.7 985.3L1107.3 982.2L1108.7 963.4L1109.3 963.4L1110.9 984.8L1111.5 985.2L1112.8 985.0L1113.3 985.3L1114.5 985.4L1115.8 984.3L1116.4 984.3L1116.9 984.8L1117.7 982.0L1118.3 982.0L1118.7 983.6L1119 984.1L1119.3 984.1L1119.9 985.1L1120.5 985.1L1121.5 983.5L1122.1 983.5L1123.5 985.6L1124.1 985.2L1125 983.7L1125.6 983.7L1125.9 984.4L1126.5 981.1L1127.8 964.8L1128.4 964.8L1129.8 982.9L1130.7 984.7L1131.3 985.4L1132.5 985.3L1133.7 985.0L1134.9 985.5L1135.5 985.2L1136.1 985.4L1136.7 985.2L1137.3 984.7L1138 984.7L1138.5 985.1L1139.1 984.7L1139.8 983.0L1140.3 983.0L1140.9 984.7L1141.5 985.3L1142.1 985.2L1142.7 985.5L1143.3 985.0L1143.7 984.0L1144.3 984.0L1145.1 985.4L1145.7 985.6L1146.3 985.2L1147 983.9L1147.6 983.9L1148.7 985.7L1149.3 985.2L1149.9 984.1L1150.5 984.1L1151.1 985.1L1151.7 985.5L1152.3 985.2L1152.9 985.4L1154.2 983.5L1154.8 983.6L1155.9 985.2L1157.1 985.5L1158.3 985.0L1159.1 983.5L1159.7 983.5L1160.7 985.2L1161.3 985.6L1161.9 985.6L1162.7 983.6L1163.3 983.6L1164.3 981.6L1164.8 981.6L1166.1 984.3L1166.4 984.3L1166.7 985.0L1167.3 985.5L1169.1 985.3L1169.7 985.0L1170.1 984.2L1170.7 984.2L1171.5 985.6L1172.1 985.4L1172.7 985.6L1173.3 985.5L1173.9 985.6L1175.5 985.0L1177.5 985.6L1178.2 983.6L1178.8 983.6L1179.3 985.3L1179.9 985.6L1181.1 985.3L1181.8 984.0L1182.4 984.0L1182.9 985.1L1184.1 985.2L1184.7 985.6L1185.9 985.6L1186.5 983.8L1187.5 978.4L1188.1 978.4L1189.3 984.2L1189.9 984.2L1190.7 985.4L1191.3 985.2L1191.9 985.6L1193.4 984.3L1194 984.3L1194.9 985.2L1196.1 985.2L1197.1 984.9L1198.5 985.6L1199.7 985.3L1200.9 985.4L1201.5 983.8L1202.1 983.8L1202.7 985.2L1203.9 983.5L1204.5 983.5L1205.7 985.3L1206.3 985.7L1206.9 985.0L1207.2 984.3L1207.8 984.2L1208.1 984.8L1209.3 981.5L1209.8 981.5L1211.1 984.9L1211.8 984.8L1212.9 985.7L1213.5 985.3L1214.1 984.2L1214.7 984.2L1215.3 985.2L1215.9 985.6L1217.1 985.5L1218.1 983.6L1218.7 983.6L1219.5 985.3L1220.7 985.2L1221.3 985.6L1221.9 985.4L1222.5 985.6L1223.1 985.1L1223.7 983.9L1224.2 983.9L1224.9 985.2L1225.5 985.5L1226.7 983.9L1227.9 969.0L1228.5 969.0L1229.7 983.8L1230.9 984.0L1232.1 976.5L1232.6 976.5L1233.3 981.3L1233.9 983.7L1234.5 983.7L1235.7 985.5L1236.3 985.3L1236.9 984.9L1237.5 984.9L1238.1 985.4L1239.3 985.2L1239.9 985.5L1240.5 984.9L1241.2 983.6L1242.3 983.7L1243.2 981.5L1243.8 981.5L1245.3 985.1L1246 983.8L1246.6 983.8L1247.1 984.7L1247.7 985.4L1248.9 985.0L1249.6 983.8L1250.2 983.8L1251.3 985.7L1251.9 985.3L1253.1 985.6L1253.7 985.6L1254.3 984.8L1254.9 983.5L1255.5 983.6L1256.1 985.0L1257.3 985.6L1259 984.9L1259.7 985.4L1260.3 985.5L1261.8 984.6L1262.4 984.6L1263.3 985.5L1263.9 985.6L1264.5 985.2L1265.7 985.4L1266.5 984.0L1267.1 984.0L1267.5 984.7L1268.1 985.2L1269.3 985.6L1271.3 984.1L1271.7 984.2L1272.9 985.7L1274.7 985.5L1275.6 983.7L1276.2 983.7L1277.1 985.6L1278.9 985.1L1282.5 971.8L1283 971.8L1286.1 983.6L1286.4 983.9L1286.7 984.0L1287.3 985.2L1287.9 985.7L1288.5 985.5L1289.1 985.5L1289.7 985.2L1290.3 985.2L1291.2 985.0L1292.7 985.5L1293.3 985.5L1294.3 984.2L1294.9 984.2L1295.7 985.2L1296.9 985.6L1297.5 984.9L1297.8 983.7L1298.5 983.7L1298.7 984.6L1299.3 984.1L1299.7 983.0L1300.3 983.0L1300.9 984.5L1301.5 984.5L1302.3 985.3L1302.9 985.7L1303.5 985.3L1304.1 985.6L1304.7 985.2L1305.4 983.7L1306 983.7L1306.5 984.9L1307.1 985.5L1307.7 985.2L1308.3 985.5L1308.9 985.3L1309.5 984.8L1309.8 984.0L1310.4 984.0L1311.3 985.4L1312.5 985.4L1313.4 984.4L1314 984.4L1314.9 985.4L1316.1 985.6L1318.1 984.9L1319.1 985.6L1321.5 985.0L1322.7 985.5L1323.9 985.5L1324.5 985.7L1325.7 985.1L1326.3 983.9L1326.8 983.9L1327.5 985.4L1328.1 985.7L1329.3 985.3L1329.9 985.4L1331.1 985.1L1331.7 985.5L1332.3 985.5L1332.9 978.6L1333.7 962.0L1334.3 962.0L1335.3 982.8L1335.9 985.3L1336.5 982.6L1337.5 960.6L1338.1 960.6L1338.9 978.2L1339.5 985.2L1340.7 985.5L1341.3 985.3L1341.9 985.3L1342.6 983.7L1343.2 983.7L1344.3 985.6L1344.9 985.6L1346.1 984.9L1346.5 983.7L1347.1 983.7L1347.3 984.5L1347.9 982.9L1349.5 900.0L1350.1 900.0L1350.3 910.4L1351.9 826.1L1352.5 826.1L1353.3 869.3L1353.9 885.4L1354.3 860.0L1354.9 860.0L1356.9 985.5L1359.3 985.6L1359.9 985.4L1360.8 984.6L1361.4 984.6L1362.3 985.5L1362.9 985.5L1363.5 985.3L1364.1 985.6L1365 984.5L1365.6 984.5L1365.9 985.0L1367.1 985.7L1368.9 985.4L1369.7 984.6L1370.3 984.6L1371.3 985.7L1371.9 985.4L1373.1 985.6L1373.7 985.3L1374.3 984.6L1374.7 983.6L1375.3 983.6L1376.1 985.2L1376.7 985.2L1377.3 985.7L1378.2 983.9L1378.8 983.9L1379.7 985.7L1380.3 985.3L1380.9 985.5L1382.7 985.2L1383.4 984.5L1384 984.5L1384.5 985.4L1385.1 985.7L1386.3 984.5L1386.7 983.7L1387.3 983.7L1388.1 985.1L1388.7 985.6L1389.3 985.6L1390.5 985.2L1391.1 985.4L1392.3 983.8L1392.9 983.9L1394.1 985.5L1394.7 985.5L1395.3 984.4L1395.8 984.4L1396.5 985.3L1397.7 985.4L1399.3 984.8L1400.7 985.4L1401.3 985.1L1401.6 984.5L1402.2 984.5L1402.5 985.1L1403.1 985.3L1405.1 981.2L1405.3 981.2L1406.7 984.8L1407.3 985.2L1407.9 984.8L1408.5 983.8L1409.1 983.8L1410.3 985.4L1410.9 985.0L1411.6 983.9L1412.2 983.9L1413.3 985.4L1413.9 985.5L1415.1 985.0L1415.9 984.3L1416.5 984.3L1417.5 985.3L1419.3 985.4L1420.8 985.0L1421.7 985.4L1422.9 985.2L1423.5 985.4L1424.7 984.7L1425.3 984.7L1426.5 985.6" fill="none" stroke="#2f74ba" stroke-width="1.5" stroke-linejoin="round"/><path d="M304.4 74.3V383.6M300 74.9H304.4M300 139.4H304.4M300 197.8H304.4M300 261.3H304.4M300 323.5H304.4M300 383.2H304.4M304.4 385.2V695.3M300 388.3H304.4M300 450H304.4M300 510.5H304.4M300 572.6H304.4M300 635.4H304.4M300 695H304.4M304.4 701.3V994.6M300 703.5H304.4M300 762.4H304.4M300 819.4H304.4M300 878.1H304.4M300 937.5H304.4M300 994.2H304.4" stroke="#000" stroke-width="1.4" fill="none"/><path d="M314.4 381.4V389.6M314.4 692.2V700.9" stroke="#000" stroke-width="1.4"/><path d="M310 991.6H1441.3M313 993.6H1441.3" stroke="#000" stroke-width="1.2"/><path d="M314.3 993.4V999.7M380.4 993.4V998.6M450.8 993.4V998.6M520.6 993.4V998.6M590.4 993.4V998.6M659.6 993.4V998.6M728.6 993.4V998.6M798.6 993.4V998.6M868.7 993.4V998.6M939 993.4V998.6M1008.7 993.4V998.6M1083.4 993.4V998.6M1147 993.4V998.6M1217.1 993.4V998.6M1285.7 993.4V998.6M1357.6 993.4V998.6M1428 993.4V1001.5" stroke="#000" stroke-width="1.8"/><path d="M450.8 1000.4V1001.9M590.4 1000.4V1001.9M728.6 1000.4V1001.9M868.7 1000.4V1001.9M1008.7 1000.4V1001.9M1147 1000.4V1001.9" stroke="#000" stroke-width="1.4"/><path d="M370.6 390.2L370.6 457.5" stroke="#000" stroke-width="3" stroke-dasharray="8.5 2.5"/><path d="M492.5 394.2L492.5 649" stroke="#000" stroke-width="3" stroke-dasharray="8.5 2.5"/><path d="M634.5 386L634.5 617" stroke="#000" stroke-width="3" stroke-dasharray="8.5 2.5"/><path d="M654.4 391L654.4 604.5" stroke="#000" stroke-width="3" stroke-dasharray="8.5 2.5"/><path d="M689.8 393L689.8 596" stroke="#000" stroke-width="2.2" stroke-dasharray="8.5 2.5"/><path d="M696.4 391L696.4 593.5" stroke="#000" stroke-width="3" stroke-dasharray="8.5 2.5"/><path d="M702.9 399L702.6 628" stroke="#000" stroke-width="2.2" stroke-dasharray="8.5 2.5"/><path d="M714.4 396.2L714.2 598.5" stroke="#000" stroke-width="3" stroke-dasharray="8.5 2.5"/><path d="M762.7 388.2L762.2 466.5" stroke="#000" stroke-width="2.2" stroke-dasharray="8.5 2.5"/><path d="M886.5 396.2L886.4 684.5" stroke="#000" stroke-width="3" stroke-dasharray="8.5 2.5"/><path d="M919.5 391L919.4 680" stroke="#000" stroke-width="3" stroke-dasharray="8.5 2.5"/><path d="M976.4 391L976.4 680" stroke="#000" stroke-width="3" stroke-dasharray="8.5 2.5"/><path d="M1000.4 393L1000.5 682.5" stroke="#000" stroke-width="3" stroke-dasharray="8.5 2.5"/><path d="M1030 396L1030 684.5" stroke="#000" stroke-width="2.2" stroke-dasharray="8.5 2.5"/><path d="M1057.4 386L1057.5 675.7" stroke="#000" stroke-width="3" stroke-dasharray="8.5 2.5"/><path d="M1081.4 386L1081.4 622.5" stroke="#000" stroke-width="3" stroke-dasharray="8.5 2.5"/><path d="M1191.4 393L1191.3 682.3" stroke="#000" stroke-width="3" stroke-dasharray="8.5 2.5"/><path d="M1225.4 396L1225.4 684.5" stroke="#000" stroke-width="3" stroke-dasharray="8.5 2.5"/><path d="M366.1 709.8L366.1 750" stroke="#000" stroke-width="3" stroke-dasharray="8.5 2.5"/><path d="M492.8 714L492.8 928.4" stroke="#000" stroke-width="2.2" stroke-dasharray="8.5 2.5"/><path d="M634.5 723L634.5 953.6" stroke="#000" stroke-width="3" stroke-dasharray="8.5 2.5"/><path d="M654.1 712.6L654.1 858.3" stroke="#000" stroke-width="2" stroke-dasharray="8.5 2.5"/><path d="M695.2 701.2L695.2 869.4" stroke="#000" stroke-width="3" stroke-dasharray="8.5 2.5"/><path d="M699.7 701L701.5 800" stroke="#000" stroke-width="2.5" stroke-dasharray="8.5 2.5"/><path d="M703.5 703.5L703.5 851.4" stroke="#000" stroke-width="2.5" stroke-dasharray="8.5 2.5"/><path d="M713.6 711.3L713.6 912" stroke="#000" stroke-width="3" stroke-dasharray="8.5 2.5"/><path d="M886.3 708.4L890.5 976" stroke="#000" stroke-width="3" stroke-dasharray="8.5 2.5"/><path d="M919.2 704.2L919.2 962" stroke="#000" stroke-width="3" stroke-dasharray="8.5 2.5"/><path d="M976.7 703L976.7 917.1" stroke="#000" stroke-width="3" stroke-dasharray="8.5 2.5"/><path d="M1000.5 705.6L1000.5 941" stroke="#000" stroke-width="3" stroke-dasharray="8.5 2.5"/><path d="M1030.5 708L1033.5 976" stroke="#000" stroke-width="3" stroke-dasharray="8.5 2.5"/><path d="M1057.2 708.4L1057.2 936.8" stroke="#000" stroke-width="3" stroke-dasharray="8.5 2.5"/><path d="M1079 710.6L1081.3 831.7" stroke="#000" stroke-width="3" stroke-dasharray="8.5 2.5"/><path d="M1227.4 713.3L1227.6 949.4" stroke="#000" stroke-width="3" stroke-dasharray="8.5 2.5"/><path d="M1191.6 706V992.4" stroke="#000" stroke-width="1" stroke-dasharray="4 2"/><path d="M367.10 244.20 L368.10 232.10 L363.10 232.10 L364.10 244.20ZM366.35 242.90 L356.37 235.98 L353.87 240.32 L364.85 245.50ZM364.85 242.90 L353.87 248.08 L356.37 252.42 L366.35 245.50ZM364.10 244.20 L363.10 256.30 L368.10 256.30 L367.10 244.20ZM364.85 245.50 L374.83 252.42 L377.33 248.08 L366.35 242.90ZM366.35 245.50 L377.33 240.32 L374.83 235.98 L364.85 242.90ZM493.50 268.60 L494.50 256.50 L489.50 256.50 L490.50 268.60ZM492.75 267.30 L482.77 260.38 L480.27 264.72 L491.25 269.90ZM491.25 267.30 L480.27 272.48 L482.77 276.82 L492.75 269.90ZM490.50 268.60 L489.50 280.70 L494.50 280.70 L493.50 268.60ZM491.25 269.90 L501.23 276.82 L503.73 272.48 L492.75 267.30ZM492.75 269.90 L503.73 264.72 L501.23 260.38 L491.25 267.30ZM636.50 320.10 L637.50 308.00 L632.50 308.00 L633.50 320.10ZM635.75 318.80 L625.77 311.88 L623.27 316.22 L634.25 321.40ZM634.25 318.80 L623.27 323.98 L625.77 328.32 L635.75 321.40ZM633.50 320.10 L632.50 332.20 L637.50 332.20 L636.50 320.10ZM634.25 321.40 L644.23 328.32 L646.73 323.98 L635.75 318.80ZM635.75 321.40 L646.73 316.22 L644.23 311.88 L634.25 318.80ZM655.30 298.80 L656.30 286.70 L651.30 286.70 L652.30 298.80ZM654.55 297.50 L644.57 290.58 L642.07 294.92 L653.05 300.10ZM653.05 297.50 L642.07 302.68 L644.57 307.02 L654.55 300.10ZM652.30 298.80 L651.30 310.90 L656.30 310.90 L655.30 298.80ZM653.05 300.10 L663.03 307.02 L665.53 302.68 L654.55 297.50ZM654.55 300.10 L665.53 294.92 L663.03 290.58 L653.05 297.50ZM696.10 298.80 L697.10 286.70 L692.10 286.70 L693.10 298.80ZM695.35 297.50 L685.37 290.58 L682.87 294.92 L693.85 300.10ZM693.85 297.50 L682.87 302.68 L685.37 307.02 L695.35 300.10ZM693.10 298.80 L692.10 310.90 L697.10 310.90 L696.10 298.80ZM693.85 300.10 L703.83 307.02 L706.33 302.68 L695.35 297.50ZM695.35 300.10 L706.33 294.92 L703.83 290.58 L693.85 297.50ZM711.20 314.70 L712.20 302.60 L707.20 302.60 L708.20 314.70ZM710.45 313.40 L700.47 306.48 L697.97 310.82 L708.95 316.00ZM708.95 313.40 L697.97 318.58 L700.47 322.92 L710.45 316.00ZM708.20 314.70 L707.20 326.80 L712.20 326.80 L711.20 314.70ZM708.95 316.00 L718.93 322.92 L721.43 318.58 L710.45 313.40ZM710.45 316.00 L721.43 310.82 L718.93 306.48 L708.95 313.40ZM706.60 336.50 L707.60 324.40 L702.60 324.40 L703.60 336.50ZM705.85 335.20 L695.87 328.28 L693.37 332.62 L704.35 337.80ZM704.35 335.20 L693.37 340.38 L695.87 344.72 L705.85 337.80ZM703.60 336.50 L702.60 348.60 L707.60 348.60 L706.60 336.50ZM704.35 337.80 L714.33 344.72 L716.83 340.38 L705.85 335.20ZM705.85 337.80 L716.83 332.62 L714.33 328.28 L704.35 335.20ZM715.70 358.40 L716.70 346.30 L711.70 346.30 L712.70 358.40ZM714.95 357.10 L704.97 350.18 L702.47 354.52 L713.45 359.70ZM713.45 357.10 L702.47 362.28 L704.97 366.62 L714.95 359.70ZM712.70 358.40 L711.70 370.50 L716.70 370.50 L715.70 358.40ZM713.45 359.70 L723.43 366.62 L725.93 362.28 L714.95 357.10ZM714.95 359.70 L725.93 354.52 L723.43 350.18 L713.45 357.10ZM731.70 282.50 L732.70 270.40 L727.70 270.40 L728.70 282.50ZM730.95 281.20 L720.97 274.28 L718.47 278.62 L729.45 283.80ZM729.45 281.20 L718.47 286.38 L720.97 290.72 L730.95 283.80ZM728.70 282.50 L727.70 294.60 L732.70 294.60 L731.70 282.50ZM729.45 283.80 L739.43 290.72 L741.93 286.38 L730.95 281.20ZM730.95 283.80 L741.93 278.62 L739.43 274.28 L729.45 281.20ZM766.60 219.60 L767.60 207.50 L762.60 207.50 L763.60 219.60ZM765.85 218.30 L755.87 211.38 L753.37 215.72 L764.35 220.90ZM764.35 218.30 L753.37 223.48 L755.87 227.82 L765.85 220.90ZM763.60 219.60 L762.60 231.70 L767.60 231.70 L766.60 219.60ZM764.35 220.90 L774.33 227.82 L776.83 223.48 L765.85 218.30ZM765.85 220.90 L776.83 215.72 L774.33 211.38 L764.35 218.30ZM888.00 363.30 L889.00 351.20 L884.00 351.20 L885.00 363.30ZM887.25 362.00 L877.27 355.08 L874.77 359.42 L885.75 364.60ZM885.75 362.00 L874.77 367.18 L877.27 371.52 L887.25 364.60ZM885.00 363.30 L884.00 375.40 L889.00 375.40 L888.00 363.30ZM885.75 364.60 L895.73 371.52 L898.23 367.18 L887.25 362.00ZM887.25 364.60 L898.23 359.42 L895.73 355.08 L885.75 362.00ZM920.70 344.70 L921.70 332.60 L916.70 332.60 L917.70 344.70ZM919.95 343.40 L909.97 336.48 L907.47 340.82 L918.45 346.00ZM918.45 343.40 L907.47 348.58 L909.97 352.92 L919.95 346.00ZM917.70 344.70 L916.70 356.80 L921.70 356.80 L920.70 344.70ZM918.45 346.00 L928.43 352.92 L930.93 348.58 L919.95 343.40ZM919.95 346.00 L930.93 340.82 L928.43 336.48 L918.45 343.40ZM985.60 322.40 L986.60 310.30 L981.60 310.30 L982.60 322.40ZM984.85 321.10 L974.87 314.18 L972.37 318.52 L983.35 323.70ZM983.35 321.10 L972.37 326.28 L974.87 330.62 L984.85 323.70ZM982.60 322.40 L981.60 334.50 L986.60 334.50 L985.60 322.40ZM983.35 323.70 L993.33 330.62 L995.83 326.28 L984.85 321.10ZM984.85 323.70 L995.83 318.52 L993.33 314.18 L983.35 321.10ZM1002.30 358.20 L1003.30 346.10 L998.30 346.10 L999.30 358.20ZM1001.55 356.90 L991.57 349.98 L989.07 354.32 L1000.05 359.50ZM1000.05 356.90 L989.07 362.08 L991.57 366.42 L1001.55 359.50ZM999.30 358.20 L998.30 370.30 L1003.30 370.30 L1002.30 358.20ZM1000.05 359.50 L1010.03 366.42 L1012.53 362.08 L1001.55 356.90ZM1001.55 359.50 L1012.53 354.32 L1010.03 349.98 L1000.05 356.90ZM1034.50 361.10 L1035.50 349.00 L1030.50 349.00 L1031.50 361.10ZM1033.75 359.80 L1023.77 352.88 L1021.27 357.22 L1032.25 362.40ZM1032.25 359.80 L1021.27 364.98 L1023.77 369.32 L1033.75 362.40ZM1031.50 361.10 L1030.50 373.20 L1035.50 373.20 L1034.50 361.10ZM1032.25 362.40 L1042.23 369.32 L1044.73 364.98 L1033.75 359.80ZM1033.75 362.40 L1044.73 357.22 L1042.23 352.88 L1032.25 359.80ZM1059.20 358.40 L1060.20 346.30 L1055.20 346.30 L1056.20 358.40ZM1058.45 357.10 L1048.47 350.18 L1045.97 354.52 L1056.95 359.70ZM1056.95 357.10 L1045.97 362.28 L1048.47 366.62 L1058.45 359.70ZM1056.20 358.40 L1055.20 370.50 L1060.20 370.50 L1059.20 358.40ZM1056.95 359.70 L1066.93 366.62 L1069.43 362.28 L1058.45 357.10ZM1058.45 359.70 L1069.43 354.52 L1066.93 350.18 L1056.95 357.10ZM1078.00 309.30 L1079.00 297.20 L1074.00 297.20 L1075.00 309.30ZM1077.25 308.00 L1067.27 301.08 L1064.77 305.42 L1075.75 310.60ZM1075.75 308.00 L1064.77 313.18 L1067.27 317.52 L1077.25 310.60ZM1075.00 309.30 L1074.00 321.40 L1079.00 321.40 L1078.00 309.30ZM1075.75 310.60 L1085.73 317.52 L1088.23 313.18 L1077.25 308.00ZM1077.25 310.60 L1088.23 305.42 L1085.73 301.08 L1075.75 308.00ZM1191.80 360.50 L1192.80 348.40 L1187.80 348.40 L1188.80 360.50ZM1191.05 359.20 L1181.07 352.28 L1178.57 356.62 L1189.55 361.80ZM1189.55 359.20 L1178.57 364.38 L1181.07 368.72 L1191.05 361.80ZM1188.80 360.50 L1187.80 372.60 L1192.80 372.60 L1191.80 360.50ZM1189.55 361.80 L1199.53 368.72 L1202.03 364.38 L1191.05 359.20ZM1191.05 361.80 L1202.03 356.62 L1199.53 352.28 L1189.55 359.20ZM1230.10 314.70 L1231.10 302.60 L1226.10 302.60 L1227.10 314.70ZM1229.35 313.40 L1219.37 306.48 L1216.87 310.82 L1227.85 316.00ZM1227.85 313.40 L1216.87 318.58 L1219.37 322.92 L1229.35 316.00ZM1227.10 314.70 L1226.10 326.80 L1231.10 326.80 L1230.10 314.70ZM1227.85 316.00 L1237.83 322.92 L1240.33 318.58 L1229.35 313.40ZM1229.35 316.00 L1240.33 310.82 L1237.83 306.48 L1227.85 313.40Z" fill="#000"/></svg>
<div class="yl" style="right:1209.5px;top:61.5px">100</div><div class="yl" style="right:1212.5px;top:124.1px">80</div><div class="yl" style="right:1211.8px;top:183.6px">60</div><div class="yl" style="right:1213.5px;top:245px">40</div><div class="yl" style="right:1212.1px;top:307.6px">20</div><div class="yl" style="right:1218px;top:355.1px">0</div><div class="yl" style="right:1209.5px;top:384.7px">100</div><div class="yl" style="right:1212.5px;top:435.5px">80</div><div class="yl" style="right:1211.8px;top:495.8px">60</div><div class="yl" style="right:1213.5px;top:558.4px">40</div><div class="yl" style="right:1212.1px;top:620.6px">20</div><div class="yl" style="right:1218px;top:674.6px">0</div><div class="yl" style="right:1209.5px;top:701.5px">100</div><div class="yl" style="right:1212.5px;top:748.2px">80</div><div class="yl" style="right:1211.8px;top:806.3px">60</div><div class="yl" style="right:1213.5px;top:865px">40</div><div class="yl" style="right:1212.1px;top:922.8px">20</div><div class="yl" style="right:1218px;top:984.1px">0</div><div class="xl" style="left:295.9px;top:1004.7px">4000</div><div class="xl" style="left:435.3px;top:1004.7px">5000</div><div class="xl" style="left:575.3px;top:1004.7px">6000</div><div class="xl" style="left:713.4px;top:1004.7px">7000</div><div class="xl" style="left:854px;top:1004.7px">8000</div><div class="xl" style="left:993.1px;top:1004.7px">9000</div><div class="xl" style="left:1128.1px;top:1004.7px">10000</div><div class="xl" style="left:1268.3px;top:1004.7px">11000</div><div class="xl" style="left:1408.5px;top:1004.7px">12000</div><div class="sp bi" style="top:164px">M. abscessus</div><div class="sp b" style="top:203.3px">subsp.</div><div class="sp bi" style="top:242.6px">abscessus</div><div class="sp bi" style="top:497.9px">M. abscessus</div><div class="sp b" style="top:537.1px">subsp.</div><div class="sp bi" style="top:575.8px">bolletii</div><div class="sp bi" style="top:787.9px">M. abscessus</div><div class="sp b" style="top:827.1px">subsp.</div><div class="sp bi" style="top:865.8px">massiliense</div><div class="yt" style="left:201px;top:248px">% Intensity</div><div class="yt" style="left:201px;top:561px">% Intensity</div><div class="yt" style="left:201px;top:861px">% Intensity</div><div class="x5" style="left:408.5px;top:-5.8px">x5</div><div class="x5" style="left:950.2px;top:-5.8px">x5</div><div class="mz" style="left:863px;top:1039.5px">m/z</div>
</div></body></html>
